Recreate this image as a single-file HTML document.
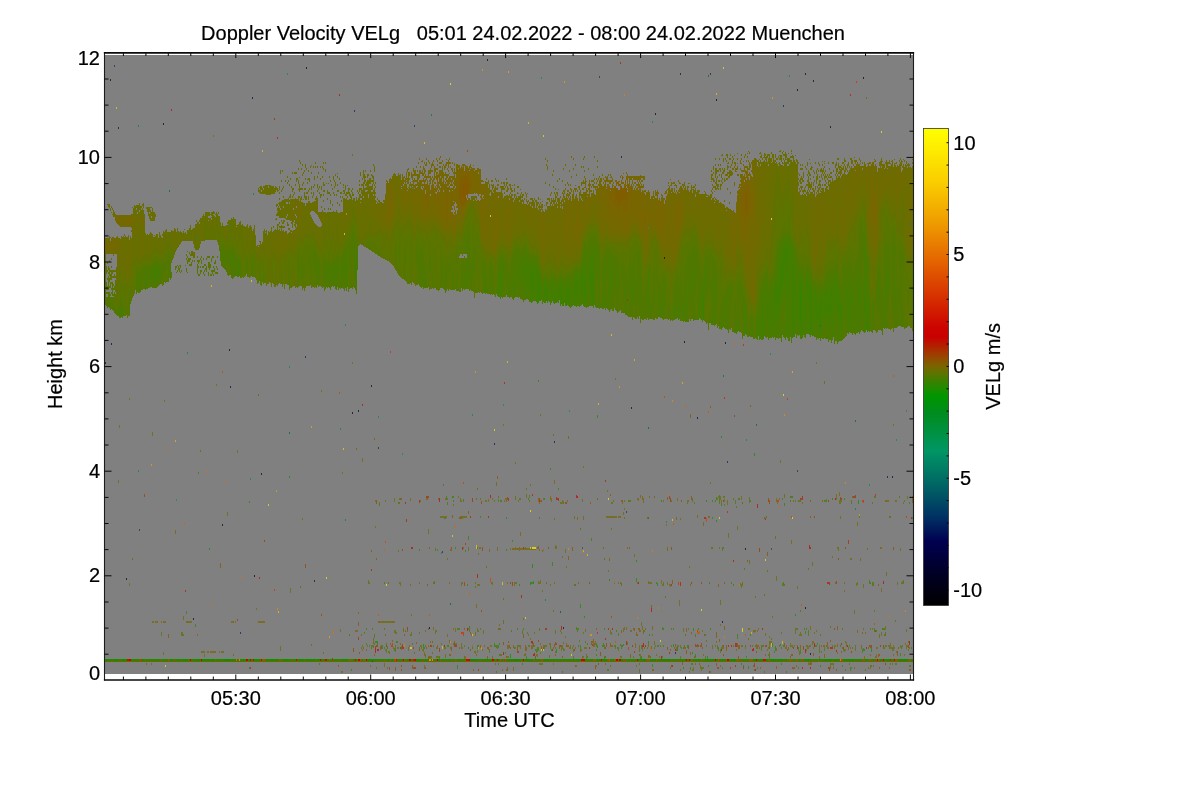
<!DOCTYPE html>
<html lang="en"><head><meta charset="utf-8"><title>Doppler Velocity VELg</title>
<style>html,body{margin:0;padding:0;background:#fff;overflow:hidden}svg text{font-family:"Liberation Sans",sans-serif}</style>
</head><body>
<svg width="1200" height="800" viewBox="0 0 1200 800" style="display:block">
<defs><linearGradient id="cb" x1="0" y1="0" x2="0" y2="1">
<stop offset="0.0000" stop-color="rgb(255, 255, 0)"/>
<stop offset="0.1132" stop-color="rgb(250, 205, 0)"/>
<stop offset="0.1992" stop-color="rgb(238, 155, 0)"/>
<stop offset="0.2642" stop-color="rgb(230, 110, 0)"/>
<stop offset="0.3501" stop-color="rgb(215, 50, 0)"/>
<stop offset="0.4151" stop-color="rgb(205, 5, 0)"/>
<stop offset="0.4361" stop-color="rgb(200, 0, 0)"/>
<stop offset="0.4549" stop-color="rgb(180, 30, 0)"/>
<stop offset="0.4717" stop-color="rgb(160, 58, 0)"/>
<stop offset="0.4864" stop-color="rgb(140, 82, 0)"/>
<stop offset="0.4998" stop-color="rgb(120, 102, 0)"/>
<stop offset="0.5136" stop-color="rgb(92, 116, 0)"/>
<stop offset="0.5283" stop-color="rgb(62, 127, 0)"/>
<stop offset="0.5451" stop-color="rgb(30, 140, 0)"/>
<stop offset="0.5618" stop-color="rgb(0, 150, 0)"/>
<stop offset="0.5975" stop-color="rgb(0, 140, 30)"/>
<stop offset="0.6751" stop-color="rgb(0, 150, 100)"/>
<stop offset="0.7484" stop-color="rgb(0, 100, 100)"/>
<stop offset="0.8134" stop-color="rgb(0, 50, 100)"/>
<stop offset="0.8658" stop-color="rgb(0, 0, 80)"/>
<stop offset="0.9455" stop-color="rgb(0, 0, 30)"/>
<stop offset="1.0000" stop-color="rgb(0, 0, 0)"/>
</linearGradient></defs>
<rect width="1200" height="800" fill="#fff"/>
<rect x="105" y="55" width="808" height="619" fill="#808080"/>
<g shape-rendering="crispEdges" fill="none" stroke-width="1">
<path stroke="rgb(52,131,0)" d="M800.5 294v16"/>
<path stroke="rgb(57,129,0)" d="M538.5 280v23M539.5 285v10M545.5 286v15M560.5 286v15M590.5 273v6M781.5 269v11M792.5 311v3M799.5 285v32M800.5 285v9M800.5 310v11M801.5 298v9M801.5 314v7"/>
<path stroke="rgb(63,127,0)" d="M154.5 271v2M485.5 287v7M525.5 265v9M530.5 276v5M531.5 268v23M532.5 266v26M533.5 272v17M537.5 271v33M538.5 274v6M539.5 278v7M539.5 295v6M540.5 285v16M544.5 285v12M545.5 282v4M545.5 301v2M546.5 288v13M551.5 288v10M555.5 298v5M556.5 296v7M559.5 287v13M560.5 281v5M560.5 301v5M561.5 295v9M563.5 296v10M564.5 300v3M565.5 304v2M566.5 290v16M567.5 286v19M568.5 288v13M569.5 284v16M574.5 282v17M575.5 284v11M576.5 276v22M581.5 273v23M582.5 270v28M583.5 290v2M584.5 279v28M585.5 274v23M586.5 288v5M589.5 267v12M590.5 262v11M590.5 279v13M591.5 272v30M592.5 274v32M593.5 272v32M703.5 300v20M762.5 299v23M772.5 314v7M775.5 285v22M776.5 282v33M778.5 283v19M779.5 287v19M780.5 263v31M781.5 259v10M781.5 280v11M782.5 259v23M783.5 249v31M784.5 244v24M785.5 247v18M786.5 252v23M787.5 250v44M788.5 244v16M792.5 264v47M792.5 314v18M793.5 277v59M794.5 281v15M799.5 278v7M799.5 317v8M800.5 279v6M800.5 321v7M801.5 284v14M801.5 307v7M801.5 321v13M805.5 302v20M807.5 279v21M808.5 281v20M809.5 291v8M810.5 285v26M810.5 315v17M811.5 286v48M815.5 293v23M816.5 302v18M818.5 304v14M819.5 306v22M820.5 301v22M821.5 298v20M822.5 305v5M825.5 289v21M826.5 292v23M828.5 294v18M829.5 298v18M830.5 303v9M831.5 288v26M832.5 293v14M835.5 286v21M836.5 286v14M838.5 296v21M839.5 303v11M840.5 303v16M841.5 307v12M860.5 288v17M864.5 297v16M866.5 323v7M867.5 315v17"/>
<path stroke="rgb(69,125,0)" d="M120.5 309v6M121.5 312v1M122.5 311v4M146.5 270v19M153.5 268v7M154.5 266v5M154.5 273v7M155.5 267v12M156.5 266v12M157.5 269v6M158.5 268v9M159.5 268v7M232.5 257v1M238.5 266v9M239.5 263v13M325.5 273v10M333.5 266v19M336.5 269v5M341.5 269v13M345.5 269v5M346.5 264v27M355.5 261v16M457.5 287v4M484.5 282v11M485.5 278v9M497.5 286v10M498.5 272v25M499.5 280v17M500.5 277v22M501.5 270v17M502.5 268v29M508.5 286v11M509.5 290v8M520.5 269v9M521.5 262v18M524.5 258v23M525.5 255v10M525.5 274v14M526.5 260v38M527.5 264v35M528.5 266v27M529.5 266v23M530.5 265v11M530.5 281v21M531.5 262v6M531.5 291v12M532.5 260v6M532.5 292v9M533.5 263v9M533.5 289v11M534.5 271v30M535.5 270v31M536.5 265v37M537.5 264v7M538.5 269v5M539.5 273v5M540.5 278v7M541.5 288v12M542.5 294v10M544.5 281v4M544.5 297v6M545.5 279v3M546.5 281v7M547.5 290v13M548.5 289v12M550.5 286v19M551.5 280v8M551.5 298v5M552.5 285v16M553.5 282v21M554.5 280v24M555.5 285v13M556.5 289v7M557.5 289v13M558.5 287v16M559.5 282v5M560.5 278v3M561.5 282v13M562.5 299v7M563.5 282v14M564.5 290v10M565.5 288v16M566.5 283v7M567.5 280v6M568.5 280v8M568.5 301v5M569.5 279v5M569.5 300v7M570.5 289v8M571.5 297v10M572.5 288v18M573.5 278v27M574.5 276v6M574.5 299v7M575.5 276v8M575.5 295v11M576.5 272v4M576.5 298v7M577.5 277v18M578.5 275v31M579.5 275v32M580.5 273v21M581.5 268v5M581.5 296v9M582.5 264v6M582.5 298v6M583.5 264v26M583.5 292v14M584.5 251v28M585.5 253v21M585.5 297v10M586.5 269v19M586.5 293v15M589.5 255v12M589.5 279v10M590.5 255v7M590.5 292v10M591.5 263v9M591.5 302v4M592.5 264v10M593.5 252v20M593.5 304v4M594.5 253v15M598.5 300v8M605.5 297v13M610.5 273v22M631.5 289v4M632.5 289v5M660.5 305v12M674.5 306v10M678.5 312v8M698.5 314v6M699.5 305v13M702.5 296v26M703.5 290v10M713.5 322v3M720.5 325v4M737.5 323v9M744.5 309v26M745.5 311v23M750.5 335v2M752.5 331v6M757.5 322v18M758.5 326v9M759.5 318v22M760.5 321v18M761.5 317v23M762.5 288v11M762.5 322v18M763.5 289v50M764.5 314v22M767.5 295v25M769.5 297v31M770.5 292v46M771.5 291v47M772.5 294v20M772.5 321v16M773.5 289v49M774.5 285v33M775.5 279v6M775.5 307v11M776.5 275v7M776.5 315v16M777.5 268v48M778.5 256v27M778.5 302v17M779.5 251v36M779.5 306v13M780.5 253v10M780.5 294v12M781.5 252v7M781.5 291v9M782.5 248v11M782.5 282v10M783.5 242v7M783.5 280v12M784.5 239v5M784.5 268v20M784.5 337v1M785.5 241v6M785.5 265v16M786.5 243v9M786.5 275v62M787.5 241v9M787.5 294v44M788.5 238v6M788.5 260v47M788.5 320v14M789.5 240v55M790.5 243v40M791.5 247v42M791.5 303v17M792.5 247v17M792.5 332v6M793.5 260v17M793.5 336v1M794.5 267v14M794.5 296v41M795.5 266v68M796.5 303v19M798.5 275v44M799.5 272v6M799.5 325v8M800.5 274v5M800.5 328v7M801.5 277v7M801.5 334v5M802.5 278v60M803.5 279v28M804.5 295v29M805.5 290v12M805.5 322v15M806.5 280v45M807.5 272v7M807.5 300v34M808.5 274v7M808.5 301v33M809.5 279v12M809.5 299v36M810.5 278v7M810.5 311v4M810.5 332v5M811.5 280v6M811.5 334v1M812.5 291v45M813.5 311v24M814.5 289v31M815.5 287v6M815.5 316v7M816.5 294v8M816.5 320v11M817.5 298v24M818.5 293v11M818.5 318v12M819.5 296v10M819.5 328v10M820.5 293v8M820.5 323v18M821.5 291v7M821.5 318v20M822.5 295v10M822.5 310v11M823.5 300v15M824.5 293v26M825.5 283v6M825.5 310v10M826.5 283v9M826.5 315v10M827.5 292v27M828.5 284v10M828.5 312v7M829.5 288v10M829.5 316v10M830.5 292v11M830.5 312v9M831.5 279v9M831.5 314v8M832.5 280v13M832.5 307v30M833.5 288v9M833.5 320v17M834.5 282v27M835.5 278v8M835.5 307v9M836.5 277v9M836.5 300v11M837.5 282v29M838.5 286v10M838.5 317v25M839.5 294v9M839.5 314v10M840.5 295v8M840.5 319v9M841.5 298v9M841.5 319v12M842.5 309v13M845.5 279v24M846.5 288v17M847.5 295v31M848.5 297v34M849.5 295v37M850.5 288v38M851.5 285v27M852.5 288v15M858.5 299v22M859.5 279v38M860.5 280v8M860.5 305v15M864.5 246v51M864.5 313v12M865.5 255v77M866.5 297v26M867.5 296v19M868.5 292v39M869.5 302v10M873.5 313v3M885.5 290v8M885.5 326v2M886.5 282v12M887.5 274v13"/>
<path stroke="rgb(74,123,0)" d="M112.5 308v2M114.5 310v3M118.5 309v6M119.5 309v6M120.5 305v4M120.5 315v3M121.5 307v5M121.5 313v4M122.5 308v3M122.5 315v3M123.5 310v6M137.5 275v17M138.5 278v15M139.5 275v18M140.5 276v10M145.5 269v21M146.5 267v3M147.5 268v17M150.5 267v17M151.5 267v20M152.5 267v13M153.5 265v3M153.5 275v6M154.5 264v2M154.5 280v8M155.5 264v3M155.5 279v8M156.5 264v2M156.5 278v5M157.5 266v3M157.5 275v6M158.5 265v3M158.5 277v6M159.5 265v3M159.5 275v6M160.5 266v11M161.5 266v10M168.5 271v11M169.5 268v10M221.5 253v5M223.5 253v7M224.5 253v16M230.5 255v7M231.5 252v12M232.5 250v7M232.5 258v11M233.5 252v20M234.5 259v4M235.5 261v7M236.5 261v15M238.5 260v6M238.5 275v2M239.5 260v3M240.5 264v14M247.5 269v5M316.5 264v12M317.5 262v21M318.5 270v5M325.5 264v9M325.5 283v6M326.5 267v20M328.5 264v11M329.5 264v16M331.5 267v16M332.5 263v22M333.5 260v6M333.5 285v2M334.5 267v16M335.5 267v14M336.5 260v9M336.5 274v14M337.5 260v21M338.5 262v22M341.5 261v8M341.5 282v6M342.5 263v9M343.5 255v17M344.5 256v27M345.5 254v15M345.5 274v14M346.5 253v11M347.5 267v20M349.5 249v7M354.5 251v29M355.5 250v11M355.5 277v9M356.5 248v40M357.5 252v18M422.5 272v15M423.5 281v8M424.5 280v8M445.5 285v8M446.5 274v6M457.5 277v10M463.5 274v15M464.5 277v13M465.5 272v17M466.5 263v26M467.5 255v30M468.5 245v22M469.5 260v12M470.5 272v12M473.5 248v21M483.5 267v19M483.5 292v1M484.5 271v11M485.5 271v7M486.5 283v10M490.5 263v29M491.5 271v5M492.5 285v10M493.5 278v16M497.5 278v8M498.5 264v8M499.5 270v10M500.5 262v15M501.5 259v11M501.5 287v10M502.5 260v8M502.5 297v1M503.5 265v32M507.5 281v16M508.5 279v7M509.5 281v9M511.5 266v20M512.5 267v24M513.5 271v29M514.5 281v17M515.5 254v43M516.5 258v38M517.5 260v15M518.5 255v24M519.5 257v40M520.5 258v11M520.5 278v20M521.5 255v7M521.5 280v11M522.5 258v26M523.5 253v39M524.5 250v8M524.5 281v19M525.5 249v6M525.5 288v12M526.5 253v7M526.5 298v1M527.5 256v8M528.5 257v9M528.5 293v7M529.5 259v7M529.5 289v10M530.5 260v5M531.5 258v4M532.5 256v4M532.5 301v1M533.5 258v5M533.5 300v1M534.5 262v9M535.5 262v8M536.5 260v5M537.5 260v4M538.5 265v4M539.5 270v3M540.5 273v5M541.5 278v10M542.5 283v11M543.5 282v20M544.5 278v3M545.5 277v2M546.5 278v3M547.5 279v11M548.5 281v8M549.5 287v15M550.5 279v7M551.5 276v4M552.5 279v6M553.5 277v5M554.5 276v4M555.5 280v5M556.5 283v6M557.5 283v6M558.5 282v5M559.5 279v3M560.5 276v2M561.5 278v4M562.5 282v17M563.5 278v4M564.5 282v8M565.5 282v6M566.5 279v4M567.5 277v3M568.5 276v4M569.5 275v4M570.5 280v9M570.5 297v11M571.5 281v16M572.5 277v11M573.5 273v5M574.5 272v4M575.5 272v4M576.5 269v3M576.5 305v2M577.5 272v5M577.5 295v11M578.5 271v4M579.5 271v4M580.5 269v4M580.5 294v12M581.5 265v3M582.5 258v6M583.5 252v12M584.5 246v5M585.5 246v7M586.5 257v12M587.5 267v40M588.5 255v31M589.5 244v11M589.5 289v8M590.5 244v11M590.5 302v4M591.5 254v9M592.5 253v11M593.5 243v9M594.5 243v10M594.5 268v37M595.5 248v26M596.5 246v27M597.5 251v14M598.5 253v47M599.5 270v39M602.5 270v11M603.5 267v42M604.5 265v43M605.5 255v42M606.5 302v6M608.5 253v49M609.5 271v30M610.5 259v14M610.5 295v8M611.5 259v36M612.5 262v26M616.5 268v20M617.5 268v25M623.5 274v17M624.5 285v28M625.5 285v30M630.5 291v10M630.5 316v1M631.5 277v12M631.5 293v13M632.5 275v14M632.5 294v16M633.5 266v28M634.5 265v33M639.5 275v25M640.5 276v21M646.5 299v8M648.5 272v43M649.5 270v40M651.5 309v9M654.5 290v11M658.5 297v20M659.5 294v23M660.5 295v10M660.5 317v1M661.5 312v6M664.5 282v21M673.5 301v19M674.5 294v12M674.5 316v4M675.5 301v18M676.5 280v9M677.5 304v14M678.5 302v10M679.5 298v21M680.5 286v12M682.5 306v15M683.5 305v16M684.5 304v8M685.5 299v23M686.5 289v33M687.5 285v23M688.5 268v23M690.5 280v19M692.5 254v40M693.5 265v27M694.5 264v23M698.5 299v15M699.5 296v9M700.5 307v5M701.5 291v29M702.5 287v9M703.5 283v7M704.5 276v45M705.5 264v25M706.5 264v25M707.5 268v12M710.5 320v3M712.5 284v41M713.5 298v24M714.5 279v47M715.5 281v23M715.5 318v7M719.5 324v5M720.5 317v8M721.5 322v8M722.5 321v7M725.5 298v31M726.5 296v33M727.5 300v30M729.5 286v16M730.5 291v7M736.5 327v7M737.5 314v9M738.5 321v10M741.5 291v8M744.5 301v8M744.5 335v1M745.5 302v9M746.5 314v21M750.5 324v11M751.5 330v7M752.5 320v11M753.5 326v13M756.5 317v22M757.5 313v9M758.5 310v16M758.5 335v1M759.5 309v9M760.5 310v11M761.5 288v29M762.5 282v6M763.5 283v6M764.5 291v23M765.5 280v57M766.5 275v48M766.5 337v1M767.5 279v16M767.5 320v17M768.5 301v27M769.5 285v12M769.5 328v10M770.5 283v9M771.5 284v7M772.5 284v10M773.5 281v8M774.5 278v7M774.5 318v19M775.5 274v5M775.5 318v19M776.5 265v10M776.5 331v7M777.5 254v14M777.5 316v22M778.5 248v8M778.5 319v20M779.5 245v6M779.5 319v19M780.5 246v7M780.5 306v32M781.5 244v8M781.5 300v9M781.5 337v5M782.5 240v8M782.5 292v14M782.5 324v11M783.5 237v5M783.5 292v9M783.5 330v7M784.5 235v4M784.5 288v11M784.5 329v8M785.5 237v4M785.5 281v59M786.5 238v5M787.5 237v4M788.5 234v4M788.5 307v13M788.5 334v7M789.5 236v4M789.5 295v35M790.5 239v4M790.5 283v54M791.5 241v6M791.5 289v14M791.5 320v23M792.5 243v4M793.5 249v11M794.5 256v11M795.5 255v11M796.5 262v41M796.5 322v16M797.5 264v58M798.5 267v8M798.5 319v11M799.5 267v5M799.5 333v2M800.5 269v5M800.5 335v4M801.5 270v7M802.5 270v8M803.5 271v8M803.5 307v28M804.5 283v12M804.5 324v13M805.5 278v12M805.5 337v1M806.5 271v9M806.5 325v9M807.5 268v4M808.5 269v5M809.5 273v6M810.5 273v5M811.5 276v4M812.5 285v6M813.5 293v18M813.5 335v1M814.5 285v4M814.5 320v17M815.5 284v3M815.5 323v10M816.5 288v6M816.5 331v9M817.5 292v6M817.5 322v8M818.5 287v6M818.5 330v9M819.5 289v7M820.5 288v5M821.5 286v5M822.5 289v6M822.5 321v12M823.5 291v9M823.5 315v9M824.5 285v8M824.5 319v13M825.5 278v5M825.5 320v12M826.5 276v7M826.5 325v14M827.5 281v11M827.5 319v20M828.5 276v8M828.5 319v10M828.5 333v9M829.5 278v10M829.5 326v14M830.5 280v12M830.5 321v9M830.5 338v2M831.5 272v7M831.5 322v10M832.5 273v7M832.5 337v3M833.5 274v14M833.5 297v23M834.5 273v9M834.5 309v35M835.5 272v6M835.5 316v6M836.5 270v7M836.5 311v11M837.5 273v9M837.5 311v33M838.5 279v7M839.5 287v7M839.5 324v17M840.5 289v6M840.5 328v13M841.5 292v6M841.5 331v10M842.5 295v14M842.5 322v18M844.5 286v13M845.5 266v13M845.5 303v12M846.5 276v12M846.5 305v26M847.5 279v16M847.5 326v7M848.5 276v21M848.5 331v3M849.5 276v19M850.5 270v18M850.5 326v7M851.5 275v10M851.5 312v14M852.5 278v10M852.5 303v21M853.5 297v36M854.5 287v47M855.5 277v58M856.5 277v27M856.5 314v19M857.5 270v63M858.5 264v35M858.5 321v11M859.5 264v15M859.5 317v17M860.5 271v9M860.5 320v12M861.5 280v32M863.5 250v9M863.5 287v45M864.5 237v9M864.5 325v8M865.5 242v13M866.5 267v30M867.5 281v15M868.5 280v12M869.5 291v11M869.5 312v20M870.5 330v1M872.5 313v1M873.5 303v10M873.5 316v14M874.5 312v18M877.5 283v18M878.5 281v20M879.5 283v17M882.5 299v19M884.5 313v16M885.5 269v21M885.5 298v28M886.5 268v14M886.5 294v11M886.5 322v7M887.5 259v15M887.5 287v12M888.5 262v31M895.5 278v39M896.5 291v19M900.5 315v11M901.5 318v9"/>
<path stroke="rgb(80,120,0)" d="M107.5 303v5M108.5 302v5M109.5 302v6M110.5 305v5M111.5 293v1M111.5 297v12M112.5 290v6M112.5 297v11M113.5 288v2M113.5 294v1M113.5 306v5M114.5 305v5M115.5 309v5M117.5 309v7M118.5 306v3M118.5 315v1M119.5 306v3M119.5 315v3M120.5 297v8M121.5 298v9M122.5 304v4M123.5 306v4M126.5 309v6M128.5 311v2M129.5 304v12M130.5 303v1M136.5 274v20M137.5 269v6M138.5 271v7M139.5 270v5M140.5 269v7M140.5 286v6M141.5 271v19M142.5 269v12M143.5 265v17M144.5 265v24M145.5 266v3M146.5 265v2M147.5 265v3M147.5 285v4M148.5 266v12M149.5 266v12M150.5 265v2M150.5 284v3M151.5 265v2M152.5 264v3M152.5 280v8M153.5 262v3M153.5 281v7M154.5 260v4M155.5 260v4M155.5 287v1M156.5 260v4M156.5 283v5M157.5 263v3M157.5 281v6M158.5 263v2M158.5 283v3M159.5 263v2M159.5 281v4M160.5 264v2M160.5 277v7M161.5 263v3M161.5 276v8M162.5 263v13M163.5 262v17M164.5 263v11M164.5 279v3M165.5 260v13M166.5 260v7M167.5 278v4M168.5 253v18M169.5 256v12M170.5 266v14M187.5 263v1M187.5 272v1M203.5 258v2M203.5 266v2M203.5 272v2M204.5 264v2M204.5 270v2M204.5 274v2M214.5 262v1M215.5 260v3M220.5 247v14M221.5 247v6M221.5 258v8M222.5 247v15M223.5 246v7M223.5 260v8M224.5 248v5M225.5 251v19M226.5 250v22M227.5 250v14M228.5 249v17M229.5 251v16M230.5 250v5M230.5 262v13M231.5 249v3M231.5 264v11M232.5 247v3M232.5 269v10M233.5 248v4M233.5 272v6M234.5 251v8M234.5 263v14M235.5 254v7M235.5 268v8M236.5 257v4M237.5 261v16M238.5 257v3M239.5 257v3M240.5 259v5M246.5 257v17M247.5 260v9M247.5 274v3M251.5 261v15M252.5 261v16M260.5 274v11M263.5 274v10M288.5 274v11M289.5 283v7M297.5 254v24M298.5 254v28M299.5 262v9M301.5 265v15M302.5 262v18M303.5 265v12M304.5 261v13M309.5 257v10M310.5 255v23M311.5 263v14M313.5 250v16M314.5 249v26M315.5 252v18M316.5 255v9M316.5 276v10M317.5 256v6M317.5 283v2M318.5 261v9M318.5 275v12M319.5 261v19M323.5 257v25M324.5 260v31M325.5 260v4M326.5 262v5M327.5 263v18M328.5 260v4M328.5 275v7M329.5 258v6M329.5 280v8M330.5 264v26M331.5 262v5M331.5 283v4M332.5 259v4M332.5 285v1M333.5 257v3M334.5 260v7M334.5 283v3M335.5 260v7M335.5 281v8M336.5 256v4M336.5 288v2M337.5 256v4M337.5 281v6M338.5 257v5M338.5 284v6M340.5 260v29M341.5 256v5M342.5 255v8M342.5 272v12M343.5 248v7M343.5 272v11M344.5 249v7M344.5 283v8M345.5 247v7M346.5 245v8M347.5 248v19M349.5 238v11M349.5 256v11M350.5 241v47M351.5 242v27M351.5 284v4M352.5 232v21M353.5 232v33M354.5 239v12M354.5 280v8M355.5 241v9M355.5 286v4M356.5 240v8M356.5 288v6M357.5 243v9M367.5 245v3M368.5 247v2M369.5 248v2M370.5 244v6M380.5 253v4M395.5 243v26M396.5 247v15M399.5 243v19M404.5 251v29M405.5 245v20M410.5 279v4M416.5 243v24M417.5 245v37M418.5 254v20M419.5 251v25M420.5 254v32M421.5 247v41M422.5 246v26M423.5 255v26M424.5 263v17M425.5 263v25M426.5 269v19M429.5 255v17M430.5 251v24M432.5 274v14M436.5 286v4M440.5 256v31M441.5 260v22M442.5 258v26M444.5 280v10M445.5 266v19M446.5 262v12M446.5 280v11M447.5 267v9M448.5 263v18M451.5 265v11M452.5 267v23M453.5 270v20M455.5 288v1M456.5 249v15M456.5 276v15M457.5 262v15M458.5 288v3M460.5 264v7M461.5 258v30M462.5 261v30M463.5 261v13M464.5 264v13M465.5 233v21M465.5 258v14M466.5 242v12M466.5 258v5M467.5 234v21M467.5 285v4M468.5 229v16M468.5 267v13M469.5 231v29M469.5 272v10M470.5 262v10M470.5 284v6M471.5 267v21M472.5 255v23M473.5 234v14M473.5 269v23M474.5 246v27M482.5 259v19M483.5 261v6M483.5 286v6M484.5 264v7M485.5 264v7M486.5 274v9M487.5 288v6M489.5 263v31M490.5 260v3M490.5 292v3M491.5 262v9M491.5 276v18M492.5 269v16M493.5 270v8M494.5 289v6M496.5 287v7M497.5 268v10M498.5 259v5M499.5 261v9M500.5 254v8M501.5 253v6M502.5 254v6M503.5 257v8M504.5 260v37M505.5 261v12M506.5 257v26M507.5 261v20M508.5 273v6M509.5 275v6M510.5 273v24M511.5 257v9M511.5 286v11M512.5 255v12M512.5 291v8M513.5 252v19M514.5 250v31M515.5 245v9M516.5 248v10M516.5 296v1M517.5 249v11M517.5 275v12M518.5 247v8M518.5 279v19M519.5 248v9M520.5 252v6M520.5 298v1M521.5 250v5M521.5 291v8M522.5 250v8M522.5 284v16M523.5 247v6M523.5 292v10M524.5 244v6M525.5 244v5M526.5 248v5M527.5 251v5M528.5 252v5M529.5 255v4M529.5 299v3M530.5 256v4M531.5 255v3M532.5 253v3M533.5 255v3M534.5 257v5M535.5 257v5M536.5 256v4M537.5 256v4M538.5 261v4M539.5 266v4M540.5 269v4M541.5 274v4M542.5 277v6M543.5 278v4M544.5 276v2M545.5 274v3M546.5 275v3M547.5 275v4M548.5 277v4M549.5 281v6M550.5 275v4M551.5 272v4M552.5 276v3M553.5 274v3M554.5 273v3M555.5 276v4M556.5 279v4M557.5 279v4M558.5 278v4M559.5 276v3M560.5 274v2M561.5 275v3M562.5 278v4M563.5 275v3M564.5 278v4M565.5 278v4M566.5 276v3M567.5 274v3M568.5 274v2M569.5 273v2M570.5 275v5M571.5 275v6M572.5 272v5M573.5 269v4M574.5 269v3M575.5 268v4M576.5 266v3M577.5 269v3M578.5 268v3M579.5 268v3M580.5 266v3M581.5 262v3M582.5 253v5M583.5 247v5M584.5 243v3M585.5 242v4M586.5 246v11M587.5 251v16M588.5 240v15M588.5 286v21M589.5 236v8M589.5 297v9M590.5 235v9M591.5 240v14M592.5 238v15M593.5 236v7M594.5 236v7M595.5 238v10M595.5 274v33M596.5 238v8M596.5 273v10M597.5 242v9M597.5 265v12M597.5 305v3M598.5 242v11M599.5 252v18M600.5 296v12M601.5 305v3M602.5 261v9M602.5 281v28M603.5 259v8M604.5 256v9M605.5 249v6M606.5 252v50M607.5 249v25M607.5 292v17M608.5 247v6M608.5 302v8M609.5 253v18M609.5 301v11M610.5 252v7M610.5 303v7M611.5 252v7M611.5 295v13M612.5 252v10M612.5 288v21M613.5 257v54M614.5 259v32M615.5 257v40M616.5 256v12M616.5 288v23M617.5 257v11M617.5 293v19M618.5 265v39M619.5 268v20M619.5 300v11M620.5 309v1M621.5 261v18M621.5 304v9M622.5 263v20M623.5 259v15M623.5 291v11M624.5 264v21M625.5 270v15M626.5 271v44M627.5 279v21M628.5 270v32M629.5 262v55M630.5 256v35M630.5 301v15M631.5 266v11M631.5 306v11M632.5 262v13M632.5 310v10M633.5 254v12M633.5 294v12M634.5 252v13M634.5 298v9M635.5 262v45M636.5 284v34M637.5 251v55M638.5 250v52M639.5 254v21M639.5 300v16M640.5 260v16M640.5 297v26M641.5 301v18M642.5 292v28M643.5 295v25M644.5 310v8M645.5 287v26M646.5 281v18M646.5 307v9M647.5 286v30M648.5 267v5M648.5 315v5M649.5 265v5M649.5 310v9M650.5 301v18M651.5 297v12M651.5 318v1M652.5 294v17M653.5 273v40M654.5 267v23M654.5 301v18M656.5 277v5M657.5 265v54M658.5 279v18M659.5 285v9M660.5 285v10M661.5 283v29M662.5 278v41M663.5 274v46M664.5 275v7M664.5 303v14M665.5 277v31M668.5 301v19M669.5 309v10M670.5 313v8M671.5 318v2M673.5 288v13M674.5 285v9M675.5 283v18M676.5 271v9M676.5 289v30M677.5 277v27M678.5 292v10M679.5 285v13M680.5 273v13M680.5 298v13M681.5 279v39M682.5 296v10M683.5 265v40M683.5 321v1M684.5 271v33M684.5 312v9M685.5 266v33M686.5 258v31M687.5 255v30M687.5 308v14M688.5 250v18M688.5 291v16M689.5 252v50M690.5 255v25M690.5 299v13M691.5 254v51M691.5 315v4M692.5 241v13M692.5 294v25M693.5 249v16M693.5 292v29M694.5 249v15M694.5 287v33M695.5 244v47M695.5 316v4M696.5 246v28M697.5 249v56M697.5 317v3M698.5 261v38M699.5 260v36M700.5 270v37M700.5 312v7M701.5 275v16M702.5 278v9M703.5 277v6M704.5 263v13M705.5 257v7M705.5 289v10M706.5 256v8M706.5 289v10M707.5 254v14M707.5 280v18M708.5 257v34M708.5 322v8M709.5 317v6M710.5 253v37M710.5 311v9M711.5 281v17M711.5 321v4M712.5 256v28M713.5 260v38M714.5 262v17M715.5 264v17M715.5 304v14M716.5 268v56M719.5 311v13M720.5 267v18M720.5 307v10M721.5 291v31M722.5 299v22M723.5 295v32M724.5 296v26M725.5 291v7M726.5 287v9M727.5 285v15M728.5 285v48M729.5 282v4M729.5 302v27M730.5 284v7M730.5 298v13M731.5 285v20M732.5 285v10M733.5 329v3M734.5 301v32M735.5 300v33M736.5 315v12M737.5 283v31M738.5 282v39M739.5 281v20M739.5 320v12M740.5 282v17M741.5 281v10M741.5 299v15M742.5 288v33M743.5 296v40M744.5 296v5M745.5 296v6M746.5 304v10M747.5 312v25M749.5 323v13M750.5 315v9M751.5 318v12M752.5 315v5M753.5 319v7M756.5 310v7M757.5 306v7M758.5 303v7M759.5 301v8M760.5 287v23M761.5 281v7M762.5 277v5M763.5 278v5M764.5 280v11M765.5 272v8M766.5 269v6M766.5 323v14M767.5 271v8M768.5 288v13M768.5 328v12M769.5 279v6M770.5 278v5M771.5 279v5M772.5 277v7M773.5 274v7M774.5 272v6M775.5 267v7M775.5 337v3M776.5 251v14M777.5 248v6M778.5 243v5M779.5 240v5M780.5 240v6M781.5 238v6M781.5 309v28M782.5 235v5M782.5 306v18M783.5 232v5M783.5 301v12M783.5 319v11M784.5 230v5M784.5 299v13M784.5 317v12M785.5 233v4M786.5 234v4M787.5 233v4M788.5 230v4M789.5 232v4M789.5 330v11M790.5 235v4M791.5 238v3M792.5 239v4M793.5 244v5M794.5 248v8M795.5 248v7M796.5 251v11M797.5 253v11M797.5 322v13M798.5 261v6M798.5 330v6M799.5 261v6M800.5 263v6M801.5 264v6M802.5 264v6M803.5 265v6M804.5 275v8M805.5 269v9M806.5 264v7M807.5 263v5M808.5 264v5M809.5 267v6M810.5 269v4M811.5 273v3M812.5 280v5M813.5 286v7M814.5 281v4M815.5 281v3M815.5 333v4M816.5 284v4M817.5 287v5M817.5 330v8M818.5 282v5M819.5 283v6M820.5 284v4M821.5 282v4M822.5 285v4M822.5 333v6M823.5 285v6M823.5 324v9M824.5 280v5M824.5 332v6M825.5 273v5M825.5 332v7M826.5 269v7M827.5 272v9M828.5 269v7M828.5 329v4M829.5 269v9M830.5 270v10M830.5 330v8M831.5 267v5M831.5 332v11M832.5 266v7M833.5 267v7M834.5 266v7M835.5 265v7M835.5 322v8M836.5 262v8M836.5 322v19M837.5 264v9M838.5 271v8M839.5 280v7M840.5 283v6M841.5 283v9M842.5 260v35M843.5 263v76M844.5 267v19M844.5 299v16M845.5 258v8M845.5 315v14M846.5 266v10M846.5 331v5M847.5 263v16M848.5 261v15M849.5 262v14M850.5 258v12M851.5 263v12M851.5 326v7M852.5 266v12M852.5 324v11M853.5 279v18M854.5 266v21M855.5 264v13M856.5 262v15M856.5 304v10M857.5 259v11M858.5 251v13M859.5 228v36M860.5 222v49M861.5 223v57M861.5 312v18M862.5 233v23M862.5 279v52M863.5 233v17M863.5 259v28M864.5 229v8M865.5 233v9M866.5 250v17M867.5 265v16M868.5 262v18M869.5 281v10M870.5 299v31M871.5 331v1M872.5 304v9M872.5 314v18M873.5 299v4M874.5 302v10M876.5 279v28M877.5 271v12M877.5 301v12M878.5 267v14M878.5 301v11M878.5 327v3M879.5 266v17M879.5 300v17M880.5 270v58M881.5 290v41M882.5 284v15M882.5 318v17M883.5 295v33M884.5 246v67M885.5 239v30M886.5 242v26M886.5 305v17M887.5 241v18M887.5 299v11M887.5 319v9M888.5 244v18M888.5 293v14M889.5 252v36M891.5 244v65M892.5 241v68M893.5 238v94M894.5 234v94M895.5 242v36M895.5 317v11M896.5 264v27M896.5 310v18M897.5 291v36M898.5 288v38M899.5 248v18M899.5 280v22M899.5 320v6M900.5 246v69M901.5 252v66M902.5 251v11M902.5 287v40M903.5 255v13M903.5 311v16M904.5 319v10M908.5 287v12M912.5 269v50"/>
<path stroke="rgb(86,118,0)" d="M105.5 280v23M106.5 286v4M106.5 292v2M106.5 297v9M107.5 292v2M107.5 297v6M108.5 292v10M109.5 292v10M110.5 294v2M110.5 297v8M111.5 283v1M111.5 288v2M111.5 292v1M112.5 282v8M113.5 284v2M113.5 295v1M113.5 297v9M114.5 286v4M114.5 292v13M115.5 304v5M116.5 309v6M117.5 306v3M118.5 303v3M119.5 301v5M120.5 285v12M121.5 285v13M122.5 298v6M123.5 302v4M124.5 286v7M124.5 310v4M125.5 284v32M126.5 303v6M127.5 307v11M128.5 298v13M128.5 313v3M129.5 291v13M130.5 286v17M131.5 282v19M135.5 281v9M136.5 267v7M137.5 265v4M138.5 267v4M139.5 267v3M140.5 266v3M141.5 266v5M142.5 265v4M142.5 281v9M143.5 262v3M143.5 282v7M144.5 263v2M145.5 264v2M146.5 263v2M147.5 263v2M148.5 264v2M148.5 278v6M149.5 263v3M149.5 278v5M150.5 263v2M151.5 263v2M152.5 261v3M153.5 258v4M154.5 257v3M155.5 257v3M156.5 256v4M157.5 258v5M158.5 259v4M159.5 259v4M160.5 261v3M161.5 260v3M162.5 261v2M162.5 276v6M163.5 259v3M163.5 279v6M164.5 257v6M164.5 274v5M165.5 255v5M165.5 273v10M166.5 253v7M166.5 267v15M167.5 253v25M168.5 250v3M169.5 251v5M170.5 254v12M175.5 266v4M176.5 266v2M176.5 272v1M177.5 265v1M177.5 270v2M178.5 266v4M179.5 265v1M180.5 272v1M181.5 270v2M186.5 268v4M187.5 260v3M189.5 264v2M190.5 264v2M197.5 257v1M197.5 260v2M197.5 264v10M198.5 260v4M198.5 266v2M198.5 274v2M199.5 261v1M199.5 274v2M200.5 258v2M200.5 266v2M200.5 270v3M205.5 264v2M205.5 268v2M206.5 258v2M206.5 266v6M207.5 256v2M208.5 256v2M208.5 262v6M208.5 272v4M209.5 256v2M209.5 262v8M210.5 264v2M211.5 258v4M212.5 256v2M213.5 256v2M213.5 266v2M213.5 270v2M213.5 274v2M214.5 263v1M214.5 268v4M215.5 263v1M215.5 272v2M216.5 266v2M216.5 272v2M217.5 256v2M217.5 268v2M217.5 272v2M219.5 245v6M220.5 244v3M221.5 244v3M222.5 244v3M222.5 262v5M223.5 243v3M224.5 244v4M225.5 247v4M226.5 246v4M227.5 246v4M227.5 264v8M228.5 246v3M228.5 266v9M229.5 248v3M229.5 267v8M230.5 247v3M231.5 245v4M231.5 275v3M232.5 241v6M233.5 244v4M234.5 248v3M235.5 251v3M236.5 254v3M237.5 257v4M238.5 253v4M239.5 252v5M240.5 255v4M241.5 261v17M245.5 259v6M246.5 253v4M247.5 255v5M248.5 258v19M251.5 254v7M252.5 254v7M253.5 253v24M254.5 253v24M255.5 257v21M257.5 263v4M258.5 264v13M259.5 263v18M260.5 264v10M261.5 277v9M262.5 277v5M263.5 259v15M264.5 270v13M275.5 266v18M281.5 266v18M282.5 269v18M288.5 258v16M289.5 265v18M290.5 286v2M297.5 247v7M297.5 278v10M298.5 245v9M298.5 282v5M299.5 248v14M299.5 271v10M300.5 255v24M301.5 255v10M301.5 280v6M302.5 251v11M302.5 280v10M303.5 251v14M303.5 277v11M304.5 245v16M304.5 274v17M305.5 245v43M306.5 245v41M307.5 247v28M308.5 243v26M309.5 243v14M309.5 267v19M310.5 244v11M310.5 278v7M311.5 246v17M311.5 277v11M312.5 244v43M313.5 243v7M313.5 266v12M314.5 244v5M314.5 275v13M315.5 247v5M315.5 270v17M316.5 250v5M316.5 286v2M317.5 251v5M318.5 257v4M319.5 256v5M319.5 280v6M320.5 257v26M321.5 263v17M322.5 257v31M323.5 251v6M323.5 282v5M324.5 255v5M325.5 256v4M326.5 258v4M327.5 260v3M327.5 281v7M328.5 250v10M328.5 282v5M329.5 249v9M330.5 260v4M331.5 259v3M332.5 255v4M333.5 252v5M334.5 256v4M335.5 256v4M336.5 253v3M337.5 253v3M338.5 253v4M339.5 256v32M340.5 254v6M341.5 252v4M342.5 251v4M342.5 284v4M343.5 244v4M343.5 283v6M344.5 244v5M345.5 242v5M346.5 239v6M347.5 239v9M348.5 238v29M348.5 284v8M349.5 232v6M349.5 267v22M350.5 232v9M351.5 230v12M351.5 269v15M352.5 225v7M352.5 253v36M353.5 223v9M353.5 265v22M354.5 228v11M355.5 232v9M356.5 232v8M357.5 237v6M365.5 246v1M366.5 243v5M367.5 241v4M368.5 241v6M369.5 240v8M370.5 237v7M371.5 239v12M372.5 242v10M373.5 242v10M374.5 244v9M375.5 245v9M376.5 245v9M377.5 248v7M378.5 251v5M379.5 248v8M380.5 242v11M381.5 246v12M386.5 254v6M387.5 249v12M394.5 250v9M395.5 237v6M395.5 269v1M396.5 235v12M396.5 262v9M397.5 263v10M398.5 243v32M399.5 228v15M399.5 262v14M400.5 230v47M403.5 248v31M404.5 239v12M405.5 237v8M405.5 265v16M406.5 237v27M409.5 236v48M410.5 237v42M411.5 241v44M412.5 244v35M415.5 246v19M416.5 236v7M416.5 267v18M417.5 237v8M417.5 282v3M418.5 241v13M418.5 274v10M419.5 241v10M419.5 276v10M420.5 243v11M420.5 286v1M421.5 239v8M422.5 238v8M423.5 239v16M424.5 241v22M425.5 244v19M426.5 253v16M427.5 263v25M428.5 244v43M429.5 241v14M429.5 272v17M430.5 240v11M430.5 275v7M431.5 261v28M432.5 248v26M433.5 246v43M434.5 245v43M435.5 242v46M436.5 276v10M437.5 285v5M438.5 279v12M439.5 238v52M440.5 243v13M440.5 287v1M441.5 250v10M441.5 282v6M442.5 250v8M442.5 284v4M443.5 257v32M444.5 255v25M445.5 255v11M446.5 256v6M447.5 258v9M447.5 276v11M448.5 255v8M448.5 281v10M449.5 258v31M450.5 255v22M451.5 254v11M451.5 276v14M452.5 255v12M453.5 254v16M454.5 257v33M455.5 251v37M456.5 241v8M456.5 264v12M457.5 242v20M458.5 244v22M458.5 272v16M459.5 247v9M460.5 244v10M460.5 258v6M460.5 271v21M461.5 243v11M462.5 240v16M462.5 258v3M463.5 235v19M463.5 258v3M464.5 232v22M464.5 256v8M465.5 225v8M466.5 227v15M467.5 224v10M468.5 221v8M468.5 280v9M469.5 222v9M469.5 282v9M470.5 230v14M470.5 247v15M471.5 258v9M471.5 288v3M472.5 221v34M472.5 278v13M473.5 223v11M474.5 236v10M474.5 273v25M475.5 237v56M476.5 234v59M477.5 232v42M478.5 232v60M479.5 238v55M480.5 247v34M481.5 256v20M482.5 253v6M482.5 278v7M483.5 256v5M484.5 259v5M485.5 259v5M486.5 262v12M487.5 265v23M488.5 262v32M489.5 259v4M490.5 257v3M491.5 259v3M492.5 263v6M493.5 264v6M494.5 267v22M495.5 295v2M496.5 281v6M497.5 259v9M498.5 255v4M499.5 255v6M500.5 250v4M501.5 250v3M502.5 250v4M503.5 252v5M504.5 253v7M505.5 255v6M505.5 273v10M506.5 253v4M506.5 283v12M507.5 255v6M508.5 263v10M509.5 267v8M510.5 260v13M511.5 252v5M512.5 250v5M513.5 247v5M514.5 244v6M515.5 241v4M516.5 243v5M517.5 244v5M517.5 287v10M518.5 243v4M519.5 244v4M520.5 247v5M521.5 246v4M522.5 246v4M523.5 242v5M524.5 240v4M525.5 240v4M526.5 243v5M527.5 247v4M528.5 248v4M529.5 251v4M530.5 253v3M531.5 252v3M532.5 251v2M533.5 252v3M534.5 254v3M535.5 253v4M536.5 253v3M537.5 253v3M538.5 258v3M539.5 263v3M540.5 266v3M541.5 270v4M542.5 274v3M543.5 275v3M544.5 273v3M545.5 272v2M546.5 271v4M547.5 269v6M548.5 273v4M549.5 277v4M550.5 271v4M551.5 269v3M552.5 272v4M553.5 271v3M554.5 269v4M555.5 273v3M556.5 276v3M557.5 276v3M558.5 275v3M559.5 274v2M560.5 271v3M561.5 271v4M562.5 274v4M563.5 271v4M564.5 275v3M565.5 275v3M566.5 274v2M567.5 272v2M568.5 271v3M569.5 270v3M570.5 272v3M571.5 271v4M572.5 269v3M573.5 267v2M574.5 266v3M575.5 266v2M576.5 264v2M577.5 267v2M578.5 266v2M579.5 266v2M580.5 263v3M581.5 258v4M582.5 249v4M583.5 243v4M584.5 240v3M585.5 239v3M586.5 240v6M587.5 239v12M588.5 234v6M589.5 231v5M590.5 231v4M591.5 232v8M592.5 231v7M593.5 231v5M594.5 231v5M595.5 232v6M596.5 232v6M596.5 283v25M597.5 236v6M597.5 277v12M597.5 294v11M598.5 236v6M599.5 243v9M600.5 259v37M601.5 261v21M601.5 295v10M602.5 254v7M603.5 254v5M604.5 251v5M605.5 245v4M606.5 246v6M607.5 244v5M607.5 274v18M608.5 243v4M609.5 248v5M610.5 248v4M611.5 248v4M611.5 308v1M612.5 247v5M612.5 309v2M613.5 249v8M614.5 250v9M614.5 291v17M615.5 250v7M615.5 297v13M616.5 249v7M617.5 250v7M617.5 312v1M618.5 254v11M618.5 304v8M619.5 254v14M619.5 288v12M620.5 254v55M621.5 250v11M621.5 279v25M622.5 253v10M622.5 283v30M623.5 250v9M623.5 302v11M624.5 251v13M625.5 252v18M626.5 253v18M627.5 263v16M627.5 300v16M628.5 259v11M628.5 302v15M629.5 248v14M630.5 245v11M631.5 248v18M632.5 245v17M633.5 243v11M633.5 306v11M634.5 243v9M634.5 307v11M635.5 241v21M635.5 307v12M636.5 241v43M636.5 318v1M637.5 242v9M637.5 306v11M638.5 242v8M638.5 302v17M639.5 245v9M640.5 251v9M641.5 260v41M642.5 276v16M643.5 277v18M644.5 278v32M644.5 318v1M645.5 273v14M645.5 313v6M646.5 272v9M646.5 316v4M647.5 274v12M647.5 316v2M648.5 263v4M649.5 260v5M650.5 264v37M651.5 274v23M652.5 274v20M652.5 311v8M653.5 260v13M653.5 313v7M654.5 246v21M654.5 319v1M655.5 252v66M656.5 255v22M656.5 282v37M657.5 254v11M658.5 264v15M659.5 275v10M660.5 275v10M661.5 270v13M662.5 270v8M663.5 269v5M664.5 271v4M664.5 317v2M665.5 272v5M665.5 308v11M666.5 281v7M666.5 302v17M667.5 300v19M668.5 277v24M669.5 286v23M670.5 304v9M671.5 305v13M672.5 297v24M673.5 278v10M674.5 278v7M675.5 273v10M676.5 267v4M677.5 269v8M678.5 275v17M679.5 273v12M680.5 259v14M680.5 311v10M681.5 250v29M681.5 318v3M682.5 245v51M683.5 247v18M684.5 249v22M685.5 243v23M686.5 242v16M687.5 244v11M688.5 242v8M688.5 307v15M689.5 243v9M689.5 302v17M690.5 243v12M690.5 312v9M691.5 241v13M691.5 305v10M692.5 233v8M693.5 236v13M694.5 235v14M695.5 238v6M695.5 291v25M696.5 240v6M696.5 274v33M696.5 313v7M697.5 242v7M697.5 305v12M698.5 249v12M699.5 252v8M700.5 256v14M701.5 260v15M702.5 267v11M703.5 264v13M704.5 255v8M705.5 252v5M705.5 299v8M706.5 250v6M706.5 299v8M707.5 248v6M707.5 298v25M708.5 250v7M708.5 291v14M708.5 312v10M709.5 250v40M709.5 310v7M710.5 247v6M710.5 290v21M711.5 250v31M711.5 298v23M712.5 250v6M713.5 254v6M714.5 255v7M715.5 257v7M716.5 259v9M717.5 262v66M718.5 269v57M719.5 269v42M720.5 259v8M720.5 285v22M721.5 261v30M722.5 288v11M723.5 287v8M724.5 288v8M724.5 322v6M725.5 285v6M726.5 280v7M727.5 279v6M728.5 280v5M729.5 278v4M730.5 280v4M730.5 311v19M731.5 280v5M731.5 305v16M732.5 279v6M732.5 295v14M732.5 318v14M733.5 280v49M734.5 283v18M735.5 284v16M736.5 283v32M737.5 275v8M738.5 275v7M739.5 272v9M739.5 301v19M740.5 273v9M740.5 299v33M741.5 274v7M741.5 314v19M742.5 280v8M742.5 321v18M743.5 287v9M744.5 290v6M745.5 290v6M746.5 297v7M747.5 303v9M748.5 316v21M749.5 313v10M750.5 308v7M751.5 311v7M752.5 311v4M753.5 315v4M754.5 315v24M755.5 313v25M756.5 304v6M757.5 298v8M758.5 295v8M759.5 293v8M760.5 278v9M761.5 275v6M762.5 273v4M763.5 273v5M764.5 273v7M765.5 267v5M766.5 264v5M767.5 266v5M768.5 279v9M769.5 273v6M770.5 272v6M771.5 273v6M772.5 270v7M773.5 251v23M774.5 262v10M775.5 256v11M776.5 238v13M777.5 243v5M778.5 237v6M779.5 235v5M780.5 235v5M781.5 232v6M782.5 230v5M783.5 228v4M783.5 313v6M784.5 220v10M784.5 312v5M785.5 228v5M786.5 229v5M787.5 224v9M788.5 215v15M789.5 218v14M790.5 229v6M791.5 235v3M792.5 237v2M793.5 241v3M794.5 244v4M795.5 244v4M796.5 246v5M797.5 247v6M798.5 255v6M799.5 254v7M800.5 254v9M801.5 253v11M802.5 255v9M803.5 255v10M804.5 268v7M805.5 260v9M806.5 256v8M807.5 257v6M808.5 259v5M809.5 263v4M810.5 265v4M811.5 269v4M812.5 277v3M813.5 281v5M814.5 278v3M815.5 278v3M816.5 280v4M817.5 283v4M818.5 278v4M819.5 278v5M820.5 280v4M821.5 278v4M822.5 280v5M823.5 280v5M823.5 333v6M824.5 274v6M825.5 267v6M826.5 259v10M827.5 263v9M828.5 261v8M829.5 260v9M830.5 262v8M831.5 261v6M832.5 259v7M833.5 261v6M834.5 259v7M835.5 255v10M835.5 330v11M836.5 248v14M837.5 249v15M838.5 252v19M839.5 271v9M840.5 275v8M841.5 270v13M842.5 253v7M843.5 255v8M844.5 258v9M844.5 315v23M845.5 252v6M845.5 329v8M846.5 257v9M847.5 252v11M848.5 250v11M849.5 251v11M850.5 246v12M851.5 247v16M852.5 253v13M853.5 259v20M854.5 251v15M855.5 254v10M856.5 252v10M857.5 248v11M858.5 225v26M859.5 219v9M860.5 215v7M861.5 215v8M862.5 221v12M862.5 256v23M863.5 221v12M864.5 220v9M865.5 226v7M866.5 237v13M867.5 255v10M868.5 254v8M869.5 259v22M870.5 290v9M871.5 307v24M872.5 299v5M872.5 332v1M873.5 294v5M874.5 295v7M875.5 288v43M876.5 268v11M876.5 307v16M877.5 261v10M877.5 313v19M878.5 256v11M878.5 312v15M879.5 254v12M879.5 317v13M880.5 253v17M880.5 328v2M881.5 255v35M882.5 267v17M883.5 242v53M884.5 232v14M885.5 217v22M886.5 213v29M887.5 217v24M887.5 310v9M888.5 225v19M888.5 307v22M889.5 229v23M889.5 288v12M890.5 242v53M891.5 231v13M891.5 309v12M892.5 230v11M892.5 309v19M893.5 227v11M894.5 225v9M895.5 230v12M896.5 242v22M897.5 244v22M897.5 275v16M898.5 243v23M898.5 276v12M899.5 240v8M899.5 266v14M899.5 302v18M900.5 240v6M901.5 244v8M902.5 244v7M902.5 262v25M903.5 248v7M903.5 268v43M904.5 256v63M905.5 263v27M905.5 325v3M906.5 269v35M906.5 319v9M907.5 273v36M907.5 320v7M908.5 275v12M908.5 299v14M909.5 279v23M910.5 320v8M911.5 274v54M912.5 262v7M912.5 319v12"/>
<path stroke="rgb(92,116,0)" d="M105.5 268v12M105.5 303v2M106.5 273v1M106.5 282v4M107.5 278v2M107.5 286v4M108.5 279v11M109.5 286v2M110.5 278v2M110.5 282v6M111.5 276v4M111.5 282v1M112.5 276v2M113.5 276v2M114.5 275v3M115.5 283v9M115.5 294v10M116.5 306v3M117.5 302v4M118.5 294v9M119.5 283v18M120.5 279v6M121.5 280v5M122.5 287v11M123.5 291v11M124.5 279v7M124.5 293v17M124.5 314v2M125.5 279v5M126.5 286v17M127.5 293v14M128.5 288v10M129.5 287v4M130.5 281v5M131.5 278v4M132.5 268v30M133.5 265v21M134.5 264v30M135.5 267v14M136.5 263v4M137.5 262v3M138.5 264v3M139.5 264v3M140.5 264v2M141.5 264v2M142.5 263v2M143.5 260v2M144.5 259v4M145.5 262v2M146.5 260v3M147.5 261v2M148.5 262v2M148.5 284v4M149.5 260v3M149.5 283v5M150.5 258v5M151.5 259v4M152.5 257v4M153.5 254v4M154.5 253v4M155.5 253v4M156.5 252v4M157.5 254v4M158.5 255v4M159.5 255v4M160.5 256v5M161.5 254v6M162.5 257v4M162.5 282v4M163.5 256v3M164.5 254v3M165.5 251v4M166.5 250v3M167.5 250v3M168.5 247v3M169.5 248v3M170.5 249v5M171.5 251v12M171.5 272v6M172.5 251v9M175.5 251v1M179.5 268v4M180.5 265v3M185.5 265v1M186.5 258v2M187.5 256v2M188.5 258v4M189.5 258v4M190.5 258v2M191.5 262v4M194.5 260v2M197.5 256v1M199.5 260v1M200.5 273v1M201.5 256v2M201.5 260v4M202.5 266v2M210.5 266v2M210.5 274v2M211.5 270v2M211.5 274v2M212.5 270v4M216.5 235v5M217.5 238v4M218.5 241v4M219.5 241v4M220.5 239v5M221.5 232v12M222.5 236v8M223.5 237v6M224.5 241v3M225.5 244v3M226.5 243v3M227.5 243v3M227.5 272v3M228.5 239v7M228.5 275v1M229.5 243v5M230.5 239v8M231.5 236v9M232.5 230v11M233.5 236v8M234.5 242v6M235.5 247v4M236.5 246v8M237.5 253v4M238.5 245v8M239.5 241v11M240.5 242v13M241.5 258v3M242.5 260v17M243.5 258v20M244.5 257v20M245.5 254v5M245.5 265v9M246.5 248v5M247.5 252v3M248.5 253v5M249.5 258v20M250.5 258v19M251.5 249v5M252.5 250v4M253.5 249v4M254.5 248v5M255.5 253v4M256.5 260v20M257.5 258v5M257.5 267v17M258.5 259v5M258.5 277v6M259.5 259v4M260.5 260v4M261.5 265v12M262.5 262v15M263.5 253v6M264.5 256v14M265.5 264v19M266.5 262v24M269.5 267v15M272.5 261v9M273.5 261v15M274.5 258v24M275.5 260v6M275.5 284v3M276.5 275v10M281.5 260v6M282.5 259v10M283.5 259v25M284.5 260v29M287.5 254v31M288.5 252v6M289.5 253v12M290.5 252v34M291.5 254v16M291.5 282v6M292.5 257v8M293.5 255v13M294.5 258v14M295.5 262v17M296.5 253v29M297.5 243v4M298.5 240v5M299.5 242v6M299.5 281v5M300.5 245v10M300.5 279v7M301.5 246v9M302.5 244v7M303.5 244v7M304.5 240v5M305.5 240v5M306.5 239v6M307.5 239v8M307.5 275v11M308.5 237v6M308.5 269v17M309.5 238v5M310.5 238v6M311.5 239v7M312.5 239v5M313.5 240v3M313.5 278v9M314.5 241v3M315.5 244v3M316.5 246v4M317.5 248v3M318.5 253v4M319.5 253v3M320.5 253v4M320.5 283v3M321.5 256v7M321.5 280v7M322.5 253v4M323.5 239v12M324.5 242v13M325.5 247v9M326.5 251v7M327.5 251v9M328.5 240v10M329.5 240v9M330.5 249v11M331.5 252v7M332.5 246v9M333.5 242v10M334.5 252v4M335.5 253v3M336.5 245v8M337.5 246v7M338.5 249v4M339.5 252v4M340.5 251v3M341.5 249v3M342.5 248v3M343.5 240v4M344.5 240v4M345.5 238v4M346.5 235v4M347.5 233v6M348.5 232v6M348.5 267v17M349.5 228v4M350.5 227v5M351.5 225v5M352.5 220v5M353.5 218v5M354.5 221v7M355.5 223v9M356.5 225v7M357.5 230v7M358.5 241v5M359.5 244v1M363.5 245v1M364.5 245v2M365.5 241v5M366.5 239v4M367.5 237v4M368.5 237v4M369.5 236v4M370.5 233v4M371.5 234v5M372.5 237v5M373.5 237v5M374.5 238v6M375.5 238v7M376.5 238v7M377.5 237v11M378.5 235v16M379.5 233v15M380.5 233v9M381.5 236v10M382.5 252v6M384.5 250v9M385.5 246v14M386.5 238v16M387.5 240v9M388.5 247v14M391.5 245v19M392.5 242v23M393.5 237v19M394.5 236v14M394.5 259v9M395.5 230v7M396.5 227v8M397.5 229v34M398.5 229v14M399.5 219v9M400.5 222v8M401.5 231v47M402.5 235v44M403.5 236v12M404.5 231v8M405.5 231v6M406.5 229v8M406.5 264v18M407.5 229v55M408.5 230v54M409.5 227v9M410.5 229v8M411.5 232v9M412.5 234v10M412.5 279v3M413.5 243v40M414.5 242v26M415.5 238v8M415.5 265v15M416.5 230v6M417.5 231v6M418.5 234v7M419.5 235v6M420.5 235v8M421.5 233v6M422.5 232v6M423.5 232v7M424.5 232v9M425.5 234v10M426.5 238v15M427.5 243v20M428.5 236v8M429.5 234v7M429.5 289v1M430.5 233v7M430.5 282v7M431.5 236v25M432.5 230v18M433.5 233v13M434.5 233v12M435.5 233v9M436.5 237v39M437.5 273v12M438.5 231v48M439.5 231v7M440.5 235v8M441.5 240v10M442.5 241v9M443.5 247v10M444.5 242v13M445.5 246v9M446.5 249v7M447.5 251v7M447.5 287v2M448.5 248v7M449.5 248v10M450.5 246v9M450.5 277v13M451.5 247v7M452.5 248v7M453.5 248v6M454.5 249v8M455.5 246v5M456.5 237v4M457.5 236v6M458.5 237v7M458.5 266v6M459.5 238v9M459.5 258v34M460.5 237v7M461.5 236v7M462.5 233v7M463.5 229v6M464.5 226v6M465.5 220v5M466.5 220v7M467.5 217v7M468.5 214v7M469.5 213v9M470.5 211v19M470.5 244v3M471.5 209v49M472.5 208v13M473.5 210v13M474.5 225v11M475.5 225v12M476.5 225v9M477.5 225v7M477.5 274v19M478.5 226v6M479.5 232v6M480.5 239v8M480.5 281v11M481.5 249v7M481.5 276v9M482.5 249v4M482.5 285v9M483.5 252v4M484.5 255v4M485.5 255v4M486.5 257v5M487.5 257v8M488.5 258v4M489.5 256v3M490.5 255v2M491.5 257v2M492.5 259v4M493.5 261v3M494.5 261v6M495.5 286v9M496.5 259v22M497.5 254v5M498.5 251v4M499.5 251v4M500.5 247v3M501.5 246v4M502.5 247v3M503.5 248v4M504.5 249v4M505.5 251v4M505.5 283v14M506.5 250v3M507.5 251v4M508.5 257v6M509.5 258v9M510.5 254v6M511.5 248v4M512.5 246v4M513.5 244v3M514.5 241v3M515.5 239v2M516.5 240v3M517.5 241v3M518.5 240v3M519.5 240v4M520.5 243v4M521.5 242v4M522.5 242v4M523.5 238v4M524.5 237v3M525.5 236v4M526.5 238v5M527.5 242v5M528.5 243v5M529.5 247v4M530.5 249v4M531.5 248v4M532.5 248v3M533.5 249v3M534.5 250v4M535.5 250v3M536.5 250v3M537.5 250v3M538.5 254v4M539.5 260v3M540.5 263v3M541.5 267v3M542.5 270v4M543.5 272v3M544.5 271v2M545.5 267v5M546.5 266v5M547.5 262v7M548.5 265v8M549.5 274v3M550.5 265v6M551.5 264v5M552.5 269v3M553.5 266v5M554.5 263v6M555.5 268v5M556.5 273v3M557.5 274v2M558.5 273v2M559.5 271v3M560.5 267v4M561.5 265v6M562.5 268v6M563.5 266v5M564.5 271v4M565.5 272v3M566.5 270v4M567.5 268v4M568.5 268v3M569.5 267v3M570.5 269v3M571.5 268v3M572.5 266v3M573.5 264v3M574.5 264v2M575.5 263v3M576.5 260v4M577.5 265v2M578.5 264v2M579.5 263v3M580.5 260v3M581.5 254v4M582.5 245v4M583.5 240v3M584.5 237v3M585.5 236v3M586.5 236v4M587.5 234v5M588.5 230v4M589.5 228v3M590.5 227v4M591.5 228v4M592.5 227v4M593.5 227v4M594.5 227v4M595.5 228v4M596.5 227v5M597.5 231v5M597.5 289v5M598.5 232v4M599.5 238v5M600.5 245v14M601.5 248v13M601.5 282v13M602.5 249v5M603.5 249v5M604.5 247v4M605.5 241v4M606.5 242v4M607.5 240v4M608.5 240v3M609.5 244v4M610.5 244v4M611.5 244v4M612.5 243v4M613.5 244v5M614.5 246v4M615.5 245v5M616.5 245v4M617.5 246v4M618.5 248v6M619.5 247v7M620.5 246v8M621.5 245v5M622.5 247v6M623.5 245v5M624.5 246v5M625.5 246v6M626.5 245v8M627.5 250v13M628.5 248v11M629.5 242v6M630.5 240v5M631.5 240v8M632.5 237v8M633.5 237v6M634.5 237v6M635.5 235v6M636.5 236v5M637.5 238v4M638.5 238v4M639.5 240v5M640.5 245v6M641.5 251v9M642.5 255v21M643.5 265v12M644.5 268v10M645.5 268v5M646.5 267v5M647.5 268v6M648.5 258v5M649.5 255v5M650.5 254v10M651.5 244v30M652.5 247v27M653.5 243v17M654.5 238v8M655.5 240v12M656.5 243v12M657.5 246v8M658.5 252v12M659.5 263v12M660.5 266v9M661.5 264v6M662.5 265v5M663.5 265v4M664.5 268v3M665.5 269v3M666.5 271v10M666.5 288v14M667.5 273v27M668.5 271v6M669.5 273v13M670.5 281v23M671.5 293v12M672.5 277v20M673.5 273v5M674.5 273v5M675.5 269v4M676.5 263v4M677.5 263v6M678.5 263v12M679.5 260v13M680.5 248v11M681.5 243v7M682.5 239v6M683.5 237v10M684.5 236v13M685.5 234v9M686.5 234v8M687.5 235v9M688.5 235v7M689.5 236v7M690.5 234v9M691.5 233v8M692.5 228v5M693.5 230v6M694.5 229v6M695.5 233v5M696.5 235v5M696.5 307v6M697.5 238v4M698.5 244v5M699.5 247v5M700.5 250v6M701.5 253v7M702.5 257v10M703.5 253v11M704.5 250v5M705.5 247v5M705.5 307v15M706.5 246v4M706.5 307v12M707.5 244v4M708.5 245v5M708.5 305v7M709.5 246v4M709.5 290v20M710.5 243v4M711.5 246v4M712.5 246v4M713.5 250v4M714.5 251v4M715.5 253v4M716.5 254v5M717.5 256v6M718.5 258v11M719.5 259v10M720.5 255v4M721.5 255v6M722.5 274v14M723.5 280v7M724.5 282v6M725.5 278v7M726.5 275v5M727.5 273v6M728.5 276v4M729.5 274v4M730.5 277v3M731.5 277v3M731.5 321v7M732.5 275v4M732.5 309v9M733.5 276v4M734.5 278v5M735.5 278v6M736.5 277v6M737.5 268v7M738.5 268v7M739.5 262v10M740.5 263v10M741.5 268v6M742.5 273v7M743.5 279v8M744.5 284v6M745.5 285v5M746.5 291v6M747.5 297v6M748.5 306v10M749.5 306v7M750.5 304v4M751.5 307v4M752.5 308v3M753.5 311v4M754.5 309v6M755.5 306v7M756.5 298v6M757.5 281v17M758.5 285v10M759.5 281v12M760.5 272v6M761.5 270v5M762.5 268v5M763.5 268v5M764.5 268v5M765.5 263v4M766.5 258v6M767.5 259v7M768.5 271v8M769.5 267v6M770.5 264v8M771.5 262v11M772.5 248v22M773.5 233v18M774.5 243v19M775.5 236v20M776.5 201v37M777.5 222v21M778.5 188v49M779.5 202v33M780.5 208v27M781.5 209v23M782.5 215v15M783.5 209v19M784.5 200v20M785.5 202v26M786.5 199v30M787.5 199v25M788.5 196v19M789.5 200v18M790.5 209v20M791.5 220v15M792.5 225v12M793.5 239v2M794.5 241v3M795.5 241v3M796.5 242v4M797.5 243v4M798.5 250v5M799.5 248v6M800.5 246v8M801.5 245v8M802.5 245v10M803.5 243v12M804.5 257v11M805.5 238v22M806.5 238v18M807.5 238v19M808.5 251v8M809.5 257v6M810.5 261v4M811.5 266v3M812.5 273v4M813.5 278v3M814.5 276v2M815.5 275v3M816.5 277v3M817.5 279v4M818.5 274v4M819.5 274v4M820.5 276v4M821.5 274v4M822.5 276v4M823.5 275v5M824.5 269v5M825.5 259v8M826.5 249v10M827.5 251v12M828.5 250v11M829.5 246v14M830.5 251v11M831.5 252v9M832.5 246v13M833.5 249v12M834.5 248v11M835.5 245v10M836.5 242v6M837.5 244v5M838.5 246v6M839.5 254v17M840.5 264v11M841.5 257v13M842.5 249v4M843.5 251v4M844.5 253v5M845.5 248v4M846.5 250v7M847.5 243v9M848.5 239v11M849.5 240v11M850.5 236v10M851.5 232v15M852.5 237v16M853.5 244v15M854.5 232v19M855.5 242v12M856.5 231v21M857.5 222v26M858.5 218v7M859.5 213v6M860.5 208v7M861.5 207v8M862.5 213v8M863.5 210v11M864.5 207v13M865.5 219v7M866.5 229v8M867.5 246v9M868.5 248v6M869.5 253v6M870.5 261v29M871.5 297v10M872.5 295v4M873.5 289v5M874.5 289v6M875.5 272v16M876.5 262v6M876.5 323v10M877.5 256v5M878.5 251v5M879.5 248v6M880.5 246v7M881.5 244v11M882.5 236v31M883.5 214v28M884.5 208v24M885.5 206v11M886.5 203v10M887.5 206v11M888.5 214v11M889.5 216v13M889.5 300v29M890.5 222v20M890.5 295v14M891.5 221v10M891.5 321v8M892.5 221v9M893.5 219v8M894.5 218v7M895.5 221v9M896.5 230v12M897.5 235v9M897.5 266v9M898.5 235v8M898.5 266v10M899.5 233v7M900.5 233v7M901.5 237v7M902.5 237v7M903.5 242v6M904.5 250v6M905.5 255v8M905.5 290v35M906.5 258v11M906.5 304v15M907.5 261v12M907.5 309v11M908.5 264v11M908.5 313v13M909.5 264v15M909.5 302v24M910.5 266v54M911.5 264v10M912.5 257v5"/>
<path stroke="rgb(97,113,0)" d="M105.5 262v6M106.5 266v7M107.5 263v1M107.5 270v2M108.5 266v4M108.5 272v2M108.5 276v3M109.5 270v6M109.5 278v4M110.5 270v2M110.5 274v4M111.5 270v6M112.5 270v4M113.5 270v2M114.5 270v2M114.5 274v1M115.5 276v2M115.5 280v3M116.5 284v22M117.5 284v18M118.5 281v13M119.5 273v10M120.5 272v7M121.5 276v4M122.5 280v7M123.5 279v12M124.5 272v7M125.5 273v6M126.5 281v5M127.5 285v8M128.5 283v5M129.5 283v4M130.5 278v3M131.5 274v4M132.5 261v7M133.5 258v7M133.5 286v10M134.5 258v6M135.5 261v6M136.5 257v6M137.5 253v9M138.5 259v5M139.5 260v4M140.5 261v3M141.5 262v2M142.5 260v3M143.5 253v7M144.5 251v8M145.5 255v7M146.5 254v6M147.5 255v6M148.5 257v5M149.5 254v6M150.5 253v5M151.5 254v5M152.5 252v5M153.5 249v5M154.5 247v6M155.5 247v6M156.5 245v7M157.5 249v5M158.5 249v6M159.5 249v6M160.5 249v7M161.5 242v12M162.5 252v5M163.5 250v6M164.5 249v5M165.5 243v8M166.5 236v14M167.5 242v8M168.5 232v15M169.5 239v9M170.5 243v6M171.5 248v3M172.5 247v4M173.5 249v9M174.5 249v6M175.5 246v5M176.5 247v3M177.5 246v2M178.5 245v2M186.5 254v2M187.5 251v1M189.5 252v2M190.5 229v12M190.5 254v2M191.5 230v11M191.5 251v5M192.5 260v2M194.5 228v8M194.5 255v3M195.5 231v19M196.5 238v12M197.5 244v6M198.5 245v5M201.5 270v2M202.5 238v3M203.5 231v10M204.5 221v20M205.5 219v21M206.5 228v12M207.5 219v21M208.5 232v8M209.5 229v11M210.5 229v11M211.5 223v17M212.5 220v20M213.5 229v11M214.5 228v12M215.5 229v11M216.5 214v21M217.5 214v24M218.5 226v15M219.5 230v11M220.5 226v13M221.5 226v6M222.5 223v13M223.5 226v11M224.5 231v10M225.5 238v6M226.5 235v8M227.5 234v9M228.5 230v9M229.5 232v11M230.5 220v19M231.5 218v18M232.5 219v11M233.5 218v18M234.5 231v11M235.5 236v11M236.5 227v19M237.5 237v16M238.5 230v15M239.5 225v16M240.5 222v20M241.5 225v33M242.5 224v36M243.5 238v20M244.5 249v8M245.5 245v9M245.5 274v2M246.5 232v16M247.5 240v12M248.5 247v6M249.5 251v7M250.5 250v8M251.5 238v11M252.5 241v9M253.5 235v14M254.5 239v9M255.5 247v6M256.5 257v3M257.5 252v6M258.5 254v5M259.5 256v3M260.5 257v3M261.5 259v6M262.5 258v4M263.5 245v8M264.5 249v7M265.5 256v8M266.5 256v6M267.5 259v19M268.5 259v25M269.5 259v8M270.5 258v25M271.5 252v22M272.5 252v9M272.5 270v12M273.5 254v7M273.5 276v8M274.5 252v6M274.5 282v5M275.5 255v5M276.5 259v16M278.5 279v5M279.5 256v27M280.5 257v27M281.5 255v5M282.5 254v5M283.5 254v5M284.5 255v5M285.5 256v28M286.5 254v30M287.5 250v4M288.5 248v4M289.5 248v5M290.5 245v7M291.5 249v5M291.5 270v12M292.5 251v6M292.5 265v15M292.5 283v4M293.5 250v5M293.5 268v18M294.5 251v7M294.5 272v14M295.5 253v9M295.5 279v9M296.5 249v4M296.5 282v5M297.5 238v5M298.5 237v3M299.5 238v4M300.5 241v4M301.5 241v5M302.5 240v4M303.5 239v5M304.5 232v8M305.5 235v5M306.5 235v4M307.5 234v5M308.5 233v4M309.5 234v4M310.5 234v4M311.5 235v4M312.5 231v8M313.5 231v9M314.5 234v7M315.5 237v7M316.5 240v6M317.5 243v5M318.5 248v5M319.5 245v8M320.5 246v7M321.5 252v4M322.5 242v11M323.5 223v16M324.5 221v21M325.5 225v22M326.5 236v15M327.5 239v12M328.5 192v2M328.5 208v2M328.5 212v28M329.5 227v13M330.5 235v14M331.5 238v14M332.5 232v14M333.5 227v15M334.5 240v12M335.5 242v11M336.5 223v22M337.5 230v16M338.5 236v13M339.5 241v11M340.5 244v7M341.5 245v4M342.5 243v5M343.5 232v8M344.5 235v5M345.5 233v5M346.5 230v5M347.5 229v4M348.5 228v4M349.5 220v8M350.5 223v4M351.5 221v4M352.5 212v8M353.5 208v10M354.5 215v6M355.5 216v7M356.5 218v7M357.5 223v7M358.5 233v8M359.5 237v7M360.5 235v9M361.5 240v5M362.5 241v4M363.5 236v9M364.5 239v6M365.5 227v14M366.5 232v7M367.5 232v5M368.5 232v5M369.5 229v7M370.5 217v16M371.5 224v10M372.5 232v5M373.5 232v5M374.5 233v5M375.5 233v5M376.5 232v6M377.5 232v5M378.5 229v6M379.5 228v5M380.5 229v4M381.5 231v5M382.5 233v19M383.5 233v26M384.5 235v15M385.5 233v13M386.5 230v8M387.5 233v7M388.5 238v9M389.5 238v24M390.5 239v24M391.5 234v11M392.5 229v13M393.5 225v12M393.5 256v10M394.5 226v10M395.5 223v7M396.5 220v7M397.5 221v8M398.5 219v10M399.5 209v10M400.5 215v7M401.5 224v7M402.5 226v9M403.5 228v8M404.5 224v7M405.5 224v7M406.5 220v9M407.5 219v10M408.5 220v10M409.5 219v8M410.5 221v8M411.5 222v10M412.5 223v11M413.5 233v10M414.5 234v8M414.5 268v16M415.5 232v6M415.5 280v6M416.5 224v6M417.5 226v5M418.5 229v5M419.5 230v5M420.5 228v7M421.5 228v5M422.5 228v4M423.5 228v4M424.5 227v5M425.5 228v6M426.5 231v7M427.5 235v8M428.5 230v6M429.5 228v6M430.5 227v6M431.5 227v9M432.5 225v5M433.5 227v6M434.5 227v6M435.5 227v6M436.5 230v7M437.5 231v42M438.5 227v4M439.5 228v3M440.5 230v5M441.5 233v7M442.5 234v7M443.5 237v10M444.5 235v7M445.5 236v10M446.5 242v7M447.5 244v7M448.5 238v10M449.5 239v9M450.5 239v7M451.5 239v8M452.5 242v6M453.5 243v5M454.5 244v5M455.5 242v4M456.5 233v4M457.5 231v5M458.5 233v4M459.5 233v5M460.5 232v5M461.5 232v4M462.5 229v4M463.5 225v4M464.5 222v4M465.5 216v4M466.5 215v5M467.5 212v5M468.5 209v5M469.5 208v5M470.5 205v6M471.5 203v6M472.5 202v6M473.5 203v7M474.5 209v16M475.5 213v12M476.5 216v9M477.5 218v7M478.5 220v6M479.5 226v6M480.5 235v4M481.5 244v5M481.5 285v8M482.5 245v4M483.5 248v4M484.5 251v4M485.5 252v3M486.5 253v4M487.5 254v3M488.5 255v3M489.5 253v3M490.5 251v4M491.5 254v3M492.5 256v3M493.5 258v3M494.5 257v4M495.5 257v29M496.5 254v5M497.5 251v3M498.5 249v2M499.5 248v3M500.5 243v4M501.5 243v3M502.5 244v3M503.5 245v3M504.5 246v3M505.5 248v3M506.5 246v4M507.5 247v4M508.5 253v4M509.5 253v5M510.5 250v4M511.5 245v3M512.5 244v2M513.5 241v3M514.5 237v4M515.5 234v5M516.5 237v3M517.5 238v3M518.5 235v5M519.5 235v5M520.5 239v4M521.5 238v4M522.5 238v4M523.5 233v5M524.5 231v6M525.5 231v5M526.5 234v4M527.5 237v5M528.5 237v6M529.5 241v6M530.5 244v5M531.5 244v4M532.5 243v5M533.5 245v4M534.5 246v4M535.5 246v4M536.5 246v4M537.5 245v5M538.5 250v4M539.5 256v4M540.5 259v4M541.5 263v4M542.5 267v3M543.5 269v3M544.5 266v5M545.5 262v5M546.5 260v6M547.5 255v7M548.5 257v8M549.5 267v7M550.5 259v6M551.5 259v5M552.5 264v5M553.5 260v6M554.5 256v7M555.5 261v7M556.5 269v4M557.5 269v5M558.5 267v6M559.5 266v5M560.5 262v5M561.5 258v7M562.5 260v8M563.5 260v6M564.5 265v6M565.5 266v6M566.5 265v5M567.5 264v4M568.5 264v4M569.5 263v4M570.5 266v3M571.5 265v3M572.5 264v2M573.5 261v3M574.5 260v4M575.5 259v4M576.5 254v6M577.5 261v4M578.5 260v4M579.5 260v3M580.5 255v5M581.5 248v6M582.5 240v5M583.5 236v4M584.5 234v3M585.5 234v2M586.5 233v3M587.5 231v3M588.5 227v3M589.5 225v3M590.5 224v3M591.5 224v4M592.5 223v4M593.5 223v4M594.5 224v3M595.5 225v3M596.5 223v4M597.5 228v3M598.5 228v4M599.5 234v4M600.5 239v6M601.5 242v6M602.5 244v5M603.5 245v4M604.5 243v4M605.5 237v4M606.5 238v4M607.5 236v4M608.5 237v3M609.5 241v3M610.5 242v2M611.5 242v2M612.5 240v3M613.5 241v3M614.5 242v4M615.5 242v3M616.5 242v3M617.5 243v3M618.5 244v4M619.5 243v4M620.5 242v4M621.5 241v4M622.5 242v5M623.5 242v3M624.5 242v4M625.5 242v4M626.5 241v4M627.5 243v7M628.5 242v6M629.5 238v4M630.5 237v3M631.5 236v4M632.5 233v4M633.5 233v4M634.5 233v4M635.5 231v4M636.5 232v4M637.5 234v4M638.5 234v4M639.5 237v3M640.5 241v4M641.5 245v6M642.5 246v9M643.5 252v13M644.5 263v5M645.5 264v4M646.5 263v4M647.5 263v5M648.5 252v6M649.5 246v9M650.5 243v11M651.5 237v7M652.5 238v9M653.5 237v6M654.5 234v4M655.5 236v4M656.5 239v4M657.5 242v4M658.5 246v6M659.5 250v13M660.5 258v8M661.5 259v5M662.5 260v5M663.5 261v4M664.5 265v3M665.5 265v4M666.5 267v4M667.5 268v5M668.5 266v5M669.5 267v6M670.5 271v10M671.5 271v22M672.5 271v6M673.5 268v5M674.5 268v5M675.5 265v4M676.5 260v3M677.5 258v5M678.5 254v9M679.5 249v11M680.5 242v6M681.5 239v4M682.5 235v4M683.5 233v4M684.5 230v6M685.5 229v5M686.5 228v6M687.5 229v6M688.5 228v7M689.5 229v7M690.5 228v6M691.5 228v5M692.5 223v5M693.5 225v5M694.5 224v5M695.5 228v5M696.5 230v5M697.5 233v5M698.5 240v4M699.5 243v4M700.5 246v4M701.5 248v5M702.5 251v6M703.5 247v6M704.5 244v6M705.5 241v6M706.5 240v6M706.5 319v5M707.5 237v7M708.5 241v4M709.5 242v4M710.5 237v6M711.5 240v6M712.5 241v5M713.5 246v4M714.5 248v3M715.5 249v4M716.5 249v5M717.5 252v4M718.5 253v5M719.5 254v5M720.5 249v6M721.5 246v9M722.5 257v17M723.5 260v20M724.5 271v11M725.5 269v9M726.5 265v10M727.5 265v8M728.5 270v6M729.5 269v5M730.5 273v4M731.5 272v5M732.5 269v6M733.5 270v6M734.5 274v4M735.5 274v4M736.5 272v5M737.5 251v17M738.5 257v11M739.5 251v11M740.5 254v9M741.5 260v8M742.5 266v7M743.5 272v7M744.5 278v6M745.5 279v6M746.5 285v6M747.5 291v6M748.5 300v6M749.5 301v5M750.5 299v5M751.5 304v3M752.5 305v3M753.5 308v3M754.5 305v4M755.5 301v5M756.5 276v22M757.5 268v13M758.5 272v13M759.5 268v13M760.5 262v10M761.5 264v6M762.5 264v4M763.5 263v5M764.5 263v5M765.5 253v10M766.5 249v9M767.5 247v12M768.5 264v7M769.5 252v15M770.5 248v16M771.5 234v28M772.5 224v24M773.5 201v32M774.5 190v53M775.5 183v53M776.5 173v28M777.5 178v44M778.5 169v19M779.5 176v26M780.5 189v19M781.5 193v16M782.5 198v17M783.5 191v18M784.5 182v18M785.5 186v16M786.5 184v15M787.5 179v20M788.5 153v1M788.5 158v6M788.5 166v30M789.5 180v20M790.5 188v21M791.5 200v20M792.5 192v33M793.5 198v25M793.5 228v11M794.5 237v4M795.5 231v10M796.5 239v3M797.5 240v3M798.5 244v6M799.5 224v24M800.5 223v23M801.5 233v12M802.5 237v8M803.5 235v8M804.5 237v20M805.5 228v10M806.5 227v11M807.5 221v17M808.5 227v24M809.5 241v16M810.5 249v12M811.5 256v10M812.5 270v3M813.5 274v4M814.5 272v4M815.5 268v7M816.5 271v6M817.5 275v4M818.5 263v11M819.5 265v9M820.5 269v7M821.5 252v22M822.5 270v6M823.5 270v5M824.5 262v7M825.5 249v10M826.5 240v9M827.5 244v7M828.5 242v8M829.5 238v8M830.5 239v12M831.5 240v12M832.5 237v9M833.5 240v9M834.5 242v6M835.5 241v4M836.5 236v6M837.5 236v8M838.5 239v7M839.5 247v7M840.5 253v11M841.5 251v6M842.5 242v7M843.5 246v5M844.5 249v4M845.5 244v4M846.5 244v6M847.5 236v7M848.5 230v9M849.5 233v7M850.5 227v9M851.5 223v9M852.5 224v13M853.5 227v17M854.5 219v13M855.5 222v20M856.5 218v13M857.5 216v6M858.5 213v5M859.5 207v6M860.5 201v7M861.5 197v10M862.5 204v9M863.5 200v10M864.5 198v9M865.5 206v13M866.5 221v8M867.5 236v10M868.5 242v6M869.5 248v5M870.5 255v6M871.5 263v11M871.5 290v7M872.5 265v6M872.5 290v5M873.5 264v25M874.5 266v23M875.5 263v9M876.5 257v5M877.5 250v6M878.5 245v6M879.5 217v2M879.5 242v6M880.5 209v20M880.5 238v8M881.5 207v37M882.5 207v29M883.5 205v9M884.5 202v6M885.5 200v6M886.5 197v6M887.5 198v8M888.5 207v7M889.5 208v8M890.5 212v10M890.5 309v21M891.5 213v8M892.5 214v7M893.5 211v8M894.5 210v8M895.5 213v8M896.5 219v11M897.5 225v10M898.5 225v10M899.5 219v14M900.5 221v12M901.5 220v17M902.5 204v33M903.5 202v23M903.5 232v10M904.5 244v6M905.5 250v5M906.5 252v6M907.5 255v6M908.5 258v6M909.5 256v8M910.5 257v9M911.5 257v7M912.5 252v5"/>
<path stroke="rgb(103,111,0)" d="M105.5 258v4M107.5 262v1M109.5 261v1M109.5 268v2M111.5 266v2M115.5 270v2M116.5 274v10M117.5 267v17M118.5 267v14M119.5 262v11M120.5 262v10M121.5 264v12M122.5 237v23M122.5 270v10M123.5 236v5M123.5 262v17M124.5 241v31M125.5 236v37M126.5 237v11M126.5 274v7M127.5 279v6M128.5 238v45M129.5 277v6M130.5 274v4M131.5 230v2M131.5 238v5M131.5 265v9M132.5 238v23M133.5 208v1M133.5 241v17M134.5 205v9M134.5 237v21M135.5 206v9M135.5 237v24M136.5 205v3M136.5 210v2M136.5 229v28M137.5 228v25M138.5 205v7M138.5 228v31M139.5 203v7M139.5 212v5M139.5 224v36M140.5 206v9M140.5 225v20M140.5 253v8M141.5 256v6M142.5 254v6M143.5 203v5M143.5 210v2M143.5 235v18M144.5 231v20M145.5 233v22M146.5 207v2M146.5 235v19M147.5 207v5M147.5 234v21M148.5 212v3M148.5 235v3M148.5 244v13M149.5 234v20M150.5 207v1M150.5 210v11M150.5 232v21M151.5 207v1M151.5 212v4M151.5 218v3M151.5 246v8M152.5 208v13M152.5 234v18M153.5 237v12M154.5 235v1M154.5 237v10M155.5 236v11M156.5 234v11M157.5 237v12M158.5 238v11M159.5 232v17M160.5 235v14M161.5 237v5M162.5 234v2M162.5 238v14M163.5 233v17M164.5 232v17M165.5 230v13M166.5 229v7M167.5 232v10M169.5 232v7M170.5 232v11M171.5 230v18M172.5 231v16M173.5 231v18M174.5 237v12M175.5 229v17M176.5 232v15M177.5 228v18M178.5 231v14M179.5 232v13M180.5 231v13M181.5 232v10M183.5 231v10M184.5 229v1M184.5 233v8M185.5 232v9M186.5 234v7M187.5 230v11M188.5 235v6M189.5 228v13M190.5 225v4M192.5 229v12M192.5 251v5M193.5 228v16M193.5 252v6M194.5 236v12M194.5 252v3M195.5 224v7M196.5 220v2M196.5 224v14M197.5 222v22M198.5 222v23M199.5 225v23M200.5 218v26M201.5 218v23M202.5 219v19M203.5 214v17M204.5 216v5M205.5 212v7M206.5 212v16M207.5 212v7M208.5 212v4M208.5 218v2M208.5 221v11M209.5 212v4M209.5 218v11M210.5 214v1M210.5 218v11M211.5 212v4M211.5 217v1M211.5 220v3M212.5 212v8M213.5 211v3M213.5 215v14M214.5 212v2M214.5 216v12M215.5 214v1M215.5 217v12M216.5 212v2M218.5 212v2M218.5 216v10M219.5 216v14M220.5 222v4M224.5 226v5M225.5 227v11M226.5 225v10M227.5 222v2M227.5 225v9M228.5 220v10M229.5 220v12M233.5 217v1M234.5 219v12M235.5 219v17M236.5 225v1M237.5 225v12M238.5 224v6M239.5 222v3M240.5 221v1M243.5 226v12M244.5 226v23M245.5 228v17M246.5 226v6M247.5 224v16M248.5 228v19M249.5 226v25M250.5 225v25M251.5 227v11M252.5 231v10M253.5 229v6M254.5 225v14M255.5 235v12M256.5 246v11M257.5 245v7M258.5 188v4M258.5 245v1M258.5 247v7M259.5 187v1M259.5 190v3M259.5 241v1M259.5 245v11M260.5 249v8M261.5 254v5M262.5 188v6M262.5 242v16M263.5 186v2M263.5 190v4M263.5 231v14M264.5 186v8M264.5 229v20M265.5 185v9M265.5 231v1M265.5 233v23M266.5 185v10M266.5 230v26M267.5 185v10M267.5 235v24M267.5 278v6M268.5 185v1M268.5 188v7M268.5 231v28M269.5 185v10M269.5 232v27M270.5 185v10M270.5 231v27M271.5 186v7M271.5 227v25M271.5 274v13M272.5 186v8M272.5 232v20M272.5 282v1M273.5 186v8M273.5 226v2M273.5 231v23M274.5 188v6M274.5 230v22M275.5 219v1M275.5 229v7M275.5 247v8M276.5 204v3M276.5 214v2M276.5 218v2M276.5 230v1M276.5 252v7M277.5 188v4M277.5 204v2M277.5 208v3M277.5 212v4M277.5 224v6M277.5 255v31M278.5 190v1M278.5 203v1M278.5 206v10M278.5 224v2M278.5 230v3M278.5 254v25M279.5 186v4M279.5 192v2M279.5 198v2M279.5 202v4M279.5 208v10M279.5 222v2M279.5 226v2M279.5 229v27M280.5 170v4M280.5 202v6M280.5 210v8M280.5 226v2M280.5 231v26M281.5 180v2M281.5 190v2M281.5 201v17M281.5 220v2M281.5 225v9M281.5 249v6M282.5 170v2M282.5 188v2M282.5 200v18M282.5 222v2M282.5 244v10M283.5 196v2M283.5 200v6M283.5 246v8M284.5 200v18M284.5 220v2M284.5 226v1M284.5 248v7M285.5 180v2M285.5 199v20M285.5 249v7M286.5 199v3M286.5 204v12M286.5 218v2M286.5 247v7M287.5 177v1M287.5 182v2M287.5 199v3M287.5 204v10M287.5 216v4M287.5 222v4M287.5 234v16M288.5 198v22M288.5 224v2M288.5 228v2M288.5 233v15M289.5 184v2M289.5 196v2M289.5 200v2M289.5 204v16M289.5 228v2M289.5 232v16M290.5 178v2M290.5 194v4M290.5 199v22M290.5 230v15M291.5 236v13M292.5 243v8M292.5 280v3M293.5 188v2M293.5 194v2M293.5 199v7M293.5 240v10M294.5 173v1M294.5 192v2M294.5 199v20M294.5 243v8M295.5 247v6M296.5 215v1M296.5 218v6M296.5 227v22M297.5 178v2M297.5 214v24M298.5 229v8M299.5 230v8M300.5 234v7M301.5 168v2M301.5 188v2M301.5 196v4M301.5 202v7M301.5 232v9M302.5 164v2M302.5 174v2M302.5 184v2M302.5 188v2M302.5 202v38M303.5 199v1M303.5 203v36M304.5 188v2M304.5 192v6M304.5 203v29M305.5 196v4M305.5 206v29M306.5 204v31M307.5 222v12M308.5 218v15M309.5 210v24M310.5 203v9M310.5 215v19M311.5 187v3M311.5 192v2M311.5 203v8M311.5 217v18M312.5 196v2M312.5 202v9M312.5 219v12M313.5 166v2M313.5 205v6M313.5 221v10M314.5 211v1M314.5 223v11M315.5 224v13M316.5 225v15M317.5 166v2M317.5 176v2M317.5 184v4M317.5 190v2M317.5 198v2M317.5 233v10M318.5 172v2M318.5 188v2M318.5 235v13M319.5 186v2M319.5 192v2M319.5 229v16M320.5 178v2M320.5 194v4M320.5 230v16M321.5 186v4M321.5 237v15M322.5 176v2M322.5 227v15M323.5 162v2M323.5 168v2M323.5 182v4M323.5 190v2M323.5 194v2M323.5 200v2M323.5 212v11M324.5 184v2M324.5 190v2M324.5 208v2M324.5 212v9M325.5 212v13M326.5 213v23M327.5 198v2M327.5 212v27M328.5 183v1M329.5 176v2M329.5 192v2M329.5 212v15M330.5 180v2M330.5 194v2M330.5 200v4M330.5 208v2M330.5 212v23M331.5 184v2M331.5 212v26M332.5 188v2M332.5 204v2M332.5 212v20M333.5 176v4M333.5 192v2M333.5 211v16M334.5 219v21M335.5 212v30M336.5 194v2M336.5 210v13M337.5 173v1M337.5 176v2M337.5 212v18M338.5 190v2M338.5 213v23M339.5 178v2M339.5 204v2M339.5 213v28M340.5 182v2M340.5 192v2M340.5 196v2M340.5 212v32M341.5 192v2M341.5 200v2M341.5 227v18M342.5 196v2M342.5 227v16M343.5 184v2M343.5 187v1M343.5 190v2M343.5 193v1M343.5 198v34M344.5 190v4M344.5 198v37M345.5 218v15M346.5 192v4M346.5 216v14M347.5 185v1M347.5 192v2M347.5 196v2M347.5 200v29M348.5 188v6M348.5 200v28M349.5 188v2M349.5 192v4M349.5 199v21M350.5 194v4M350.5 199v24M351.5 190v2M351.5 196v25M352.5 188v2M352.5 192v4M352.5 200v12M353.5 194v2M353.5 198v10M354.5 198v17M355.5 201v15M356.5 201v17M357.5 200v23M358.5 217v16M359.5 219v18M360.5 172v4M360.5 214v21M361.5 188v6M361.5 196v2M361.5 200v40M362.5 208v33M363.5 195v1M363.5 198v38M364.5 193v46M365.5 176v2M365.5 180v2M365.5 184v2M365.5 188v2M365.5 192v35M366.5 204v28M367.5 216v16M368.5 219v13M369.5 178v6M369.5 212v17M370.5 170v2M370.5 178v6M370.5 186v31M371.5 192v32M372.5 211v21M373.5 217v15M374.5 220v13M375.5 221v12M376.5 221v11M377.5 223v9M378.5 220v9M379.5 220v8M380.5 224v5M381.5 227v4M382.5 229v4M383.5 228v5M384.5 228v7M385.5 229v4M386.5 227v3M387.5 229v4M388.5 232v6M389.5 231v7M390.5 231v8M391.5 227v7M392.5 222v7M393.5 219v6M394.5 218v8M395.5 215v8M396.5 212v8M397.5 213v8M398.5 207v12M399.5 196v13M400.5 206v9M401.5 217v7M402.5 217v9M403.5 217v11M404.5 217v7M405.5 216v8M406.5 213v7M407.5 212v7M408.5 213v7M409.5 212v7M410.5 214v7M411.5 213v9M412.5 210v13M413.5 220v13M414.5 227v7M415.5 225v7M416.5 216v8M417.5 218v8M418.5 223v6M419.5 224v6M420.5 222v6M421.5 222v6M422.5 223v5M423.5 223v5M424.5 222v5M425.5 223v5M426.5 227v4M427.5 229v6M428.5 225v5M429.5 223v5M430.5 221v6M431.5 221v6M432.5 220v5M433.5 222v5M434.5 223v4M435.5 223v4M436.5 225v5M437.5 226v5M438.5 223v4M439.5 225v3M440.5 227v3M441.5 229v4M442.5 230v4M443.5 232v5M444.5 230v5M445.5 231v5M446.5 235v7M447.5 237v7M448.5 233v5M449.5 232v7M450.5 233v6M451.5 234v5M452.5 236v6M453.5 238v5M454.5 240v4M455.5 238v4M456.5 228v5M457.5 226v5M458.5 228v5M459.5 229v4M460.5 228v4M461.5 227v5M462.5 224v5M463.5 220v5M464.5 217v5M465.5 212v4M466.5 211v4M467.5 208v4M468.5 206v3M469.5 203v5M470.5 201v4M471.5 199v4M472.5 198v4M473.5 199v1M473.5 201v2M474.5 202v7M475.5 205v8M476.5 208v8M477.5 210v8M478.5 214v6M479.5 218v8M480.5 229v6M481.5 241v3M482.5 241v4M483.5 243v5M484.5 246v5M485.5 247v5M486.5 248v5M487.5 249v5M488.5 251v4M489.5 249v4M490.5 246v5M491.5 250v4M492.5 254v2M493.5 255v3M494.5 254v3M495.5 253v4M496.5 249v5M497.5 247v4M498.5 244v5M499.5 244v4M500.5 236v7M501.5 238v5M502.5 238v6M503.5 240v5M504.5 240v6M505.5 243v5M506.5 240v6M507.5 242v5M508.5 248v5M509.5 249v4M510.5 246v4M511.5 240v5M512.5 239v5M513.5 235v6M514.5 228v9M515.5 223v11M516.5 230v7M517.5 231v7M518.5 228v7M519.5 227v8M520.5 231v8M521.5 231v7M522.5 231v7M523.5 221v12M524.5 220v11M525.5 224v7M526.5 228v6M527.5 232v5M528.5 231v6M529.5 232v9M530.5 229v15M531.5 229v15M532.5 231v12M533.5 235v10M534.5 236v10M535.5 238v8M536.5 238v8M537.5 237v8M538.5 197v3M538.5 202v2M538.5 240v10M539.5 250v6M540.5 250v9M541.5 256v7M542.5 258v9M543.5 263v6M544.5 261v5M545.5 254v8M546.5 252v8M547.5 246v9M548.5 247v10M549.5 256v11M550.5 252v7M551.5 253v6M552.5 258v6M553.5 249v11M554.5 233v23M555.5 250v11M556.5 262v7M557.5 261v8M558.5 256v11M559.5 259v7M560.5 255v7M561.5 246v12M562.5 249v11M563.5 251v9M564.5 257v8M565.5 256v10M566.5 258v7M567.5 258v6M568.5 258v6M569.5 255v8M570.5 260v6M571.5 259v6M572.5 259v5M573.5 256v5M574.5 254v6M575.5 252v7M576.5 247v7M577.5 256v5M578.5 255v5M579.5 254v6M580.5 249v6M581.5 242v6M582.5 233v7M583.5 227v9M584.5 227v7M585.5 229v5M586.5 230v3M587.5 227v4M588.5 222v5M589.5 221v4M590.5 219v5M591.5 220v4M592.5 217v6M593.5 218v5M594.5 219v5M595.5 219v6M596.5 217v6M597.5 224v4M598.5 222v6M599.5 229v5M600.5 235v4M601.5 237v5M602.5 239v5M603.5 241v4M604.5 239v4M605.5 232v5M606.5 233v5M607.5 231v5M608.5 233v4M609.5 238v3M610.5 239v3M611.5 239v3M612.5 237v3M613.5 237v4M614.5 238v4M615.5 238v4M616.5 238v4M617.5 239v4M618.5 241v3M619.5 240v3M620.5 238v4M621.5 237v4M622.5 239v3M623.5 239v3M624.5 239v3M625.5 239v3M626.5 237v4M627.5 239v4M628.5 238v4M629.5 235v3M630.5 234v3M631.5 232v4M632.5 229v4M633.5 229v4M634.5 230v3M635.5 228v3M636.5 229v3M637.5 231v3M638.5 231v3M639.5 233v4M640.5 237v4M641.5 240v5M642.5 239v7M643.5 242v10M644.5 256v7M645.5 260v4M646.5 257v6M647.5 257v6M648.5 242v10M649.5 237v9M650.5 236v7M651.5 233v4M652.5 234v4M653.5 233v4M654.5 231v3M655.5 233v3M656.5 236v3M657.5 239v3M658.5 242v4M659.5 245v5M660.5 250v8M661.5 252v7M662.5 253v7M663.5 255v6M664.5 261v4M665.5 260v5M666.5 261v6M667.5 261v7M668.5 260v6M669.5 261v6M670.5 264v7M671.5 264v7M672.5 266v5M673.5 263v5M674.5 263v5M675.5 260v5M676.5 255v5M677.5 252v6M678.5 246v8M679.5 243v6M680.5 238v4M681.5 235v4M682.5 231v4M683.5 228v5M684.5 224v6M685.5 223v6M686.5 220v8M687.5 221v8M688.5 218v10M689.5 220v9M690.5 221v7M691.5 222v6M692.5 215v8M693.5 218v7M694.5 214v10M695.5 221v7M696.5 222v8M697.5 219v14M698.5 233v7M699.5 236v7M700.5 238v8M701.5 238v10M702.5 244v7M703.5 235v12M704.5 233v11M705.5 231v10M706.5 230v10M707.5 226v11M708.5 234v7M709.5 236v6M710.5 211v26M711.5 228v12M712.5 229v12M713.5 238v8M714.5 241v7M715.5 241v8M716.5 237v12M717.5 239v13M718.5 238v15M719.5 245v9M720.5 164v2M720.5 168v4M720.5 237v12M721.5 228v18M722.5 240v17M723.5 243v17M724.5 254v17M725.5 252v17M726.5 254v11M727.5 253v12M728.5 260v10M729.5 158v2M729.5 260v9M730.5 267v6M731.5 266v6M732.5 263v6M733.5 264v6M734.5 268v6M735.5 269v5M736.5 266v6M737.5 243v8M738.5 247v10M739.5 245v6M740.5 247v7M741.5 251v9M742.5 257v9M743.5 263v9M744.5 271v7M745.5 272v7M746.5 276v9M747.5 285v6M748.5 295v5M749.5 293v8M750.5 271v28M751.5 300v4M752.5 303v2M753.5 305v3M754.5 300v5M755.5 278v23M756.5 265v11M757.5 257v11M758.5 251v21M759.5 244v24M760.5 186v9M760.5 244v18M761.5 249v15M762.5 158v2M762.5 162v9M762.5 232v32M763.5 225v38M764.5 227v36M765.5 164v38M765.5 228v25M766.5 237v12M767.5 198v49M768.5 238v26M769.5 154v98M770.5 158v90M771.5 169v65M772.5 177v47M773.5 178v23M774.5 168v22M775.5 160v2M775.5 163v20M776.5 158v2M776.5 162v11M777.5 158v2M777.5 164v14M778.5 156v2M778.5 163v1M778.5 166v3M779.5 151v1M779.5 155v1M779.5 158v2M779.5 162v14M780.5 155v5M780.5 164v25M781.5 155v7M781.5 165v28M782.5 179v19M783.5 151v1M783.5 154v2M783.5 171v20M784.5 154v2M784.5 160v22M785.5 162v24M786.5 159v1M786.5 162v22M787.5 158v6M787.5 166v13M789.5 158v4M789.5 164v16M790.5 156v2M790.5 160v28M791.5 150v2M791.5 153v1M791.5 156v2M791.5 160v40M792.5 155v3M792.5 162v30M793.5 172v26M793.5 223v5M794.5 185v52M795.5 155v1M795.5 162v69M796.5 159v3M796.5 164v75M797.5 160v13M797.5 207v11M797.5 229v11M798.5 162v2M798.5 173v1M798.5 178v2M798.5 182v4M798.5 202v42M799.5 174v2M799.5 180v2M799.5 188v2M799.5 191v33M800.5 182v2M800.5 186v2M800.5 190v2M800.5 195v28M801.5 168v2M801.5 199v34M802.5 202v35M803.5 195v40M804.5 221v16M805.5 190v2M805.5 194v34M806.5 192v2M806.5 196v31M807.5 162v4M807.5 174v2M807.5 180v2M807.5 184v2M807.5 190v31M808.5 170v4M808.5 176v14M808.5 192v35M809.5 159v1M809.5 172v4M809.5 182v1M809.5 224v17M810.5 229v20M811.5 229v27M812.5 258v12M813.5 269v5M814.5 264v8M815.5 260v8M816.5 170v4M816.5 176v5M816.5 257v14M817.5 174v6M817.5 257v18M818.5 246v17M819.5 254v11M820.5 241v28M821.5 228v24M822.5 239v31M823.5 260v10M824.5 251v11M825.5 170v2M825.5 174v4M825.5 180v2M825.5 238v11M826.5 182v2M826.5 186v5M826.5 227v13M827.5 232v12M828.5 185v1M828.5 190v15M828.5 230v12M829.5 225v13M830.5 230v9M831.5 234v6M832.5 162v2M832.5 178v4M832.5 230v7M833.5 235v5M834.5 237v5M835.5 235v6M836.5 202v34M837.5 158v2M837.5 198v38M838.5 158v2M838.5 163v5M838.5 172v2M838.5 176v8M838.5 215v24M839.5 238v9M840.5 247v6M841.5 243v8M842.5 233v9M843.5 238v8M844.5 243v6M845.5 232v12M846.5 235v9M847.5 220v16M848.5 219v11M849.5 223v10M850.5 218v9M851.5 214v9M852.5 211v13M853.5 214v13M854.5 207v12M855.5 212v10M856.5 210v8M857.5 210v6M858.5 205v8M859.5 195v12M860.5 190v11M861.5 184v13M862.5 193v11M863.5 191v9M864.5 189v9M865.5 193v13M866.5 200v21M867.5 224v12M868.5 232v10M869.5 237v11M870.5 247v8M871.5 254v9M871.5 274v16M872.5 254v11M872.5 271v19M873.5 253v11M874.5 255v11M875.5 257v6M876.5 251v6M877.5 242v8M878.5 213v32M879.5 203v14M879.5 219v23M880.5 200v9M880.5 229v9M881.5 199v8M882.5 201v6M883.5 200v5M884.5 195v7M885.5 193v7M886.5 189v8M887.5 190v8M888.5 199v8M889.5 199v9M890.5 201v11M891.5 200v13M892.5 203v11M893.5 198v13M894.5 199v11M895.5 202v11M896.5 208v11M897.5 214v11M898.5 207v18M899.5 199v20M900.5 202v19M901.5 200v20M902.5 194v10M903.5 189v13M903.5 225v7M904.5 188v56M905.5 217v33M906.5 242v10M907.5 250v5M908.5 252v6M909.5 246v10M910.5 245v12M911.5 252v5M912.5 207v10M912.5 242v10"/>
<path stroke="rgb(109,108,0)" d="M105.5 254v4M107.5 204v1M108.5 204v3M109.5 204v4M109.5 236v3M109.5 260v1M110.5 208v3M110.5 237v1M111.5 206v2M111.5 212v1M111.5 258v2M112.5 208v2M112.5 214v1M113.5 210v6M113.5 252v4M114.5 212v5M114.5 238v2M114.5 249v5M115.5 214v3M115.5 238v1M115.5 252v2M116.5 215v2M116.5 237v7M116.5 249v5M116.5 267v7M117.5 236v6M117.5 249v18M118.5 253v14M119.5 248v14M120.5 239v23M121.5 236v28M122.5 215v1M122.5 225v2M122.5 260v10M123.5 215v1M123.5 225v2M123.5 241v21M124.5 226v1M124.5 234v2M124.5 237v4M125.5 215v1M125.5 225v2M126.5 225v2M126.5 248v26M127.5 237v42M128.5 235v3M129.5 240v37M130.5 236v38M131.5 214v2M131.5 224v4M131.5 243v22M132.5 207v1M132.5 214v1M132.5 225v13M133.5 209v7M133.5 225v16M134.5 214v5M134.5 224v13M135.5 215v22M136.5 212v7M136.5 222v7M137.5 205v7M137.5 214v14M138.5 212v16M139.5 217v7M140.5 215v10M140.5 245v8M141.5 206v2M141.5 210v8M141.5 223v33M142.5 204v2M142.5 208v8M142.5 227v27M143.5 212v23M144.5 214v17M148.5 207v5M148.5 215v1M148.5 238v6M149.5 207v5M149.5 214v5M151.5 233v13M153.5 212v9M154.5 212v9M155.5 214v3M157.5 234v3M163.5 231v2M174.5 228v9M182.5 233v8M188.5 230v5M199.5 220v2M199.5 224v1M202.5 216v3M225.5 226v1M245.5 227v1M260.5 186v8M260.5 241v8M261.5 186v4M261.5 192v2M261.5 244v10M271.5 193v1M275.5 186v6M275.5 236v11M276.5 187v3M276.5 231v21M277.5 230v25M278.5 233v21M281.5 234v15M282.5 226v2M282.5 231v13M283.5 186v2M283.5 208v10M283.5 220v4M283.5 226v2M283.5 230v16M284.5 199v1M284.5 227v1M284.5 232v16M285.5 231v18M286.5 231v16M287.5 176v1M288.5 180v2M291.5 186v2M291.5 199v22M291.5 222v2M291.5 230v2M291.5 233v3M292.5 172v2M292.5 188v4M292.5 196v2M292.5 199v3M292.5 219v9M292.5 231v12M293.5 206v2M293.5 210v12M293.5 230v10M294.5 172v1M294.5 219v1M294.5 222v1M294.5 224v2M294.5 230v13M295.5 172v2M295.5 184v2M295.5 198v16M295.5 216v12M295.5 229v18M296.5 172v2M296.5 178v4M296.5 199v7M296.5 208v7M297.5 199v15M298.5 168v2M298.5 180v4M298.5 189v1M298.5 196v6M298.5 216v13M299.5 160v2M299.5 177v1M299.5 184v8M299.5 196v2M299.5 218v12M300.5 162v2M300.5 188v2M300.5 198v9M300.5 214v20M301.5 209v23M303.5 172v2M303.5 182v2M304.5 170v2M305.5 164v4M305.5 178v2M305.5 188v2M306.5 168v2M306.5 192v2M306.5 196v4M306.5 203v1M307.5 179v1M307.5 182v2M307.5 192v2M307.5 203v19M308.5 170v2M308.5 178v2M308.5 190v2M308.5 196v4M308.5 201v17M309.5 178v4M309.5 188v2M309.5 201v9M310.5 166v2M311.5 165v1M311.5 172v2M311.5 186v1M313.5 186v2M313.5 192v4M313.5 202v3M314.5 176v4M314.5 184v2M314.5 201v10M315.5 162v2M315.5 166v2M315.5 198v2M315.5 201v12M316.5 196v18M317.5 200v15M317.5 226v7M318.5 212v5M318.5 227v8M319.5 212v7M319.5 227v2M320.5 166v2M320.5 212v9M320.5 227v3M321.5 194v2M321.5 206v2M321.5 212v11M321.5 226v11M322.5 166v2M322.5 210v17M325.5 162v2M325.5 169v3M326.5 183v1M327.5 190v4M334.5 180v2M334.5 186v2M334.5 194v2M334.5 212v7M335.5 174v2M335.5 182v4M337.5 184v2M337.5 190v2M337.5 202v2M341.5 212v15M342.5 212v15M345.5 185v5M345.5 194v2M345.5 199v19M346.5 198v18M356.5 197v4M357.5 190v2M358.5 192v2M358.5 198v19M359.5 180v2M359.5 184v2M359.5 188v4M359.5 194v25M360.5 188v2M360.5 194v4M360.5 200v2M360.5 203v11M361.5 184v2M362.5 178v2M362.5 184v2M362.5 190v18M363.5 170v8M363.5 182v13M364.5 174v10M364.5 188v5M365.5 170v2M366.5 182v4M366.5 187v3M366.5 192v12M367.5 174v4M367.5 180v10M367.5 191v25M368.5 174v2M368.5 180v14M368.5 198v21M369.5 186v26M371.5 174v2M371.5 180v2M371.5 186v4M372.5 175v3M372.5 180v2M372.5 184v6M372.5 192v19M373.5 164v2M373.5 176v8M373.5 190v4M373.5 196v21M374.5 166v6M374.5 184v2M374.5 188v32M375.5 182v2M375.5 186v2M375.5 192v2M375.5 196v2M375.5 200v21M376.5 201v1M376.5 204v17M377.5 198v2M377.5 202v21M378.5 200v2M378.5 203v17M379.5 200v20M380.5 202v22M381.5 202v9M381.5 217v10M382.5 222v7M383.5 203v25M384.5 201v27M385.5 224v5M386.5 221v6M387.5 224v5M388.5 228v4M389.5 227v4M390.5 226v5M391.5 220v7M392.5 176v9M392.5 214v8M393.5 174v13M393.5 209v10M394.5 173v10M394.5 209v9M395.5 174v41M396.5 176v36M397.5 176v10M397.5 195v18M398.5 173v34M399.5 175v21M400.5 196v10M401.5 206v11M402.5 174v15M402.5 200v17M403.5 206v11M404.5 209v8M405.5 209v7M406.5 205v8M407.5 205v7M408.5 205v8M409.5 172v4M409.5 178v2M409.5 201v11M410.5 205v9M411.5 197v16M412.5 174v6M412.5 181v1M412.5 184v2M412.5 189v21M413.5 206v14M414.5 215v12M415.5 215v10M416.5 206v10M417.5 207v11M418.5 214v9M419.5 216v8M420.5 214v8M421.5 215v7M422.5 217v6M423.5 218v5M424.5 216v6M425.5 218v5M426.5 222v5M427.5 224v5M428.5 219v6M429.5 217v6M430.5 214v7M431.5 215v6M432.5 214v6M433.5 217v5M434.5 217v6M435.5 218v5M436.5 221v4M437.5 222v4M438.5 219v4M439.5 220v5M440.5 223v4M441.5 225v4M442.5 226v4M443.5 228v4M444.5 226v4M445.5 226v5M446.5 230v5M447.5 232v5M448.5 228v5M449.5 227v5M450.5 228v5M451.5 229v5M452.5 230v6M453.5 232v6M454.5 234v6M455.5 234v4M456.5 223v5M457.5 219v7M458.5 222v6M459.5 225v4M460.5 222v6M461.5 222v5M462.5 220v4M463.5 216v4M464.5 213v4M465.5 209v3M466.5 208v3M467.5 205v3M468.5 203v3M469.5 200v3M470.5 200v1M471.5 196v3M472.5 196v2M473.5 196v3M474.5 198v4M475.5 200v5M476.5 201v7M477.5 203v7M478.5 205v9M479.5 208v10M480.5 217v12M481.5 236v5M482.5 236v5M483.5 236v7M484.5 239v7M485.5 240v7M486.5 237v11M487.5 236v13M488.5 243v8M489.5 184v3M489.5 225v24M490.5 196v50M491.5 240v10M492.5 249v5M493.5 251v4M494.5 188v18M494.5 250v4M495.5 246v7M496.5 241v8M497.5 240v7M498.5 194v2M498.5 198v22M498.5 235v9M499.5 204v15M499.5 234v10M500.5 202v34M501.5 228v10M502.5 186v4M502.5 193v45M503.5 182v2M503.5 186v4M503.5 198v42M504.5 182v4M504.5 188v2M504.5 192v2M504.5 196v5M504.5 225v15M505.5 186v2M505.5 233v10M506.5 178v2M506.5 182v4M506.5 190v2M506.5 195v16M506.5 229v11M507.5 182v2M507.5 186v6M507.5 195v14M507.5 233v9M508.5 241v7M509.5 242v7M510.5 239v7M511.5 213v27M512.5 230v9M513.5 198v2M513.5 202v33M514.5 184v2M514.5 188v4M514.5 194v4M514.5 200v28M515.5 194v2M515.5 198v25M516.5 196v34M517.5 186v2M517.5 192v2M517.5 198v33M518.5 211v17M519.5 196v4M519.5 202v25M520.5 189v1M520.5 194v37M521.5 192v2M521.5 196v2M521.5 200v31M522.5 194v4M522.5 199v3M522.5 204v27M523.5 194v2M523.5 200v21M524.5 198v2M524.5 204v16M525.5 192v2M525.5 204v20M526.5 214v14M527.5 224v8M528.5 222v9M529.5 202v4M529.5 221v11M530.5 198v2M530.5 202v2M530.5 206v23M531.5 198v2M531.5 202v27M532.5 198v8M532.5 208v23M533.5 221v14M534.5 198v2M534.5 202v34M535.5 200v2M535.5 208v30M536.5 200v38M537.5 202v4M537.5 208v29M538.5 206v2M538.5 210v30M539.5 235v15M540.5 225v25M541.5 246v10M542.5 245v13M543.5 252v11M544.5 253v8M545.5 158v2M545.5 182v2M545.5 209v45M546.5 164v2M546.5 202v4M546.5 210v42M547.5 160v2M547.5 166v4M547.5 198v2M547.5 202v2M547.5 206v40M548.5 198v2M548.5 206v41M549.5 206v8M549.5 242v14M550.5 194v2M550.5 202v50M551.5 202v2M551.5 206v20M551.5 235v18M552.5 241v17M553.5 170v2M553.5 186v2M553.5 198v6M553.5 206v43M554.5 192v2M554.5 200v33M555.5 188v2M555.5 194v8M555.5 204v46M556.5 192v2M556.5 196v2M556.5 202v21M556.5 243v19M557.5 240v21M558.5 231v25M559.5 209v50M560.5 196v2M560.5 202v2M560.5 205v1M560.5 208v47M561.5 200v46M562.5 180v2M562.5 229v20M563.5 168v2M563.5 235v16M564.5 240v17M565.5 238v18M566.5 247v11M567.5 249v9M568.5 248v10M569.5 225v30M570.5 239v21M571.5 229v30M572.5 248v11M573.5 245v11M574.5 199v23M574.5 243v11M575.5 244v8M576.5 237v10M577.5 248v8M578.5 246v9M579.5 247v7M580.5 242v7M581.5 182v4M581.5 194v1M581.5 234v8M582.5 182v2M582.5 188v2M582.5 194v6M582.5 201v32M583.5 158v2M583.5 166v2M583.5 180v4M583.5 188v2M583.5 192v35M584.5 176v2M584.5 182v2M584.5 187v1M584.5 192v35M585.5 221v8M586.5 224v6M587.5 222v5M588.5 215v7M589.5 214v7M590.5 209v10M591.5 203v17M592.5 180v2M592.5 184v2M592.5 193v24M593.5 174v2M593.5 180v2M593.5 184v4M593.5 190v28M594.5 178v2M594.5 182v2M594.5 200v19M595.5 206v13M596.5 204v13M597.5 216v8M598.5 210v12M599.5 223v6M600.5 228v7M601.5 229v8M602.5 232v7M603.5 234v7M604.5 234v5M605.5 222v10M606.5 224v9M607.5 220v11M608.5 225v8M609.5 234v4M610.5 235v4M611.5 235v4M612.5 231v6M613.5 231v6M614.5 232v6M615.5 232v6M616.5 233v5M617.5 235v4M618.5 237v4M619.5 235v5M620.5 234v4M621.5 232v5M622.5 234v5M623.5 235v4M624.5 236v3M625.5 235v4M626.5 233v4M627.5 235v4M628.5 234v4M629.5 231v4M630.5 230v4M631.5 228v4M632.5 223v6M633.5 225v4M634.5 225v5M635.5 223v5M636.5 225v4M637.5 228v3M638.5 227v4M639.5 229v4M640.5 233v4M641.5 235v5M642.5 234v5M643.5 235v7M644.5 245v11M645.5 253v7M646.5 244v13M647.5 243v14M648.5 233v9M649.5 231v6M650.5 231v5M651.5 229v4M652.5 230v4M653.5 229v4M654.5 227v4M655.5 229v4M656.5 232v4M657.5 235v4M658.5 238v4M659.5 240v5M660.5 245v5M661.5 246v6M662.5 245v8M663.5 246v9M664.5 254v7M665.5 250v10M666.5 249v12M667.5 247v14M668.5 250v10M669.5 193v18M669.5 243v18M670.5 251v13M671.5 254v10M672.5 259v7M673.5 182v2M673.5 254v9M674.5 255v8M675.5 254v6M676.5 249v6M677.5 244v8M678.5 238v8M679.5 236v7M680.5 233v5M681.5 230v5M682.5 225v6M683.5 219v9M684.5 182v4M684.5 213v11M685.5 186v12M685.5 209v14M686.5 190v30M687.5 196v25M688.5 195v23M689.5 197v23M690.5 197v24M691.5 211v11M692.5 187v1M692.5 189v1M692.5 193v22M693.5 186v2M693.5 189v29M694.5 186v2M694.5 190v24M695.5 184v2M695.5 188v6M695.5 197v24M696.5 201v21M697.5 191v28M698.5 217v16M699.5 210v26M700.5 194v44M701.5 194v44M702.5 194v50M703.5 194v41M704.5 191v1M704.5 194v39M705.5 192v39M706.5 194v2M706.5 197v33M707.5 195v1M707.5 197v29M708.5 195v39M709.5 223v13M710.5 194v17M711.5 176v4M711.5 181v1M711.5 190v2M711.5 194v4M711.5 200v28M712.5 174v2M712.5 178v2M712.5 184v2M712.5 188v2M712.5 192v2M712.5 198v31M713.5 166v4M713.5 172v2M713.5 178v4M713.5 219v19M714.5 226v15M715.5 158v2M715.5 164v2M715.5 168v10M715.5 182v2M715.5 186v4M715.5 198v2M715.5 201v40M716.5 168v6M716.5 178v8M716.5 188v2M716.5 199v38M717.5 170v2M717.5 176v2M717.5 184v5M717.5 200v39M718.5 164v2M718.5 170v2M718.5 180v2M718.5 184v3M718.5 188v2M718.5 200v38M719.5 158v2M719.5 168v2M719.5 174v2M719.5 180v2M719.5 203v42M720.5 184v6M720.5 202v35M721.5 155v1M721.5 174v4M721.5 180v2M721.5 184v2M721.5 203v25M722.5 154v2M722.5 168v2M722.5 172v2M722.5 178v2M722.5 182v2M722.5 204v36M723.5 158v4M723.5 170v4M723.5 204v39M724.5 200v2M724.5 205v49M725.5 158v2M725.5 174v1M725.5 208v44M726.5 154v2M726.5 160v2M726.5 174v2M726.5 178v2M726.5 207v3M726.5 211v43M727.5 154v4M727.5 163v1M727.5 165v5M727.5 172v4M727.5 178v2M727.5 188v2M727.5 207v46M728.5 162v2M728.5 166v2M728.5 234v26M729.5 170v8M729.5 202v2M729.5 209v51M730.5 154v2M730.5 158v2M730.5 166v2M730.5 170v6M730.5 192v2M730.5 209v58M731.5 164v2M731.5 171v5M731.5 256v10M732.5 255v8M733.5 256v8M734.5 256v12M735.5 251v18M736.5 243v23M737.5 226v17M738.5 239v8M739.5 239v6M740.5 242v5M741.5 245v6M742.5 249v8M743.5 251v12M744.5 253v18M745.5 260v12M746.5 262v14M747.5 267v18M748.5 281v14M749.5 253v40M750.5 258v13M751.5 268v11M751.5 292v8M752.5 228v48M752.5 299v4M753.5 250v18M753.5 302v3M754.5 253v47M755.5 158v18M755.5 262v16M756.5 159v9M756.5 200v23M756.5 255v10M757.5 200v17M757.5 243v14M758.5 160v6M758.5 167v43M758.5 226v25M759.5 153v1M759.5 159v1M759.5 162v82M760.5 152v2M760.5 156v2M760.5 160v4M760.5 166v20M760.5 195v49M761.5 154v4M761.5 162v87M762.5 171v61M763.5 157v1M763.5 161v64M764.5 153v5M764.5 160v67M765.5 154v2M765.5 157v3M765.5 162v2M765.5 202v26M766.5 156v81M767.5 154v4M767.5 162v36M768.5 154v2M768.5 158v6M768.5 166v72M771.5 152v2M771.5 158v4M771.5 163v6M772.5 154v4M772.5 162v15M773.5 154v24M774.5 160v8M775.5 154v4M780.5 150v2M782.5 152v2M782.5 162v2M782.5 165v14M783.5 158v2M783.5 163v1M783.5 166v5M785.5 152v8M786.5 154v4M793.5 156v16M794.5 160v25M797.5 173v34M797.5 218v11M798.5 192v10M800.5 164v2M800.5 168v2M800.5 178v4M801.5 176v4M801.5 182v2M801.5 186v4M801.5 195v4M802.5 164v2M802.5 168v2M802.5 178v4M802.5 186v2M802.5 190v2M802.5 194v8M803.5 172v6M803.5 180v2M803.5 190v4M804.5 188v4M804.5 194v27M805.5 166v2M805.5 186v2M806.5 168v2M806.5 184v2M809.5 183v5M809.5 190v2M809.5 194v30M810.5 163v1M810.5 168v2M810.5 174v2M810.5 178v2M810.5 184v6M810.5 192v37M811.5 166v4M811.5 182v6M811.5 192v37M812.5 167v1M812.5 188v2M812.5 192v66M813.5 170v2M813.5 176v2M813.5 182v4M813.5 188v4M813.5 194v75M814.5 172v2M814.5 180v2M814.5 190v74M815.5 162v2M815.5 186v4M815.5 197v63M816.5 181v3M816.5 192v2M816.5 195v62M817.5 168v2M817.5 186v2M817.5 190v2M817.5 194v63M818.5 162v2M818.5 170v2M818.5 184v2M818.5 188v58M819.5 164v2M819.5 176v2M819.5 180v6M819.5 187v3M819.5 193v3M819.5 222v32M820.5 169v3M820.5 180v2M820.5 184v4M820.5 190v2M820.5 193v9M820.5 214v27M821.5 168v4M821.5 174v4M821.5 188v2M821.5 191v37M822.5 161v1M822.5 164v2M822.5 170v4M822.5 178v2M822.5 184v2M822.5 188v51M823.5 168v4M823.5 174v2M823.5 188v72M824.5 161v1M824.5 163v1M824.5 166v2M824.5 172v2M824.5 176v4M824.5 184v2M824.5 192v59M825.5 184v2M825.5 188v50M826.5 176v2M826.5 191v36M827.5 174v2M827.5 178v2M827.5 186v2M827.5 189v43M828.5 162v2M828.5 176v2M828.5 180v5M828.5 205v25M829.5 168v2M829.5 174v2M829.5 177v1M829.5 180v2M829.5 184v41M830.5 172v2M830.5 176v2M830.5 180v50M831.5 172v2M831.5 176v2M831.5 182v52M832.5 182v48M833.5 162v2M833.5 170v2M833.5 181v54M834.5 180v25M834.5 225v12M835.5 164v4M835.5 174v2M835.5 180v55M836.5 162v4M836.5 168v6M836.5 176v26M837.5 168v4M837.5 174v2M837.5 178v20M838.5 184v31M839.5 166v4M839.5 171v3M839.5 176v62M840.5 166v2M840.5 169v7M840.5 178v30M840.5 228v19M841.5 165v1M841.5 167v7M841.5 176v37M841.5 223v20M842.5 162v2M842.5 168v2M842.5 174v59M843.5 162v2M843.5 166v4M843.5 174v64M844.5 165v1M844.5 170v73M845.5 160v2M845.5 166v6M845.5 174v58M846.5 200v35M847.5 165v3M847.5 170v2M847.5 174v46M848.5 162v4M848.5 172v47M849.5 166v2M849.5 170v21M849.5 210v13M850.5 158v2M850.5 168v8M850.5 202v16M851.5 158v6M851.5 166v15M851.5 199v15M852.5 160v4M852.5 168v43M853.5 176v38M854.5 157v1M854.5 160v2M854.5 171v36M855.5 183v29M856.5 186v24M857.5 194v16M858.5 164v41M859.5 158v2M859.5 164v31M860.5 160v2M860.5 163v1M860.5 166v24M861.5 166v18M862.5 175v18M863.5 166v25M864.5 162v27M865.5 164v29M866.5 180v20M867.5 195v29M868.5 166v66M869.5 172v36M869.5 219v18M870.5 234v13M871.5 244v10M872.5 241v13M873.5 162v15M873.5 238v15M874.5 159v1M874.5 161v1M874.5 166v24M874.5 237v18M875.5 246v11M876.5 242v9M877.5 228v14M878.5 175v38M879.5 172v31M880.5 161v39M881.5 158v8M881.5 168v31M882.5 192v9M883.5 192v8M884.5 184v11M885.5 173v20M886.5 171v18M887.5 162v6M887.5 169v21M888.5 162v2M888.5 166v14M888.5 188v11M889.5 161v3M889.5 166v9M889.5 186v13M890.5 187v14M891.5 161v1M891.5 164v36M892.5 160v43M893.5 167v31M894.5 159v1M894.5 163v36M895.5 163v1M895.5 165v37M896.5 177v31M897.5 199v15M898.5 166v41M899.5 160v2M899.5 164v35M900.5 188v14M901.5 191v9M902.5 161v1M902.5 181v13M903.5 159v1M903.5 164v25M904.5 160v2M904.5 167v21M905.5 164v53M906.5 161v3M906.5 165v77M907.5 164v2M907.5 168v82M908.5 163v89M909.5 164v2M909.5 167v79M910.5 167v78M911.5 168v84M912.5 159v1M912.5 162v2M912.5 166v41M912.5 217v25"/>
<path stroke="rgb(114,105,0)" d="M105.5 238v4M105.5 249v5M106.5 238v16M107.5 238v16M108.5 238v16M109.5 239v7M109.5 248v6M110.5 241v13M111.5 238v5M111.5 249v5M112.5 237v17M113.5 216v1M113.5 237v15M114.5 240v9M115.5 217v4M115.5 239v13M116.5 217v6M116.5 244v5M117.5 215v9M117.5 242v7M118.5 215v2M118.5 238v15M119.5 215v2M119.5 225v1M119.5 238v10M120.5 215v2M120.5 224v3M121.5 215v2M121.5 224v3M122.5 216v9M123.5 216v9M124.5 215v5M124.5 221v5M125.5 216v9M126.5 215v5M126.5 221v4M127.5 215v3M127.5 224v3M128.5 215v3M128.5 223v4M129.5 215v2M129.5 224v3M130.5 215v3M130.5 223v4M131.5 216v8M132.5 215v10M133.5 216v9M134.5 219v5M136.5 219v3M141.5 218v5M142.5 216v11M292.5 202v17M298.5 202v14M299.5 201v17M300.5 207v7M381.5 211v6M382.5 203v19M383.5 200v2M384.5 200v1M385.5 194v30M386.5 180v2M386.5 183v38M387.5 181v43M388.5 222v6M389.5 179v19M389.5 219v8M390.5 178v19M390.5 219v7M391.5 179v41M392.5 185v29M393.5 187v22M394.5 183v26M397.5 186v9M400.5 174v22M401.5 180v6M401.5 187v1M401.5 189v17M402.5 189v11M403.5 177v7M403.5 186v20M404.5 176v2M404.5 180v2M404.5 184v25M405.5 178v31M406.5 172v8M406.5 181v1M406.5 184v21M407.5 169v3M407.5 178v6M407.5 188v2M407.5 191v14M408.5 168v2M408.5 172v12M408.5 187v1M408.5 189v16M409.5 184v17M410.5 182v4M410.5 188v17M411.5 172v6M411.5 184v13M413.5 168v4M413.5 174v2M413.5 180v26M414.5 170v6M414.5 178v1M414.5 200v15M415.5 170v4M415.5 202v13M416.5 166v2M416.5 174v2M416.5 180v2M416.5 184v2M416.5 188v18M417.5 170v2M417.5 174v12M417.5 187v20M418.5 162v2M418.5 174v6M418.5 182v32M419.5 158v2M419.5 170v8M419.5 180v36M420.5 195v19M421.5 161v1M421.5 180v6M421.5 189v26M422.5 160v2M422.5 170v6M422.5 180v2M422.5 184v4M422.5 190v27M423.5 209v9M424.5 206v10M425.5 164v2M425.5 210v8M426.5 216v6M427.5 218v6M428.5 160v2M428.5 211v8M429.5 162v2M429.5 205v12M430.5 168v6M430.5 176v8M430.5 190v4M430.5 196v18M431.5 164v4M431.5 194v21M432.5 162v2M432.5 197v17M433.5 210v7M434.5 207v10M435.5 168v4M435.5 209v9M436.5 215v6M437.5 217v5M438.5 206v13M439.5 208v12M440.5 162v2M440.5 166v2M440.5 170v6M440.5 216v7M441.5 162v2M441.5 170v7M441.5 218v7M442.5 160v2M442.5 166v10M442.5 220v6M443.5 164v2M443.5 172v8M443.5 223v5M444.5 166v4M444.5 174v2M444.5 181v1M444.5 184v16M444.5 216v10M445.5 164v4M445.5 172v4M445.5 178v2M445.5 182v8M445.5 216v10M446.5 225v5M447.5 227v5M448.5 222v6M449.5 220v7M450.5 220v8M451.5 222v7M452.5 223v7M453.5 172v2M453.5 176v4M453.5 222v10M454.5 163v3M454.5 168v12M454.5 225v9M455.5 225v9M456.5 164v5M456.5 216v7M457.5 164v10M457.5 210v9M458.5 213v9M459.5 219v6M460.5 214v8M461.5 215v7M462.5 214v6M463.5 211v5M464.5 209v4M465.5 206v3M466.5 205v3M467.5 202v3M468.5 200v3M469.5 198v2M471.5 193v1M472.5 191v3M473.5 190v4M474.5 196v2M475.5 192v2M475.5 196v2M476.5 196v4M477.5 200v3M478.5 194v2M478.5 200v5M479.5 201v7M480.5 197v1M480.5 200v17M481.5 226v10M482.5 216v20M483.5 217v19M484.5 210v29M485.5 181v59M486.5 178v2M486.5 182v55M487.5 182v54M488.5 180v4M488.5 188v55M489.5 187v7M489.5 195v30M490.5 190v2M491.5 180v2M491.5 184v2M491.5 190v50M492.5 180v2M492.5 185v5M492.5 192v57M493.5 184v4M493.5 190v2M493.5 193v58M494.5 206v44M495.5 178v2M495.5 186v60M496.5 180v2M496.5 188v2M496.5 192v49M497.5 184v2M497.5 187v3M497.5 192v48M498.5 180v2M498.5 184v2M498.5 192v2M498.5 220v15M499.5 192v12M499.5 219v15M500.5 186v2M500.5 192v10M501.5 182v2M501.5 186v42M504.5 201v24M505.5 196v37M506.5 211v18M507.5 209v24M508.5 188v2M508.5 196v45M509.5 184v2M509.5 194v4M509.5 200v42M510.5 184v6M510.5 192v2M510.5 196v43M511.5 188v4M511.5 194v19M512.5 185v1M512.5 190v2M512.5 194v2M512.5 198v32M518.5 186v2M518.5 193v1M518.5 196v15M526.5 194v4M526.5 199v3M526.5 204v10M527.5 193v1M527.5 201v3M527.5 205v19M528.5 200v2M528.5 204v18M529.5 206v15M533.5 200v21M539.5 204v31M540.5 199v1M540.5 202v2M540.5 206v2M540.5 209v16M541.5 204v6M541.5 212v34M542.5 201v1M542.5 204v4M542.5 209v36M543.5 211v41M544.5 205v1M544.5 212v41M549.5 184v2M549.5 198v4M549.5 214v28M551.5 192v2M551.5 198v4M551.5 226v9M552.5 174v2M552.5 200v2M552.5 204v37M556.5 223v20M557.5 180v2M557.5 192v4M557.5 198v4M557.5 204v2M557.5 208v32M558.5 189v1M558.5 198v33M559.5 178v2M559.5 198v11M562.5 192v2M562.5 198v4M562.5 204v2M562.5 209v20M563.5 190v2M563.5 193v5M563.5 199v36M564.5 190v4M564.5 196v4M564.5 202v38M565.5 164v2M565.5 184v2M565.5 188v2M565.5 198v40M566.5 194v25M566.5 225v22M567.5 182v2M567.5 190v2M567.5 193v3M567.5 198v51M568.5 184v2M568.5 190v2M568.5 194v4M568.5 200v48M569.5 170v2M569.5 192v4M569.5 198v27M570.5 184v2M570.5 188v2M570.5 192v2M570.5 196v43M571.5 156v2M571.5 176v2M571.5 189v3M571.5 201v28M572.5 194v54M573.5 158v2M573.5 168v2M573.5 190v55M574.5 188v2M574.5 222v21M575.5 164v2M575.5 185v1M575.5 188v4M575.5 196v48M576.5 174v2M576.5 188v2M576.5 194v43M577.5 190v2M577.5 232v16M578.5 186v2M578.5 201v45M579.5 186v4M579.5 192v30M579.5 233v14M580.5 190v6M580.5 198v15M580.5 230v12M581.5 166v2M581.5 195v3M581.5 200v34M584.5 156v2M584.5 170v2M585.5 178v10M585.5 192v29M586.5 188v11M586.5 211v13M587.5 211v11M588.5 168v2M588.5 195v20M589.5 199v15M590.5 184v2M590.5 190v2M590.5 197v12M591.5 180v2M591.5 186v2M591.5 190v2M591.5 193v10M594.5 156v2M594.5 186v2M594.5 194v6M595.5 186v4M595.5 195v11M596.5 178v2M596.5 182v2M596.5 186v2M596.5 189v15M597.5 160v2M597.5 166v1M597.5 199v17M598.5 178v2M598.5 184v2M598.5 188v22M599.5 176v2M599.5 180v1M599.5 199v24M600.5 178v7M600.5 217v11M601.5 178v4M601.5 184v45M602.5 174v2M602.5 186v1M602.5 197v35M603.5 204v30M604.5 223v11M605.5 176v2M605.5 180v2M605.5 201v21M606.5 207v17M607.5 176v4M607.5 205v15M608.5 174v2M608.5 180v1M608.5 209v16M609.5 228v6M610.5 174v2M610.5 177v1M610.5 229v6M611.5 176v2M611.5 180v1M611.5 227v8M612.5 178v3M612.5 217v14M613.5 220v11M614.5 219v13M615.5 219v13M616.5 224v9M617.5 228v7M618.5 232v5M619.5 229v6M620.5 227v7M621.5 218v14M622.5 228v6M623.5 230v5M624.5 232v4M625.5 230v5M626.5 226v7M627.5 229v6M628.5 226v8M629.5 221v10M630.5 223v7M631.5 222v6M632.5 213v10M633.5 176v4M633.5 214v11M634.5 176v3M634.5 220v5M635.5 176v4M635.5 182v1M635.5 216v7M636.5 220v5M637.5 223v5M638.5 221v6M639.5 176v2M639.5 223v6M640.5 228v5M641.5 230v5M642.5 176v2M642.5 180v2M642.5 227v7M643.5 176v4M643.5 184v4M643.5 191v3M643.5 228v7M644.5 176v4M644.5 190v2M644.5 236v9M645.5 242v11M646.5 232v12M647.5 232v11M648.5 190v25M648.5 220v13M649.5 192v17M649.5 220v11M650.5 224v7M651.5 196v10M651.5 221v8M652.5 226v4M653.5 223v6M654.5 196v31M655.5 190v6M655.5 198v4M655.5 222v7M656.5 192v2M656.5 227v5M657.5 230v5M658.5 233v5M659.5 230v10M660.5 238v7M661.5 194v2M661.5 238v8M662.5 195v9M662.5 229v16M663.5 198v1M663.5 223v23M664.5 226v28M665.5 223v27M666.5 231v18M667.5 220v27M668.5 182v2M668.5 185v1M668.5 188v62M669.5 186v7M669.5 211v32M670.5 179v1M670.5 185v1M670.5 190v61M671.5 182v4M671.5 188v4M671.5 193v61M672.5 183v1M672.5 188v71M673.5 192v62M674.5 182v2M674.5 185v1M674.5 188v4M674.5 193v17M674.5 224v31M675.5 184v2M675.5 192v8M675.5 233v21M676.5 185v3M676.5 190v2M676.5 194v6M676.5 236v13M677.5 192v10M677.5 233v11M678.5 180v2M678.5 190v17M678.5 223v15M679.5 182v2M679.5 188v4M679.5 193v8M679.5 226v10M680.5 183v1M680.5 186v18M680.5 224v9M681.5 186v12M681.5 220v10M682.5 184v2M682.5 188v37M683.5 184v4M683.5 190v29M684.5 188v25M685.5 198v11M687.5 186v10M688.5 183v1M688.5 186v2M688.5 190v5M689.5 183v1M689.5 192v5M690.5 190v7M691.5 185v26M696.5 192v9M697.5 190v1M698.5 190v27M699.5 190v2M699.5 194v16M709.5 196v27M711.5 170v2M711.5 174v2M713.5 186v2M713.5 198v21M714.5 180v2M714.5 186v2M714.5 191v1M714.5 197v1M714.5 200v2M714.5 203v23M724.5 168v4M724.5 178v4M725.5 175v1M725.5 180v1M728.5 172v2M728.5 176v2M728.5 208v26M731.5 210v46M732.5 156v2M732.5 160v4M732.5 168v2M732.5 172v3M732.5 211v13M732.5 240v15M733.5 158v2M733.5 168v2M733.5 244v12M734.5 155v1M734.5 162v2M734.5 166v2M734.5 182v4M734.5 212v44M735.5 162v4M735.5 213v38M736.5 219v24M737.5 153v1M737.5 158v2M737.5 163v1M737.5 166v4M737.5 174v2M737.5 205v21M738.5 213v26M739.5 219v20M740.5 160v4M740.5 168v2M740.5 233v9M741.5 238v7M742.5 240v9M743.5 161v1M743.5 164v2M743.5 170v2M743.5 176v1M743.5 239v12M744.5 156v2M744.5 166v6M744.5 238v15M745.5 244v16M746.5 160v2M746.5 234v28M747.5 153v1M747.5 156v2M747.5 166v2M747.5 226v41M748.5 151v1M748.5 227v54M749.5 152v2M749.5 162v7M749.5 222v31M750.5 164v4M750.5 218v40M751.5 218v50M751.5 279v13M752.5 160v14M752.5 177v16M752.5 212v16M752.5 276v23M753.5 160v23M753.5 222v28M753.5 268v17M753.5 295v7M754.5 158v32M754.5 212v41M755.5 176v86M756.5 168v32M756.5 223v32M757.5 160v2M757.5 166v34M757.5 217v26M758.5 210v16M819.5 196v26M820.5 202v12M834.5 205v20M840.5 208v20M841.5 213v10M844.5 158v4M844.5 164v1M846.5 168v2M846.5 175v25M847.5 164v1M849.5 191v19M850.5 176v26M851.5 181v18M853.5 164v2M853.5 168v8M854.5 166v5M855.5 160v4M855.5 166v4M855.5 171v12M856.5 160v2M856.5 164v22M857.5 162v32M862.5 162v2M862.5 166v2M862.5 170v5M866.5 167v13M867.5 163v1M867.5 166v29M868.5 163v3M869.5 162v2M869.5 166v6M869.5 208v11M870.5 162v2M870.5 166v68M871.5 164v35M871.5 223v21M872.5 162v25M872.5 224v17M873.5 177v20M873.5 224v14M874.5 190v14M874.5 222v15M875.5 160v2M875.5 164v34M875.5 225v21M876.5 166v25M876.5 227v15M877.5 172v56M878.5 168v7M879.5 162v4M879.5 168v4M882.5 161v1M882.5 164v28M883.5 164v28M884.5 164v4M884.5 169v15M885.5 162v2M885.5 168v5M886.5 160v11M888.5 180v8M889.5 160v1M889.5 175v11M890.5 163v1M890.5 166v21M896.5 162v2M896.5 167v10M897.5 165v34M900.5 158v2M900.5 162v26M901.5 160v6M901.5 172v19M902.5 166v2M902.5 170v11"/>
<path stroke="rgb(120,102,0)" d="M105.5 242v7M109.5 246v2M111.5 243v6M118.5 217v8M119.5 217v8M120.5 217v7M121.5 217v7M124.5 220v1M126.5 220v1M127.5 218v6M128.5 218v5M129.5 217v7M130.5 218v5M388.5 183v39M389.5 198v21M390.5 197v22M414.5 179v3M414.5 185v3M414.5 189v11M415.5 174v2M415.5 180v2M415.5 184v18M420.5 166v2M420.5 170v4M420.5 180v15M421.5 172v2M423.5 166v4M423.5 173v3M423.5 178v4M423.5 184v2M423.5 188v21M424.5 162v2M424.5 168v6M424.5 176v2M424.5 180v26M425.5 170v2M425.5 174v4M425.5 179v3M425.5 184v6M425.5 194v16M426.5 158v2M426.5 162v4M426.5 176v4M426.5 184v9M426.5 200v16M427.5 176v2M427.5 180v11M427.5 208v10M428.5 170v8M428.5 185v26M429.5 170v4M429.5 176v2M429.5 180v2M429.5 183v22M431.5 170v2M431.5 178v2M431.5 185v9M432.5 164v2M432.5 170v2M432.5 176v2M432.5 180v17M433.5 160v2M433.5 164v2M433.5 178v4M433.5 184v26M434.5 166v14M434.5 182v2M434.5 188v19M435.5 176v2M435.5 182v2M435.5 186v6M435.5 193v16M436.5 158v2M436.5 168v2M436.5 172v8M436.5 185v1M436.5 188v4M436.5 194v21M437.5 160v2M437.5 164v2M437.5 168v2M437.5 172v2M437.5 200v17M438.5 174v4M438.5 182v6M438.5 190v16M439.5 158v2M439.5 162v2M439.5 166v2M439.5 170v14M439.5 186v4M439.5 192v16M440.5 156v2M440.5 178v8M440.5 188v28M441.5 177v41M442.5 176v2M442.5 182v38M443.5 180v10M443.5 192v31M444.5 200v16M445.5 190v26M446.5 159v1M446.5 162v4M446.5 174v8M446.5 184v14M446.5 208v17M447.5 222v5M448.5 160v8M448.5 170v2M448.5 174v2M448.5 178v8M448.5 187v35M449.5 158v2M449.5 162v2M449.5 173v1M449.5 176v8M449.5 186v4M449.5 192v28M450.5 162v2M450.5 166v2M450.5 176v6M450.5 184v2M450.5 188v32M451.5 168v2M451.5 176v2M451.5 180v6M451.5 188v9M451.5 209v1M451.5 212v10M452.5 162v2M452.5 168v4M452.5 176v6M452.5 184v2M452.5 188v2M452.5 191v2M452.5 212v11M453.5 182v2M453.5 186v15M453.5 202v4M453.5 214v8M454.5 180v8M454.5 189v15M454.5 206v4M454.5 212v2M454.5 215v10M455.5 172v2M455.5 178v8M455.5 188v14M455.5 210v15M456.5 169v13M456.5 203v1M456.5 206v2M456.5 214v2M457.5 174v34M458.5 165v3M458.5 169v15M458.5 199v14M459.5 165v1M459.5 210v9M460.5 168v4M460.5 207v7M461.5 166v3M461.5 209v6M462.5 164v2M462.5 167v2M462.5 209v5M463.5 164v7M463.5 207v4M464.5 164v2M464.5 206v3M465.5 165v7M465.5 204v2M466.5 166v3M466.5 203v2M467.5 166v5M467.5 200v2M468.5 198v2M469.5 166v4M470.5 164v4M470.5 169v9M470.5 190v4M471.5 167v11M471.5 188v5M472.5 168v23M473.5 165v1M473.5 168v22M474.5 168v2M474.5 171v22M475.5 170v22M476.5 170v23M477.5 168v26M478.5 168v4M478.5 174v20M479.5 169v25M480.5 169v25M480.5 196v1M481.5 180v2M481.5 184v42M482.5 180v2M482.5 184v11M482.5 198v18M483.5 181v1M483.5 184v11M483.5 196v2M483.5 199v18M484.5 184v26M566.5 219v6M577.5 198v34M579.5 222v11M580.5 213v17M586.5 181v1M586.5 199v12M587.5 190v2M587.5 194v2M587.5 197v14M588.5 184v2M588.5 188v2M588.5 194v1M589.5 180v19M597.5 167v1M597.5 180v2M597.5 186v13M599.5 181v18M600.5 185v32M602.5 187v10M603.5 178v2M603.5 182v2M603.5 186v18M604.5 180v2M604.5 184v39M605.5 182v19M606.5 177v5M606.5 187v1M606.5 189v18M607.5 180v2M607.5 184v21M608.5 181v1M608.5 184v8M608.5 196v13M609.5 180v4M609.5 210v18M610.5 180v4M610.5 201v28M611.5 181v1M611.5 188v1M611.5 199v28M612.5 181v1M612.5 184v3M612.5 202v15M613.5 182v2M613.5 206v14M614.5 205v14M615.5 206v13M616.5 208v16M617.5 210v18M618.5 216v16M619.5 210v19M620.5 209v18M621.5 175v1M621.5 205v13M622.5 176v1M622.5 210v18M623.5 173v1M623.5 177v1M623.5 211v19M624.5 211v21M625.5 215v15M626.5 172v2M626.5 176v4M626.5 211v15M627.5 174v5M627.5 210v19M628.5 176v2M628.5 200v26M629.5 176v45M630.5 176v4M630.5 186v2M630.5 199v24M631.5 176v4M631.5 206v16M632.5 176v2M632.5 180v4M632.5 186v27M633.5 184v2M633.5 190v24M634.5 179v1M634.5 182v2M634.5 188v32M635.5 183v1M635.5 186v2M635.5 190v26M636.5 176v4M636.5 184v2M636.5 188v32M637.5 176v6M637.5 184v2M637.5 187v36M638.5 176v4M638.5 182v6M638.5 190v31M639.5 178v4M639.5 184v39M640.5 175v5M640.5 182v2M640.5 186v42M641.5 176v2M641.5 180v2M641.5 184v4M641.5 192v16M641.5 218v12M642.5 186v2M642.5 190v37M643.5 194v34M644.5 193v21M644.5 224v12M645.5 190v2M645.5 195v18M645.5 229v13M646.5 192v40M647.5 192v40M648.5 215v5M649.5 209v11M650.5 199v25M651.5 206v15M652.5 196v30M653.5 191v7M653.5 199v24M655.5 202v20M656.5 194v2M656.5 198v29M657.5 190v40M658.5 192v2M658.5 200v33M659.5 198v32M660.5 201v37M661.5 197v41M662.5 204v25M663.5 199v24M664.5 193v1M664.5 198v2M664.5 204v22M665.5 191v3M665.5 200v23M666.5 190v4M666.5 196v35M667.5 189v1M667.5 194v26M674.5 210v14M675.5 200v33M676.5 200v36M677.5 202v31M678.5 207v16M679.5 201v25M680.5 204v20M681.5 198v22M732.5 224v16M733.5 210v34M735.5 168v4M736.5 168v2M736.5 171v1M736.5 202v17M737.5 191v3M737.5 195v10M738.5 174v2M738.5 187v1M738.5 190v23M739.5 184v4M739.5 189v30M740.5 174v4M740.5 180v2M740.5 184v2M740.5 187v5M740.5 203v30M741.5 154v2M741.5 158v2M741.5 163v1M741.5 170v2M741.5 174v13M741.5 218v20M742.5 170v2M742.5 174v16M742.5 219v21M743.5 177v13M743.5 216v23M744.5 174v6M744.5 182v6M744.5 218v20M745.5 154v2M745.5 166v2M745.5 170v4M745.5 177v2M745.5 226v18M746.5 166v2M746.5 171v7M746.5 221v13M747.5 168v18M747.5 216v10M748.5 160v2M748.5 168v2M748.5 174v2M748.5 177v10M748.5 216v11M749.5 169v1M749.5 172v4M749.5 180v10M749.5 210v12M750.5 174v20M750.5 205v13M751.5 162v2M751.5 170v2M751.5 176v42M752.5 193v19M753.5 183v39M753.5 285v10M754.5 190v22M871.5 199v24M872.5 187v37M873.5 197v27M874.5 204v18M875.5 198v27M876.5 191v36"/>
<path stroke="rgb(124,98,0)" d="M426.5 193v7M427.5 191v17M437.5 175v15M437.5 192v8M446.5 198v10M447.5 162v2M447.5 168v2M447.5 174v4M447.5 180v6M447.5 187v35M451.5 197v12M452.5 193v13M452.5 208v2M456.5 182v21M458.5 184v15M459.5 166v16M459.5 200v10M460.5 172v9M460.5 201v6M461.5 169v8M461.5 204v5M462.5 169v7M462.5 205v4M463.5 171v7M463.5 204v3M464.5 171v5M464.5 204v2M465.5 172v4M465.5 202v2M466.5 169v7M466.5 201v2M467.5 171v7M468.5 168v10M469.5 171v12M469.5 190v4M470.5 178v12M471.5 178v10M608.5 192v4M609.5 186v24M610.5 188v2M610.5 191v10M611.5 189v10M612.5 187v15M613.5 185v1M613.5 188v18M614.5 186v19M615.5 180v2M615.5 186v1M615.5 198v8M616.5 180v6M616.5 200v8M617.5 182v2M617.5 203v7M618.5 181v1M618.5 205v11M619.5 181v1M619.5 203v7M620.5 176v2M620.5 202v7M621.5 180v4M621.5 199v6M622.5 177v3M622.5 182v2M622.5 202v8M623.5 182v2M623.5 200v11M624.5 184v4M624.5 198v13M625.5 180v7M625.5 201v14M626.5 185v1M626.5 200v11M627.5 179v9M627.5 197v13M628.5 184v16M630.5 188v11M631.5 184v22M641.5 208v10M644.5 214v10M645.5 213v16M740.5 192v11M741.5 187v31M742.5 190v29M743.5 190v26M744.5 188v30M745.5 179v12M745.5 213v13M746.5 180v11M746.5 211v10M747.5 186v30M748.5 187v29M749.5 190v20M750.5 194v11"/>
<path stroke="rgb(128,94,0)" d="M459.5 182v18M460.5 181v20M461.5 177v13M461.5 193v11M462.5 176v10M462.5 197v8M463.5 178v7M463.5 197v7M464.5 176v7M464.5 199v5M465.5 176v7M465.5 198v4M466.5 176v7M466.5 198v3M467.5 178v20M468.5 178v16M469.5 183v7M615.5 187v11M616.5 188v12M617.5 188v15M618.5 182v4M618.5 190v15M619.5 184v2M619.5 190v13M620.5 184v18M621.5 186v13M622.5 188v14M623.5 188v12M624.5 188v10M625.5 187v14M626.5 188v12M627.5 189v1M627.5 192v5M745.5 191v22M746.5 191v20"/>
<path stroke="rgb(133,89,0)" d="M461.5 190v3M462.5 186v11M463.5 185v12M464.5 183v16M465.5 183v15M466.5 183v12"/>
</g>
<g shape-rendering="crispEdges">
<rect x="105" y="661" width="808" height="1" fill="rgb(132,92,0)"/>
<path fill="rgb(38,38,41)" d="M352 412h1v2h-1zM684 341h1v2h-1z"/>
<path fill="rgb(38,38,50)" d="M797 89h1v2h-1zM805 607h1v2h-1zM655 113h1v2h-1zM306 67h1v2h-1zM664 257h1v2h-1zM863 77h1v2h-1zM126 578h1v2h-1z"/>
<path fill="rgb(38,38,59)" d="M725 342h1v2h-1zM716 99h1v2h-1zM805 73h1v2h-1zM261 473h1v2h-1zM487 59h1v2h-1zM229 349h1v2h-1zM254 575h1v2h-1zM163 123h1v2h-1z"/>
<path fill="rgb(38,38,69)" d="M429 627h1v2h-1zM813 80h1v2h-1zM105 362h1v2h-1zM222 524h1v2h-1zM697 417h1v2h-1zM830 126h1v2h-1z"/>
<path fill="rgb(38,38,80)" d="M349 659h1v2h-1zM358 410h1v2h-1zM745 548h1v2h-1zM371 385h1v2h-1zM810 653h1v2h-1zM892 476h1v2h-1z"/>
<path fill="rgb(38,38,90)" d="M111 343h1v2h-1zM110 79h1v2h-1zM193 618h1v2h-1zM230 386h1v2h-1zM252 97h1v2h-1zM722 621h1v2h-1zM631 407h1v2h-1z"/>
<path fill="rgb(38,48,97)" d="M680 73h1v2h-1zM563 627h1v2h-1zM554 441h1v2h-1zM621 156h1v2h-1zM887 476h1v2h-1zM314 580h1v2h-1zM494 443h1v2h-1zM118 127h1v2h-1z"/>
<path fill="rgb(38,63,104)" d="M354 110h1v2h-1zM378 447h1v2h-1zM710 73h1v2h-1zM783 105h1v2h-1zM675 652h1v2h-1zM305 356h1v2h-1zM727 461h1v2h-1zM372 660h1v2h-1zM240 632h1v2h-1z"/>
<path fill="rgb(38,78,108)" d="M797 470h1v2h-1zM599 76h1v2h-1zM626 511h1v2h-1zM442 551h1v2h-1zM114 65h1v2h-1zM414 125h1v2h-1zM139 529h1v2h-1z"/>
<path fill="rgb(38,90,108)" d="M560 611h1v2h-1zM771 548h1v2h-1z"/>
<path fill="rgb(38,103,108)" d="M855 420h1v2h-1zM289 432h1v2h-1zM648 427h1v2h-1zM756 424h1v2h-1zM708 75h1v2h-1zM169 190h1v2h-1zM582 547h1v2h-1zM450 603h1v2h-1zM820 325h1v2h-1z"/>
<path fill="rgb(38,115,108)" d="M723 375h1v2h-1zM431 114h1v2h-1zM911 223h1v2h-1z"/>
<path fill="rgb(38,126,108)" d="M855 508h1v2h-1zM196 237h1v2h-1zM253 193h1v2h-1zM545 599h1v2h-1zM228 224h1v2h-1zM345 519h1v2h-1zM138 125h1v2h-1z"/>
<path fill="rgb(38,137,108)" d="M666 521h1v2h-1zM378 416h1v2h-1zM817 643h1v2h-1zM345 324h1v2h-1zM250 478h1v2h-1zM869 484h1v2h-1zM287 73h1v2h-1z"/>
<path fill="rgb(38,142,101)" d="M402 453h1v2h-1zM176 499h1v2h-1zM569 410h1v2h-1zM186 611h1v2h-1zM412 187h1v2h-1zM503 404h1v2h-1z"/>
<path fill="rgb(38,140,86)" d="M896 439h1v2h-1zM770 353h1v2h-1zM541 77h1v2h-1zM746 439h1v2h-1zM652 121h1v2h-1zM648 227h1v2h-1zM623 644h1v2h-1z"/>
<path fill="rgb(38,138,72)" d="M506 517h1v2h-1zM138 470h1v2h-1zM789 75h1v2h-1zM289 366h1v2h-1zM441 552h1v2h-1zM340 428h1v2h-1zM472 414h1v2h-1z"/>
<path fill="rgb(38,137,57)" d="M289 476h1v2h-1zM469 626h1v2h-1zM609 579h1v2h-1zM187 352h1v2h-1z"/>
<path fill="rgb(38,139,50)" d="M209 548h1v2h-1zM721 436h1v2h-1z"/>
<path fill="rgb(42,142,38)" d="M661 500h1v2h-1zM706 500h1v2h-1zM445 517h1v2h-1zM530 582h1v3h-1zM531 582h1v2h-1zM533 581h1v3h-1zM575 584h1v2h-1zM663 628h1v2h-1zM616 630h1v2h-1zM649 634h1v2h-1zM376 641h1v2h-1zM423 644h1v3h-1zM468 647h1v2h-1zM556 649h1v4h-1zM863 648h1v3h-1zM864 649h1v2h-1zM510 654h1v4h-1zM743 665h1v2h-1zM858 500h1v4h-1zM716 520h1v2h-1zM636 560h1v2h-1zM532 564h1v4h-1zM795 614h1v2h-1zM673 644h1v2h-1zM775 646h1v4h-1zM871 648h1v4h-1zM692 652h1v2h-1zM754 453h1v3h-1z"/>
<path fill="rgb(57,137,38)" d="M249 501h1v2h-1zM791 496h1v2h-1zM792 496h1v2h-1zM543 498h1v2h-1zM544 498h1v2h-1zM716 497h1v3h-1zM790 500h1v2h-1zM611 502h1v2h-1zM909 502h1v2h-1zM539 517h1v2h-1zM647 517h1v2h-1zM712 547h1v2h-1zM419 549h1v2h-1zM519 549h1v2h-1zM384 582h1v2h-1zM433 582h1v2h-1zM656 582h1v2h-1zM733 584h1v2h-1zM366 628h1v2h-1zM523 628h1v2h-1zM693 628h1v3h-1zM698 628h1v2h-1zM710 628h1v2h-1zM804 628h1v2h-1zM522 632h1v2h-1zM805 631h1v3h-1zM750 634h1v2h-1zM494 643h1v4h-1zM499 643h1v2h-1zM587 643h1v2h-1zM447 645h1v2h-1zM448 645h1v2h-1zM477 645h1v2h-1zM478 645h1v4h-1zM596 645h1v2h-1zM597 645h1v3h-1zM657 645h1v2h-1zM673 645h1v2h-1zM772 643h1v4h-1zM885 645h1v2h-1zM371 647h1v2h-1zM423 647h1v2h-1zM424 647h1v2h-1zM580 645h1v4h-1zM676 647h1v4h-1zM681 647h1v2h-1zM683 647h1v2h-1zM721 647h1v2h-1zM761 647h1v3h-1zM769 647h1v2h-1zM901 646h1v3h-1zM911 647h1v2h-1zM535 649h1v2h-1zM536 649h1v4h-1zM538 649h1v2h-1zM542 649h1v2h-1zM676 649h1v2h-1zM775 649h1v2h-1zM439 656h1v4h-1zM604 656h1v4h-1zM707 656h1v4h-1zM741 663h1v2h-1zM457 665h1v4h-1zM652 664h1v3h-1zM249 667h1v2h-1zM683 667h1v2h-1zM690 667h1v3h-1zM748 666h1v3h-1zM562 671h1v2h-1zM558 488h1v2h-1zM721 502h1v4h-1zM784 503h1v3h-1zM512 540h1v2h-1zM636 578h1v4h-1zM580 604h1v4h-1zM584 616h1v2h-1zM803 646h1v4h-1zM695 654h1v2h-1zM641 656h1v4h-1zM538 380h1v2h-1zM597 415h1v3h-1zM550 468h1v2h-1z"/>
<path fill="rgb(72,130,38)" d="M352 154h1v2h-1zM866 97h1v2h-1zM452 496h1v2h-1zM453 496h1v2h-1zM446 496h1v4h-1zM476 498h1v2h-1zM528 498h1v2h-1zM597 498h1v2h-1zM738 498h1v2h-1zM739 498h1v2h-1zM782 498h1v2h-1zM832 498h1v2h-1zM844 498h1v2h-1zM463 499h1v3h-1zM500 500h1v2h-1zM628 500h1v2h-1zM629 500h1v2h-1zM715 500h1v2h-1zM824 500h1v2h-1zM825 500h1v2h-1zM826 499h1v3h-1zM444 516h1v2h-1zM889 516h1v2h-1zM712 517h1v2h-1zM455 547h1v2h-1zM506 549h1v2h-1zM783 582h1v2h-1zM869 580h1v4h-1zM870 582h1v2h-1zM519 584h1v2h-1zM657 583h1v3h-1zM795 628h1v2h-1zM882 628h1v2h-1zM883 628h1v2h-1zM884 628h1v2h-1zM511 630h1v2h-1zM644 630h1v2h-1zM874 628h1v4h-1zM876 630h1v2h-1zM349 634h1v2h-1zM695 634h1v3h-1zM705 634h1v2h-1zM375 641h1v2h-1zM377 641h1v4h-1zM396 641h1v2h-1zM397 641h1v2h-1zM908 641h1v2h-1zM366 643h1v2h-1zM381 645h1v2h-1zM382 645h1v2h-1zM425 645h1v2h-1zM495 645h1v2h-1zM496 645h1v3h-1zM498 645h1v3h-1zM518 645h1v2h-1zM602 645h1v2h-1zM603 643h1v4h-1zM604 645h1v4h-1zM614 645h1v2h-1zM621 645h1v4h-1zM622 645h1v2h-1zM663 645h1v2h-1zM687 645h1v3h-1zM688 645h1v2h-1zM762 645h1v2h-1zM783 645h1v2h-1zM806 645h1v2h-1zM815 645h1v2h-1zM819 645h1v2h-1zM840 645h1v2h-1zM384 647h1v2h-1zM387 646h1v3h-1zM419 647h1v2h-1zM445 647h1v2h-1zM472 647h1v2h-1zM537 647h1v2h-1zM553 647h1v2h-1zM654 647h1v2h-1zM674 647h1v2h-1zM717 647h1v2h-1zM718 647h1v4h-1zM798 647h1v4h-1zM827 647h1v2h-1zM842 647h1v2h-1zM394 648h1v3h-1zM395 649h1v3h-1zM720 649h1v4h-1zM774 651h1v2h-1zM596 654h1v2h-1zM900 653h1v3h-1zM586 656h1v4h-1zM587 656h1v2h-1zM640 656h1v3h-1zM641 656h1v4h-1zM522 663h1v2h-1zM781 663h1v2h-1zM820 665h1v2h-1zM909 665h1v2h-1zM850 667h1v4h-1zM351 669h1v2h-1zM754 669h1v2h-1zM496 671h1v2h-1zM443 484h1v2h-1zM468 536h1v4h-1zM591 538h1v3h-1zM465 550h1v2h-1zM552 562h1v4h-1zM486 566h1v2h-1zM767 570h1v2h-1zM764 594h1v2h-1zM195 624h1v3h-1zM885 632h1v4h-1zM737 634h1v5h-1zM374 634h1v4h-1zM648 641h1v3h-1zM780 644h1v2h-1zM769 656h1v5h-1zM258 394h1v2h-1z"/>
<path fill="rgb(88,124,38)" d="M867 548h1v2h-1zM198 472h1v2h-1zM498 496h1v2h-1zM529 495h1v3h-1zM719 495h1v3h-1zM874 496h1v2h-1zM875 496h1v2h-1zM899 496h1v2h-1zM515 496h1v4h-1zM692 498h1v4h-1zM733 498h1v2h-1zM453 500h1v2h-1zM501 500h1v2h-1zM630 500h1v2h-1zM712 500h1v2h-1zM719 500h1v4h-1zM749 500h1v3h-1zM750 500h1v2h-1zM798 500h1v2h-1zM800 500h1v2h-1zM398 502h1v2h-1zM399 502h1v2h-1zM447 502h1v3h-1zM480 516h1v2h-1zM766 516h1v2h-1zM859 516h1v2h-1zM890 516h1v2h-1zM462 517h1v2h-1zM912 517h1v2h-1zM477 547h1v2h-1zM603 547h1v2h-1zM722 547h1v4h-1zM723 547h1v2h-1zM539 549h1v2h-1zM604 558h1v2h-1zM614 582h1v2h-1zM620 582h1v2h-1zM709 582h1v2h-1zM731 582h1v2h-1zM873 582h1v2h-1zM903 580h1v4h-1zM467 584h1v2h-1zM663 582h1v4h-1zM782 583h1v3h-1zM783 583h1v3h-1zM784 584h1v2h-1zM872 582h1v4h-1zM372 628h1v2h-1zM457 628h1v2h-1zM459 628h1v2h-1zM499 628h1v2h-1zM517 628h1v2h-1zM576 627h1v3h-1zM577 628h1v4h-1zM578 628h1v2h-1zM662 627h1v3h-1zM673 628h1v2h-1zM806 628h1v2h-1zM842 628h1v2h-1zM403 628h1v4h-1zM560 630h1v2h-1zM906 629h1v3h-1zM364 632h1v2h-1zM181 632h1v4h-1zM182 632h1v4h-1zM183 634h1v2h-1zM361 634h1v2h-1zM410 634h1v2h-1zM685 634h1v2h-1zM769 641h1v2h-1zM845 641h1v2h-1zM386 643h1v2h-1zM412 643h1v2h-1zM455 643h1v2h-1zM456 643h1v2h-1zM627 642h1v3h-1zM373 645h1v3h-1zM433 645h1v2h-1zM578 645h1v2h-1zM615 645h1v2h-1zM756 644h1v3h-1zM902 645h1v2h-1zM382 647h1v2h-1zM426 647h1v2h-1zM477 647h1v2h-1zM497 647h1v2h-1zM514 647h1v2h-1zM515 647h1v2h-1zM531 647h1v2h-1zM532 647h1v2h-1zM544 647h1v2h-1zM550 645h1v4h-1zM617 647h1v2h-1zM641 647h1v2h-1zM642 647h1v4h-1zM644 647h1v2h-1zM868 647h1v2h-1zM883 647h1v2h-1zM884 647h1v2h-1zM892 647h1v4h-1zM489 649h1v4h-1zM551 649h1v2h-1zM573 649h1v3h-1zM596 649h1v2h-1zM819 649h1v4h-1zM862 649h1v4h-1zM499 654h1v2h-1zM500 654h1v2h-1zM501 654h1v2h-1zM639 654h1v2h-1zM430 656h1v3h-1zM436 656h1v2h-1zM437 656h1v2h-1zM526 656h1v4h-1zM746 656h1v2h-1zM319 663h1v2h-1zM691 663h1v2h-1zM692 663h1v2h-1zM849 663h1v2h-1zM895 663h1v2h-1zM896 663h1v2h-1zM610 665h1v2h-1zM708 665h1v2h-1zM753 665h1v2h-1zM796 665h1v2h-1zM871 665h1v2h-1zM670 667h1v2h-1zM701 667h1v2h-1zM702 667h1v2h-1zM703 667h1v2h-1zM830 665h1v4h-1zM506 669h1v2h-1zM639 671h1v2h-1zM786 671h1v2h-1zM784 494h1v4h-1zM851 500h1v4h-1zM379 502h1v4h-1zM736 506h1v2h-1zM580 528h1v2h-1zM775 536h1v3h-1zM435 548h1v3h-1zM744 568h1v2h-1zM808 568h1v2h-1zM886 572h1v4h-1zM475 586h1v2h-1zM665 596h1v2h-1zM800 610h1v2h-1zM186 612h1v2h-1zM895 620h1v2h-1zM503 620h1v4h-1zM830 626h1v2h-1zM384 628h1v2h-1zM539 628h1v3h-1zM671 628h1v2h-1zM469 628h1v4h-1zM808 630h1v6h-1zM771 638h1v2h-1zM563 642h1v2h-1zM311 644h1v2h-1zM401 646h1v4h-1zM800 648h1v6h-1zM844 650h1v2h-1zM824 381h1v3h-1zM568 436h1v3h-1z"/>
<path fill="rgb(105,118,38)" d="M906 410h1v2h-1zM458 496h1v2h-1zM526 494h1v4h-1zM718 496h1v2h-1zM720 496h1v4h-1zM723 496h1v2h-1zM852 496h1v2h-1zM907 496h1v3h-1zM399 498h1v2h-1zM480 498h1v2h-1zM492 498h1v2h-1zM519 498h1v2h-1zM520 498h1v2h-1zM717 498h1v2h-1zM749 497h1v3h-1zM836 496h1v4h-1zM375 500h1v2h-1zM385 500h1v2h-1zM394 500h1v2h-1zM486 500h1v2h-1zM494 500h1v2h-1zM498 499h1v3h-1zM504 500h1v2h-1zM551 500h1v2h-1zM582 499h1v3h-1zM671 500h1v2h-1zM687 500h1v3h-1zM688 500h1v2h-1zM724 499h1v3h-1zM776 500h1v2h-1zM795 500h1v2h-1zM799 500h1v2h-1zM839 500h1v4h-1zM840 500h1v4h-1zM841 499h1v3h-1zM904 500h1v2h-1zM560 502h1v2h-1zM561 502h1v2h-1zM562 502h1v2h-1zM563 501h1v3h-1zM687 502h1v2h-1zM735 500h1v4h-1zM872 502h1v2h-1zM903 502h1v2h-1zM574 516h1v3h-1zM709 516h1v2h-1zM444 517h1v2h-1zM468 547h1v4h-1zM555 545h1v4h-1zM556 546h1v3h-1zM667 547h1v4h-1zM719 547h1v2h-1zM837 547h1v2h-1zM838 547h1v4h-1zM437 549h1v2h-1zM451 549h1v2h-1zM565 549h1v4h-1zM447 558h1v2h-1zM850 558h1v2h-1zM368 580h1v4h-1zM419 582h1v2h-1zM492 582h1v3h-1zM514 582h1v4h-1zM515 582h1v2h-1zM516 582h1v2h-1zM532 582h1v2h-1zM540 580h1v4h-1zM637 582h1v2h-1zM667 582h1v3h-1zM857 582h1v3h-1zM897 582h1v3h-1zM478 584h1v2h-1zM669 584h1v2h-1zM740 583h1v3h-1zM741 584h1v4h-1zM742 584h1v2h-1zM186 621h1v2h-1zM189 621h1v2h-1zM190 621h1v2h-1zM380 621h1v2h-1zM385 621h1v2h-1zM386 621h1v2h-1zM388 621h1v2h-1zM389 621h1v2h-1zM394 621h1v2h-1zM514 548h1v2h-1zM525 548h1v2h-1zM526 548h1v2h-1zM528 548h1v2h-1zM531 548h1v2h-1zM610 516h1v2h-1zM614 516h1v2h-1zM441 516h1v2h-1zM446 516h1v2h-1zM463 516h1v2h-1zM201 651h1v2h-1zM207 651h1v2h-1zM219 651h1v2h-1zM223 651h1v2h-1zM453 628h1v2h-1zM458 628h1v2h-1zM477 628h1v2h-1zM604 628h1v2h-1zM645 628h1v2h-1zM796 628h1v2h-1zM797 628h1v2h-1zM863 628h1v2h-1zM870 628h1v2h-1zM872 628h1v2h-1zM394 630h1v3h-1zM395 630h1v3h-1zM425 630h1v2h-1zM435 630h1v4h-1zM436 630h1v2h-1zM477 629h1v3h-1zM478 630h1v2h-1zM483 630h1v2h-1zM522 630h1v2h-1zM631 630h1v2h-1zM640 630h1v2h-1zM702 630h1v2h-1zM816 630h1v2h-1zM857 630h1v3h-1zM419 632h1v2h-1zM534 632h1v2h-1zM555 630h1v4h-1zM583 632h1v2h-1zM611 632h1v3h-1zM411 632h1v4h-1zM618 633h1v3h-1zM652 634h1v2h-1zM585 641h1v2h-1zM654 641h1v4h-1zM374 643h1v2h-1zM540 643h1v2h-1zM648 643h1v2h-1zM890 643h1v2h-1zM367 645h1v2h-1zM369 645h1v2h-1zM372 645h1v2h-1zM395 645h1v4h-1zM437 645h1v2h-1zM464 645h1v2h-1zM528 645h1v2h-1zM529 645h1v2h-1zM532 645h1v2h-1zM534 645h1v2h-1zM573 645h1v2h-1zM658 645h1v2h-1zM680 645h1v3h-1zM706 645h1v2h-1zM712 645h1v2h-1zM741 645h1v2h-1zM742 645h1v2h-1zM752 645h1v2h-1zM779 645h1v2h-1zM790 643h1v4h-1zM792 645h1v3h-1zM794 645h1v2h-1zM832 645h1v2h-1zM846 643h1v4h-1zM849 645h1v2h-1zM855 645h1v4h-1zM888 645h1v2h-1zM889 645h1v2h-1zM893 645h1v2h-1zM361 647h1v2h-1zM408 647h1v2h-1zM444 645h1v4h-1zM461 646h1v3h-1zM507 647h1v2h-1zM508 647h1v2h-1zM561 647h1v4h-1zM562 647h1v2h-1zM584 647h1v2h-1zM586 647h1v2h-1zM615 647h1v2h-1zM651 646h1v3h-1zM712 647h1v2h-1zM745 647h1v2h-1zM768 647h1v2h-1zM781 647h1v2h-1zM800 647h1v2h-1zM813 647h1v2h-1zM824 647h1v4h-1zM834 647h1v2h-1zM848 647h1v3h-1zM852 647h1v2h-1zM855 647h1v4h-1zM906 646h1v3h-1zM909 647h1v2h-1zM385 649h1v2h-1zM386 649h1v4h-1zM408 648h1v3h-1zM563 648h1v3h-1zM564 649h1v2h-1zM618 647h1v4h-1zM726 649h1v2h-1zM908 649h1v2h-1zM388 651h1v2h-1zM389 651h1v3h-1zM474 651h1v2h-1zM475 651h1v2h-1zM821 651h1v2h-1zM896 651h1v2h-1zM525 653h1v3h-1zM768 654h1v2h-1zM769 652h1v4h-1zM904 654h1v2h-1zM445 654h1v4h-1zM549 655h1v3h-1zM583 656h1v2h-1zM620 656h1v2h-1zM621 656h1v2h-1zM633 656h1v2h-1zM649 655h1v3h-1zM662 656h1v2h-1zM680 656h1v4h-1zM146 663h1v2h-1zM498 663h1v2h-1zM539 663h1v2h-1zM540 663h1v2h-1zM541 663h1v2h-1zM542 663h1v2h-1zM553 663h1v2h-1zM830 663h1v3h-1zM831 663h1v2h-1zM832 663h1v2h-1zM833 663h1v3h-1zM890 663h1v2h-1zM636 665h1v2h-1zM842 665h1v2h-1zM910 665h1v2h-1zM376 667h1v2h-1zM757 667h1v2h-1zM798 667h1v2h-1zM851 667h1v2h-1zM607 669h1v2h-1zM608 669h1v2h-1zM639 669h1v2h-1zM692 669h1v2h-1zM693 667h1v4h-1zM701 669h1v2h-1zM845 669h1v2h-1zM865 669h1v2h-1zM710 671h1v2h-1zM118 480h1v3h-1zM530 484h1v2h-1zM526 488h1v2h-1zM607 490h1v2h-1zM727 500h1v5h-1zM777 500h1v4h-1zM694 502h1v2h-1zM453 504h1v2h-1zM724 504h1v2h-1zM624 508h1v2h-1zM227 512h1v4h-1zM554 518h1v2h-1zM666 524h1v2h-1zM428 529h1v5h-1zM728 533h1v5h-1zM900 548h1v3h-1zM398 550h1v2h-1zM542 550h1v2h-1zM634 554h1v3h-1zM749 560h1v4h-1zM608 570h1v2h-1zM776 576h1v5h-1zM856 583h1v3h-1zM863 584h1v4h-1zM797 586h1v3h-1zM290 588h1v5h-1zM542 590h1v2h-1zM755 596h1v2h-1zM720 600h1v5h-1zM256 608h1v2h-1zM874 610h1v2h-1zM854 610h1v4h-1zM641 622h1v4h-1zM683 628h1v4h-1zM161 632h1v4h-1zM182 632h1v4h-1zM475 632h1v4h-1zM879 634h1v4h-1zM565 636h1v2h-1zM769 636h1v2h-1zM530 638h1v2h-1zM579 640h1v2h-1zM423 648h1v4h-1zM477 650h1v3h-1zM432 652h1v2h-1zM505 652h1v2h-1zM540 652h1v2h-1zM703 654h1v2h-1zM897 653h1v3h-1zM492 656h1v4h-1zM573 656h1v4h-1zM216 384h1v2h-1zM321 390h1v2h-1zM164 400h1v2h-1zM540 414h1v2h-1zM152 432h1v4h-1z"/>
<path fill="rgb(122,109,38)" d="M213 135h1v2h-1zM478 553h1v2h-1zM640 495h1v3h-1zM649 496h1v2h-1zM724 496h1v2h-1zM836 494h1v4h-1zM910 496h1v2h-1zM394 498h1v2h-1zM410 498h1v3h-1zM426 496h1v4h-1zM427 498h1v2h-1zM438 498h1v2h-1zM445 498h1v2h-1zM447 498h1v2h-1zM505 498h1v2h-1zM506 498h1v2h-1zM538 498h1v4h-1zM550 496h1v4h-1zM551 498h1v2h-1zM637 498h1v2h-1zM643 498h1v2h-1zM677 498h1v3h-1zM741 496h1v4h-1zM776 498h1v2h-1zM779 498h1v2h-1zM420 500h1v2h-1zM460 498h1v4h-1zM461 500h1v2h-1zM485 500h1v2h-1zM488 499h1v3h-1zM518 500h1v2h-1zM529 500h1v2h-1zM540 500h1v2h-1zM562 500h1v2h-1zM613 500h1v2h-1zM621 500h1v2h-1zM624 500h1v2h-1zM643 500h1v3h-1zM663 500h1v2h-1zM793 500h1v2h-1zM886 500h1v2h-1zM887 500h1v2h-1zM888 500h1v2h-1zM895 500h1v2h-1zM896 500h1v2h-1zM612 502h1v2h-1zM802 502h1v2h-1zM697 515h1v3h-1zM840 516h1v3h-1zM624 517h1v2h-1zM463 547h1v2h-1zM479 547h1v2h-1zM480 547h1v2h-1zM497 547h1v4h-1zM515 547h1v2h-1zM627 547h1v2h-1zM711 547h1v2h-1zM880 547h1v2h-1zM881 547h1v2h-1zM489 549h1v3h-1zM851 558h1v2h-1zM860 558h1v3h-1zM369 582h1v2h-1zM399 582h1v2h-1zM400 582h1v4h-1zM449 582h1v2h-1zM461 582h1v4h-1zM462 582h1v2h-1zM475 582h1v2h-1zM507 582h1v2h-1zM538 581h1v3h-1zM539 582h1v2h-1zM554 582h1v2h-1zM618 582h1v2h-1zM648 581h1v3h-1zM649 582h1v2h-1zM650 582h1v2h-1zM651 582h1v2h-1zM661 580h1v4h-1zM844 582h1v2h-1zM901 582h1v2h-1zM902 581h1v3h-1zM410 584h1v2h-1zM477 584h1v2h-1zM479 584h1v2h-1zM550 584h1v2h-1zM662 584h1v2h-1zM670 584h1v3h-1zM690 584h1v2h-1zM152 621h1v2h-1zM153 621h1v2h-1zM155 621h1v2h-1zM156 621h1v2h-1zM157 621h1v2h-1zM161 621h1v2h-1zM163 621h1v2h-1zM164 621h1v2h-1zM165 621h1v2h-1zM188 621h1v2h-1zM191 621h1v2h-1zM231 621h1v2h-1zM232 621h1v2h-1zM233 621h1v2h-1zM235 621h1v2h-1zM258 621h1v2h-1zM259 621h1v2h-1zM260 621h1v2h-1zM261 621h1v2h-1zM262 621h1v2h-1zM263 621h1v2h-1zM264 621h1v2h-1zM379 621h1v2h-1zM381 621h1v2h-1zM383 621h1v2h-1zM384 621h1v2h-1zM387 621h1v2h-1zM390 621h1v2h-1zM391 621h1v2h-1zM393 621h1v2h-1zM510 548h1v2h-1zM512 548h1v2h-1zM513 548h1v2h-1zM515 548h1v2h-1zM516 548h1v2h-1zM518 548h1v2h-1zM519 548h1v2h-1zM520 548h1v2h-1zM521 548h1v2h-1zM522 548h1v2h-1zM523 548h1v2h-1zM524 548h1v2h-1zM527 548h1v2h-1zM529 548h1v2h-1zM530 548h1v2h-1zM532 548h1v2h-1zM533 548h1v2h-1zM534 548h1v2h-1zM535 548h1v2h-1zM606 516h1v2h-1zM607 516h1v2h-1zM608 516h1v2h-1zM609 516h1v2h-1zM611 516h1v2h-1zM613 516h1v2h-1zM615 516h1v2h-1zM616 516h1v2h-1zM618 516h1v2h-1zM619 516h1v2h-1zM620 516h1v2h-1zM440 516h1v2h-1zM442 516h1v2h-1zM443 516h1v2h-1zM444 516h1v2h-1zM445 516h1v2h-1zM460 516h1v2h-1zM462 516h1v2h-1zM464 516h1v2h-1zM465 516h1v2h-1zM466 516h1v2h-1zM202 651h1v2h-1zM203 651h1v2h-1zM204 651h1v2h-1zM208 651h1v2h-1zM210 651h1v2h-1zM211 651h1v2h-1zM212 651h1v2h-1zM213 651h1v2h-1zM214 651h1v2h-1zM215 651h1v2h-1zM221 651h1v2h-1zM222 651h1v2h-1zM433 627h1v3h-1zM468 628h1v2h-1zM480 628h1v2h-1zM596 628h1v2h-1zM623 628h1v4h-1zM624 627h1v3h-1zM626 627h1v3h-1zM642 626h1v4h-1zM652 626h1v4h-1zM688 628h1v2h-1zM748 628h1v2h-1zM749 628h1v2h-1zM758 628h1v2h-1zM810 626h1v4h-1zM885 626h1v4h-1zM340 629h1v3h-1zM355 630h1v2h-1zM356 630h1v2h-1zM357 630h1v2h-1zM455 628h1v4h-1zM585 629h1v3h-1zM610 630h1v4h-1zM630 630h1v2h-1zM753 630h1v2h-1zM754 630h1v3h-1zM755 630h1v2h-1zM757 630h1v2h-1zM395 632h1v2h-1zM396 632h1v2h-1zM483 632h1v2h-1zM527 632h1v2h-1zM561 632h1v2h-1zM636 632h1v2h-1zM781 632h1v2h-1zM795 630h1v4h-1zM814 632h1v2h-1zM865 632h1v2h-1zM197 634h1v2h-1zM447 634h1v3h-1zM471 634h1v2h-1zM528 634h1v2h-1zM765 633h1v3h-1zM799 634h1v2h-1zM800 632h1v4h-1zM801 634h1v2h-1zM820 634h1v2h-1zM430 641h1v2h-1zM716 641h1v2h-1zM770 641h1v3h-1zM771 641h1v2h-1zM812 641h1v4h-1zM813 641h1v2h-1zM390 643h1v2h-1zM400 643h1v2h-1zM441 643h1v2h-1zM453 643h1v2h-1zM461 643h1v3h-1zM549 643h1v2h-1zM550 643h1v2h-1zM593 643h1v2h-1zM595 641h1v4h-1zM635 643h1v2h-1zM769 643h1v2h-1zM905 643h1v2h-1zM362 645h1v2h-1zM371 645h1v2h-1zM409 645h1v2h-1zM420 645h1v2h-1zM428 645h1v2h-1zM484 645h1v2h-1zM490 645h1v2h-1zM491 645h1v2h-1zM497 645h1v2h-1zM508 645h1v2h-1zM517 645h1v2h-1zM519 645h1v2h-1zM520 645h1v4h-1zM531 645h1v4h-1zM543 645h1v2h-1zM544 645h1v2h-1zM545 645h1v2h-1zM546 645h1v2h-1zM570 645h1v2h-1zM593 643h1v4h-1zM594 644h1v3h-1zM611 645h1v2h-1zM612 645h1v2h-1zM635 645h1v3h-1zM639 645h1v2h-1zM641 645h1v2h-1zM648 645h1v2h-1zM655 645h1v2h-1zM660 645h1v2h-1zM671 645h1v2h-1zM677 645h1v2h-1zM678 645h1v2h-1zM715 645h1v2h-1zM717 645h1v2h-1zM722 645h1v4h-1zM733 645h1v2h-1zM761 645h1v2h-1zM763 645h1v2h-1zM786 645h1v2h-1zM791 645h1v2h-1zM809 645h1v2h-1zM810 645h1v2h-1zM816 645h1v2h-1zM821 645h1v2h-1zM823 645h1v2h-1zM824 645h1v2h-1zM827 645h1v2h-1zM834 645h1v2h-1zM835 645h1v2h-1zM837 644h1v3h-1zM886 645h1v2h-1zM900 645h1v3h-1zM906 645h1v4h-1zM907 645h1v2h-1zM363 647h1v2h-1zM397 647h1v2h-1zM398 647h1v2h-1zM421 645h1v4h-1zM436 647h1v2h-1zM437 645h1v4h-1zM462 647h1v2h-1zM538 647h1v2h-1zM555 647h1v2h-1zM569 647h1v2h-1zM570 647h1v2h-1zM572 647h1v2h-1zM575 647h1v2h-1zM585 647h1v2h-1zM639 647h1v2h-1zM647 647h1v2h-1zM685 647h1v2h-1zM723 647h1v2h-1zM756 645h1v4h-1zM757 645h1v4h-1zM786 647h1v2h-1zM788 647h1v3h-1zM807 645h1v4h-1zM808 646h1v3h-1zM819 646h1v3h-1zM828 647h1v2h-1zM850 647h1v2h-1zM876 647h1v2h-1zM877 647h1v2h-1zM889 647h1v2h-1zM890 646h1v3h-1zM891 647h1v2h-1zM894 647h1v2h-1zM362 649h1v2h-1zM366 649h1v2h-1zM422 649h1v2h-1zM482 649h1v2h-1zM526 649h1v2h-1zM537 649h1v3h-1zM580 649h1v3h-1zM581 649h1v2h-1zM639 649h1v3h-1zM736 649h1v2h-1zM761 649h1v2h-1zM767 649h1v2h-1zM776 648h1v3h-1zM806 649h1v2h-1zM843 649h1v2h-1zM844 649h1v2h-1zM845 649h1v2h-1zM893 647h1v4h-1zM555 651h1v2h-1zM799 651h1v4h-1zM841 651h1v2h-1zM204 654h1v3h-1zM374 654h1v2h-1zM424 652h1v4h-1zM476 654h1v2h-1zM536 654h1v2h-1zM537 654h1v3h-1zM586 654h1v3h-1zM640 654h1v3h-1zM765 654h1v2h-1zM893 654h1v2h-1zM425 654h1v4h-1zM438 656h1v2h-1zM464 656h1v4h-1zM465 656h1v3h-1zM507 656h1v2h-1zM508 656h1v2h-1zM582 656h1v4h-1zM659 656h1v2h-1zM875 656h1v2h-1zM876 654h1v4h-1zM151 663h1v2h-1zM384 663h1v4h-1zM495 663h1v2h-1zM639 663h1v2h-1zM808 662h1v3h-1zM811 662h1v3h-1zM892 663h1v2h-1zM370 665h1v2h-1zM576 665h1v2h-1zM595 665h1v2h-1zM596 665h1v2h-1zM720 665h1v2h-1zM873 665h1v2h-1zM387 667h1v2h-1zM424 665h1v4h-1zM513 667h1v4h-1zM700 665h1v4h-1zM722 667h1v2h-1zM760 667h1v2h-1zM854 667h1v2h-1zM868 667h1v2h-1zM870 665h1v4h-1zM889 667h1v2h-1zM473 669h1v2h-1zM502 669h1v2h-1zM652 669h1v2h-1zM680 669h1v2h-1zM341 671h1v2h-1zM342 671h1v2h-1zM689 671h1v2h-1zM764 671h1v2h-1zM554 480h1v4h-1zM710 482h1v2h-1zM496 482h1v4h-1zM839 492h1v4h-1zM401 498h1v2h-1zM543 498h1v2h-1zM638 498h1v3h-1zM642 496h1v4h-1zM539 500h1v4h-1zM721 500h1v4h-1zM622 502h1v2h-1zM623 512h1v3h-1zM302 518h1v2h-1zM577 517h1v3h-1zM583 516h1v4h-1zM676 517h1v3h-1zM680 518h1v2h-1zM857 522h1v4h-1zM703 522h1v4h-1zM375 526h1v2h-1zM737 526h1v4h-1zM611 528h1v2h-1zM175 530h1v4h-1zM520 532h1v4h-1zM791 540h1v4h-1zM562 556h1v2h-1zM832 556h1v2h-1zM812 562h1v4h-1zM566 566h1v2h-1zM689 566h1v2h-1zM578 582h1v2h-1zM129 583h1v3h-1zM881 588h1v4h-1zM844 590h1v2h-1zM679 600h1v6h-1zM476 604h1v4h-1zM358 612h1v2h-1zM411 614h1v2h-1zM772 616h1v2h-1zM183 616h1v4h-1zM523 618h1v2h-1zM499 624h1v2h-1zM720 624h1v2h-1zM881 632h1v4h-1zM748 638h1v2h-1zM373 638h1v4h-1zM392 640h1v2h-1zM706 640h1v2h-1zM846 642h1v2h-1zM890 644h1v2h-1zM280 646h1v5h-1zM163 652h1v3h-1zM323 652h1v2h-1zM414 652h1v2h-1zM475 652h1v2h-1zM690 652h1v3h-1zM837 652h1v2h-1zM656 654h1v2h-1zM870 654h1v2h-1zM705 656h1v4h-1zM819 656h1v6h-1zM864 656h1v4h-1zM352 362h1v2h-1zM816 362h1v2h-1zM615 378h1v2h-1zM129 398h1v2h-1zM503 424h1v2h-1zM893 424h1v2h-1zM119 425h1v3h-1zM237 450h1v3h-1zM362 458h1v4h-1zM780 460h1v3h-1zM515 462h1v2h-1zM583 466h1v2h-1zM342 472h1v2h-1z"/>
<path fill="rgb(134,97,38)" d="M562 656h1v2h-1zM750 405h1v2h-1zM654 496h1v2h-1zM667 497h1v3h-1zM691 496h1v4h-1zM719 498h1v2h-1zM912 496h1v4h-1zM506 500h1v2h-1zM567 500h1v2h-1zM810 500h1v2h-1zM822 500h1v2h-1zM885 500h1v2h-1zM912 500h1v3h-1zM590 502h1v2h-1zM742 502h1v2h-1zM452 515h1v3h-1zM708 516h1v2h-1zM810 516h1v2h-1zM906 516h1v2h-1zM459 517h1v2h-1zM460 517h1v2h-1zM461 516h1v3h-1zM764 517h1v2h-1zM429 547h1v2h-1zM519 547h1v2h-1zM525 547h1v2h-1zM537 547h1v2h-1zM538 546h1v3h-1zM572 547h1v4h-1zM629 547h1v2h-1zM450 549h1v2h-1zM376 558h1v2h-1zM568 556h1v4h-1zM388 582h1v2h-1zM434 581h1v3h-1zM491 582h1v2h-1zM546 582h1v2h-1zM672 580h1v4h-1zM724 582h1v2h-1zM742 582h1v2h-1zM835 582h1v2h-1zM574 584h1v2h-1zM621 583h1v3h-1zM718 584h1v3h-1zM873 584h1v2h-1zM878 584h1v2h-1zM187 621h1v2h-1zM378 621h1v2h-1zM382 621h1v2h-1zM392 621h1v2h-1zM517 548h1v2h-1zM612 516h1v2h-1zM464 628h1v2h-1zM498 628h1v2h-1zM500 628h1v2h-1zM633 628h1v2h-1zM634 628h1v3h-1zM638 628h1v2h-1zM639 628h1v4h-1zM686 628h1v2h-1zM405 630h1v2h-1zM407 630h1v2h-1zM621 630h1v3h-1zM686 630h1v2h-1zM697 630h1v3h-1zM470 632h1v2h-1zM643 630h1v4h-1zM691 632h1v2h-1zM862 632h1v2h-1zM385 634h1v2h-1zM404 634h1v2h-1zM636 634h1v2h-1zM637 634h1v2h-1zM704 634h1v2h-1zM884 634h1v2h-1zM432 641h1v2h-1zM449 640h1v3h-1zM508 641h1v2h-1zM591 641h1v4h-1zM592 641h1v2h-1zM593 639h1v4h-1zM454 641h1v4h-1zM594 643h1v2h-1zM596 643h1v2h-1zM610 643h1v2h-1zM643 643h1v2h-1zM737 643h1v4h-1zM377 645h1v2h-1zM402 644h1v3h-1zM480 645h1v3h-1zM507 645h1v2h-1zM509 645h1v3h-1zM513 645h1v3h-1zM525 645h1v2h-1zM533 643h1v4h-1zM559 645h1v4h-1zM561 645h1v2h-1zM562 645h1v2h-1zM566 643h1v4h-1zM567 645h1v2h-1zM568 645h1v2h-1zM610 645h1v2h-1zM675 644h1v3h-1zM726 645h1v2h-1zM739 645h1v4h-1zM745 645h1v2h-1zM755 645h1v2h-1zM758 645h1v2h-1zM769 645h1v2h-1zM784 643h1v4h-1zM797 645h1v2h-1zM800 645h1v2h-1zM826 645h1v2h-1zM861 645h1v4h-1zM393 647h1v2h-1zM450 647h1v2h-1zM451 647h1v4h-1zM459 647h1v2h-1zM487 647h1v2h-1zM488 647h1v3h-1zM510 647h1v2h-1zM525 647h1v2h-1zM526 647h1v2h-1zM541 646h1v3h-1zM667 647h1v3h-1zM684 645h1v4h-1zM702 647h1v2h-1zM738 645h1v4h-1zM759 647h1v2h-1zM785 647h1v2h-1zM898 647h1v2h-1zM517 647h1v4h-1zM525 648h1v3h-1zM670 649h1v2h-1zM787 649h1v2h-1zM756 651h1v2h-1zM449 654h1v2h-1zM450 654h1v2h-1zM524 654h1v2h-1zM723 654h1v2h-1zM791 654h1v2h-1zM792 654h1v2h-1zM813 653h1v3h-1zM824 654h1v4h-1zM878 654h1v3h-1zM879 654h1v2h-1zM428 656h1v4h-1zM429 656h1v4h-1zM431 656h1v2h-1zM506 656h1v2h-1zM648 655h1v3h-1zM650 656h1v2h-1zM694 656h1v2h-1zM695 656h1v2h-1zM738 656h1v3h-1zM790 656h1v2h-1zM605 663h1v2h-1zM682 662h1v3h-1zM695 663h1v2h-1zM699 663h1v2h-1zM716 663h1v3h-1zM809 663h1v2h-1zM810 662h1v3h-1zM338 665h1v2h-1zM412 665h1v4h-1zM575 665h1v2h-1zM507 667h1v4h-1zM776 666h1v3h-1zM792 667h1v2h-1zM793 667h1v2h-1zM794 667h1v2h-1zM833 667h1v2h-1zM879 667h1v2h-1zM395 667h1v4h-1zM401 669h1v2h-1zM653 669h1v2h-1zM836 669h1v2h-1zM909 669h1v2h-1zM477 488h1v2h-1zM610 494h1v2h-1zM468 511h1v3h-1zM513 548h1v2h-1zM371 550h1v2h-1zM767 552h1v4h-1zM132 558h1v2h-1zM609 558h1v3h-1zM747 560h1v2h-1zM220 563h1v5h-1zM300 586h1v2h-1zM503 598h1v2h-1zM651 605h1v3h-1zM553 610h1v2h-1zM358 622h1v4h-1zM724 626h1v4h-1zM837 626h1v4h-1zM857 630h1v2h-1zM168 634h1v4h-1zM523 634h1v4h-1zM716 632h1v6h-1zM373 638h1v2h-1zM719 639h1v3h-1zM830 640h1v2h-1zM373 642h1v2h-1zM416 642h1v2h-1zM827 642h1v3h-1zM392 644h1v2h-1zM620 644h1v2h-1zM380 646h1v4h-1zM686 650h1v4h-1zM233 654h1v2h-1zM555 654h1v2h-1zM630 654h1v4h-1zM487 656h1v4h-1zM710 406h1v2h-1zM690 414h1v4h-1zM553 434h1v2h-1zM374 438h1v2h-1zM356 448h1v2h-1zM200 450h1v2h-1zM497 476h1v3h-1z"/>
<path fill="rgb(146,84,38)" d="M734 415h1v2h-1zM790 496h1v2h-1zM400 498h1v2h-1zM507 497h1v3h-1zM801 498h1v2h-1zM376 500h1v4h-1zM541 500h1v2h-1zM622 500h1v2h-1zM681 500h1v2h-1zM723 500h1v2h-1zM768 498h1v4h-1zM769 500h1v4h-1zM481 501h1v3h-1zM565 502h1v2h-1zM566 502h1v2h-1zM814 516h1v2h-1zM451 547h1v2h-1zM482 547h1v4h-1zM548 547h1v2h-1zM671 547h1v3h-1zM845 547h1v2h-1zM402 549h1v2h-1zM838 558h1v2h-1zM589 582h1v2h-1zM701 582h1v2h-1zM836 581h1v3h-1zM427 584h1v2h-1zM464 582h1v4h-1zM834 628h1v2h-1zM503 642h1v3h-1zM555 642h1v3h-1zM556 643h1v2h-1zM554 644h1v3h-1zM560 645h1v2h-1zM606 643h1v4h-1zM695 644h1v3h-1zM696 645h1v2h-1zM697 644h1v3h-1zM698 645h1v2h-1zM700 645h1v2h-1zM701 643h1v4h-1zM723 645h1v2h-1zM750 645h1v2h-1zM765 645h1v2h-1zM766 645h1v2h-1zM869 645h1v2h-1zM870 645h1v3h-1zM871 645h1v3h-1zM381 647h1v2h-1zM413 647h1v2h-1zM543 647h1v2h-1zM605 647h1v2h-1zM677 647h1v4h-1zM688 646h1v3h-1zM726 646h1v3h-1zM419 649h1v2h-1zM470 649h1v2h-1zM897 651h1v4h-1zM600 652h1v4h-1zM535 656h1v4h-1zM605 656h1v2h-1zM598 663h1v2h-1zM401 665h1v2h-1zM389 667h1v3h-1zM413 667h1v2h-1zM415 667h1v2h-1zM425 667h1v2h-1zM595 667h1v2h-1zM717 667h1v2h-1zM718 667h1v2h-1zM910 669h1v2h-1zM144 494h1v3h-1zM893 547h1v3h-1zM305 564h1v4h-1zM481 610h1v2h-1zM321 614h1v2h-1zM428 628h1v2h-1zM538 640h1v2h-1zM353 648h1v4h-1zM359 652h1v2h-1z"/>
<path fill="rgb(156,70,38)" d="M426 496h1v2h-1zM427 496h1v2h-1zM428 496h1v2h-1zM669 496h1v3h-1zM853 496h1v2h-1zM854 496h1v2h-1zM855 495h1v3h-1zM472 498h1v4h-1zM539 498h1v4h-1zM840 497h1v3h-1zM841 498h1v2h-1zM670 498h1v4h-1zM828 500h1v2h-1zM648 517h1v2h-1zM510 582h1v2h-1zM512 582h1v4h-1zM691 582h1v2h-1zM407 627h1v3h-1zM875 630h1v2h-1zM376 645h1v2h-1zM386 645h1v2h-1zM430 645h1v2h-1zM431 645h1v2h-1zM454 644h1v3h-1zM455 645h1v2h-1zM456 645h1v2h-1zM632 645h1v2h-1zM880 645h1v2h-1zM883 645h1v2h-1zM908 645h1v3h-1zM375 646h1v3h-1zM793 647h1v2h-1zM803 646h1v3h-1zM843 647h1v2h-1zM574 649h1v2h-1zM517 651h1v2h-1zM518 651h1v2h-1zM634 651h1v2h-1zM851 651h1v2h-1zM885 663h1v2h-1zM671 665h1v2h-1zM414 667h1v2h-1zM730 667h1v2h-1zM743 667h1v2h-1zM828 667h1v2h-1zM829 667h1v4h-1zM478 669h1v2h-1zM709 671h1v2h-1zM264 540h1v2h-1zM848 540h1v4h-1zM759 548h1v4h-1zM358 637h1v3h-1zM592 644h1v2h-1zM439 648h1v4h-1z"/>
<path fill="rgb(165,57,38)" d="M371 569h1v2h-1zM274 118h1v2h-1zM508 498h1v3h-1zM556 497h1v3h-1zM557 498h1v2h-1zM558 498h1v3h-1zM800 498h1v2h-1zM802 496h1v4h-1zM419 500h1v3h-1zM470 516h1v2h-1zM488 516h1v2h-1zM704 517h1v2h-1zM705 517h1v2h-1zM911 517h1v2h-1zM462 547h1v3h-1zM523 547h1v2h-1zM827 582h1v2h-1zM828 582h1v2h-1zM829 582h1v3h-1zM671 584h1v2h-1zM545 628h1v2h-1zM546 628h1v2h-1zM626 641h1v4h-1zM841 643h1v2h-1zM728 645h1v2h-1zM731 645h1v2h-1zM735 643h1v4h-1zM736 643h1v4h-1zM400 647h1v2h-1zM402 645h1v4h-1zM403 647h1v2h-1zM589 647h1v2h-1zM830 647h1v2h-1zM831 647h1v2h-1zM832 647h1v2h-1zM552 649h1v2h-1zM672 665h1v2h-1zM735 665h1v2h-1zM250 667h1v2h-1zM605 480h1v2h-1zM532 494h1v2h-1zM405 502h1v2h-1zM406 519h1v3h-1zM608 628h1v2h-1zM762 628h1v2h-1zM605 638h1v2h-1z"/>
<path fill="rgb(174,44,38)" d="M171 109h1v2h-1zM339 94h1v2h-1zM362 404h1v2h-1zM490 495h1v3h-1zM576 495h1v3h-1zM577 496h1v2h-1zM439 498h1v4h-1zM411 547h1v2h-1zM412 547h1v2h-1zM809 545h1v4h-1zM810 547h1v2h-1zM638 582h1v2h-1zM467 628h1v3h-1zM612 628h1v2h-1zM531 641h1v2h-1zM532 641h1v3h-1zM909 641h1v4h-1zM444 645h1v2h-1zM642 645h1v2h-1zM643 643h1v4h-1zM645 645h1v2h-1zM814 643h1v4h-1zM847 645h1v2h-1zM797 647h1v2h-1zM866 647h1v2h-1zM675 649h1v2h-1zM721 649h1v2h-1zM805 649h1v4h-1zM533 654h1v2h-1zM534 653h1v3h-1zM661 656h1v3h-1zM755 669h1v2h-1zM757 504h1v4h-1zM733 560h1v2h-1zM477 574h1v4h-1zM521 595h1v3h-1zM651 608h1v4h-1zM561 626h1v4h-1zM375 648h1v5h-1zM836 650h1v2h-1zM503 652h1v3h-1z"/>
<path fill="rgb(179,39,38)" d="M835 498h1v2h-1zM883 581h1v3h-1zM377 649h1v2h-1zM378 649h1v2h-1zM752 649h1v2h-1zM753 648h1v3h-1zM802 667h1v2h-1zM810 667h1v2h-1z"/>
<path fill="rgb(181,41,38)" d="M259 577h1v2h-1zM332 658h1v2h-1zM627 299h1v2h-1z"/>
<path fill="rgb(182,46,38)" d="M850 94h1v2h-1zM669 652h1v2h-1zM620 62h1v2h-1zM185 590h1v2h-1zM504 382h1v2h-1zM277 137h1v2h-1zM765 518h1v2h-1zM680 582h1v4h-1z"/>
<path fill="rgb(185,58,38)" d="M727 511h1v2h-1zM724 397h1v2h-1zM465 543h1v2h-1zM467 150h1v2h-1zM875 494h1v2h-1zM743 344h1v2h-1zM237 619h1v2h-1zM597 632h1v2h-1zM754 663h1v4h-1z"/>
<path fill="rgb(188,69,38)" d="M787 398h1v2h-1zM274 589h1v2h-1zM856 81h1v2h-1zM390 351h1v2h-1zM777 500h1v2h-1zM778 500h1v2h-1zM862 500h1v2h-1zM863 500h1v3h-1zM678 582h1v3h-1zM461 632h1v2h-1zM462 632h1v2h-1zM463 632h1v4h-1zM391 645h1v2h-1zM392 643h1v4h-1zM628 647h1v3h-1zM611 616h1v2h-1z"/>
<path fill="rgb(191,80,38)" d="M222 371h1v2h-1zM385 541h1v2h-1zM339 392h1v2h-1zM664 396h1v2h-1zM463 482h1v2h-1zM874 623h1v2h-1zM791 516h1v2h-1zM706 518h1v4h-1zM490 578h1v4h-1z"/>
<path fill="rgb(193,91,38)" d="M378 614h1v2h-1zM429 614h1v2h-1zM801 604h1v2h-1zM708 411h1v2h-1zM893 375h1v2h-1zM673 523h1v2h-1zM543 549h1v2h-1zM697 632h1v2h-1zM698 632h1v2h-1zM699 631h1v3h-1zM745 634h1v2h-1zM615 641h1v2h-1zM472 645h1v2h-1z"/>
<path fill="rgb(196,103,38)" d="M384 549h1v2h-1zM735 343h1v2h-1zM184 522h1v2h-1zM685 405h1v2h-1zM469 592h1v2h-1zM614 581h1v2h-1zM779 505h1v2h-1zM608 647h1v2h-1zM650 647h1v4h-1zM454 525h1v3h-1z"/>
<path fill="rgb(199,114,38)" d="M241 576h1v2h-1zM225 481h1v2h-1zM213 603h1v2h-1zM167 447h1v2h-1zM206 470h1v2h-1zM889 616h1v2h-1zM333 630h1v4h-1zM696 630h1v2h-1zM427 644h1v3h-1zM668 494h1v2h-1z"/>
<path fill="rgb(201,125,38)" d="M658 607h1v2h-1zM582 551h1v2h-1zM346 213h1v2h-1zM724 636h1v2h-1zM624 94h1v2h-1zM637 617h1v2h-1zM739 584h1v2h-1zM404 643h1v4h-1zM652 550h1v2h-1z"/>
<path fill="rgb(203,137,38)" d="M845 482h1v2h-1zM568 548h1v2h-1zM672 400h1v2h-1zM277 608h1v2h-1zM784 414h1v2h-1zM905 610h1v2h-1z"/>
<path fill="rgb(205,148,38)" d="M475 371h1v2h-1zM772 97h1v2h-1zM276 490h1v2h-1zM151 464h1v2h-1zM564 81h1v2h-1zM482 69h1v2h-1zM619 386h1v2h-1zM590 634h1v2h-1zM591 634h1v2h-1zM450 641h1v2h-1zM478 647h1v2h-1zM481 647h1v3h-1zM859 514h1v2h-1z"/>
<path fill="rgb(207,158,38)" d="M508 71h1v2h-1zM329 636h1v2h-1zM311 426h1v2h-1z"/>
<path fill="rgb(209,167,38)" d="M583 550h1v2h-1zM634 359h1v2h-1zM792 371h1v2h-1zM682 382h1v2h-1zM751 632h1v2h-1zM175 440h1v2h-1z"/>
<path fill="rgb(212,177,38)" d="M716 93h1v2h-1zM262 150h1v2h-1zM507 361h1v2h-1zM528 122h1v2h-1zM278 611h1v2h-1zM598 403h1v2h-1zM587 554h1v2h-1zM211 285h1v2h-1zM771 643h1v4h-1zM782 641h1v3h-1z"/>
<path fill="rgb(214,185,38)" d="M116 107h1v2h-1zM343 448h1v2h-1zM611 334h1v2h-1zM344 233h1v2h-1zM424 142h1v2h-1zM672 519h1v2h-1zM476 545h1v4h-1zM530 547h1v2h-1zM502 582h1v3h-1zM442 646h1v3h-1zM541 649h1v2h-1zM543 649h1v2h-1z"/>
<path fill="rgb(214,193,38)" d="M251 280h1v2h-1zM525 617h1v2h-1zM723 67h1v2h-1zM452 535h1v2h-1zM472 634h1v2h-1zM410 647h1v2h-1zM411 647h1v2h-1z"/>
<path fill="rgb(215,200,38)" d="M543 135h1v2h-1zM490 215h1v2h-1zM719 517h1v2h-1zM268 504h1v2h-1zM165 665h1v2h-1zM792 517h1v2h-1zM765 559h1v2h-1zM494 429h1v2h-1zM608 498h1v2h-1zM571 654h1v2h-1zM660 640h1v2h-1z"/>
<path fill="rgb(216,207,38)" d="M783 394h1v2h-1zM530 510h1v2h-1zM881 131h1v2h-1zM771 218h1v2h-1zM701 609h1v2h-1zM326 577h1v2h-1zM532 547h1v2h-1zM533 547h1v2h-1zM534 547h1v2h-1zM535 547h1v2h-1zM386 584h1v2h-1zM742 628h1v4h-1z"/>
<path fill="rgb(216,214,38)" d="M450 83h1v2h-1z"/>
<path fill="rgb(0,148,7)" d="M208 659h1v2h-1zM224 659h1v2h-1zM225 659h1v2h-1zM226 659h1v2h-1zM227 659h1v2h-1zM228 659h1v2h-1zM229 659h1v2h-1zM345 659h1v2h-1zM346 659h1v2h-1zM353 659h1v2h-1zM354 659h1v2h-1zM362 659h1v2h-1zM431 659h1v2h-1zM459 659h1v2h-1zM471 659h1v2h-1zM472 659h1v2h-1zM473 659h1v2h-1zM474 659h1v2h-1zM475 659h1v2h-1zM476 659h1v2h-1zM513 659h1v2h-1zM514 659h1v2h-1zM515 659h1v2h-1zM516 659h1v2h-1zM517 659h1v2h-1zM518 659h1v2h-1zM525 659h1v2h-1zM526 659h1v2h-1zM527 659h1v2h-1zM528 659h1v2h-1zM529 659h1v2h-1zM643 659h1v2h-1zM644 659h1v2h-1zM685 659h1v2h-1zM730 659h1v2h-1zM731 659h1v2h-1zM732 659h1v2h-1zM733 659h1v2h-1zM734 659h1v2h-1zM735 659h1v2h-1zM813 659h1v2h-1z"/>
<path fill="rgb(6,148,0)" d="M106 659h1v2h-1zM107 659h1v2h-1zM114 659h1v2h-1zM115 659h1v2h-1zM116 659h1v2h-1zM122 659h1v2h-1zM123 659h1v2h-1zM124 659h1v2h-1zM125 659h1v2h-1zM126 659h1v2h-1zM135 659h1v2h-1zM142 659h1v2h-1zM143 659h1v2h-1zM157 659h1v2h-1zM170 659h1v2h-1zM171 659h1v2h-1zM172 659h1v2h-1zM178 659h1v2h-1zM179 659h1v2h-1zM182 659h1v2h-1zM183 659h1v2h-1zM184 659h1v2h-1zM185 659h1v2h-1zM186 659h1v2h-1zM187 659h1v2h-1zM189 659h1v2h-1zM195 659h1v2h-1zM196 659h1v2h-1zM197 659h1v2h-1zM198 659h1v2h-1zM199 659h1v2h-1zM200 659h1v2h-1zM202 659h1v2h-1zM203 659h1v2h-1zM204 659h1v2h-1zM205 659h1v2h-1zM206 659h1v2h-1zM207 659h1v2h-1zM209 659h1v2h-1zM210 659h1v2h-1zM211 659h1v2h-1zM212 659h1v2h-1zM213 659h1v2h-1zM214 659h1v2h-1zM219 659h1v2h-1zM232 659h1v2h-1zM233 659h1v2h-1zM235 659h1v2h-1zM238 659h1v2h-1zM243 659h1v2h-1zM244 659h1v2h-1zM249 659h1v2h-1zM252 659h1v2h-1zM254 659h1v2h-1zM255 659h1v2h-1zM256 659h1v2h-1zM257 659h1v2h-1zM258 659h1v2h-1zM259 659h1v2h-1zM266 659h1v2h-1zM267 659h1v2h-1zM268 659h1v2h-1zM269 659h1v2h-1zM270 659h1v2h-1zM271 659h1v2h-1zM272 659h1v2h-1zM273 659h1v2h-1zM274 659h1v2h-1zM275 659h1v2h-1zM276 659h1v2h-1zM277 659h1v2h-1zM278 659h1v2h-1zM281 659h1v2h-1zM284 659h1v2h-1zM285 659h1v2h-1zM286 659h1v2h-1zM287 659h1v2h-1zM297 659h1v2h-1zM298 659h1v2h-1zM299 659h1v2h-1zM300 659h1v2h-1zM301 659h1v2h-1zM302 659h1v2h-1zM303 659h1v2h-1zM305 659h1v2h-1zM306 659h1v2h-1zM307 659h1v2h-1zM308 659h1v2h-1zM309 659h1v2h-1zM310 659h1v2h-1zM311 659h1v2h-1zM312 659h1v2h-1zM313 659h1v2h-1zM314 659h1v2h-1zM315 659h1v2h-1zM317 659h1v2h-1zM318 659h1v2h-1zM319 659h1v2h-1zM321 659h1v2h-1zM322 659h1v2h-1zM323 659h1v2h-1zM324 659h1v2h-1zM331 659h1v2h-1zM332 659h1v2h-1zM341 659h1v2h-1zM342 659h1v2h-1zM343 659h1v2h-1zM344 659h1v2h-1zM356 659h1v2h-1zM368 659h1v2h-1zM369 659h1v2h-1zM370 659h1v2h-1zM371 659h1v2h-1zM372 659h1v2h-1zM373 659h1v2h-1zM388 659h1v2h-1zM391 659h1v2h-1zM392 659h1v2h-1zM393 659h1v2h-1zM406 659h1v2h-1zM407 659h1v2h-1zM408 659h1v2h-1zM416 659h1v2h-1zM417 659h1v2h-1zM418 659h1v2h-1zM419 659h1v2h-1zM420 659h1v2h-1zM427 659h1v2h-1zM428 659h1v2h-1zM433 659h1v2h-1zM438 659h1v2h-1zM439 659h1v2h-1zM453 659h1v2h-1zM470 659h1v2h-1zM484 659h1v2h-1zM485 659h1v2h-1zM486 659h1v2h-1zM494 659h1v2h-1zM496 659h1v2h-1zM498 659h1v2h-1zM499 659h1v2h-1zM501 659h1v2h-1zM502 659h1v2h-1zM507 659h1v2h-1zM508 659h1v2h-1zM509 659h1v2h-1zM510 659h1v2h-1zM511 659h1v2h-1zM512 659h1v2h-1zM530 659h1v2h-1zM531 659h1v2h-1zM532 659h1v2h-1zM544 659h1v2h-1zM545 659h1v2h-1zM546 659h1v2h-1zM547 659h1v2h-1zM548 659h1v2h-1zM570 659h1v2h-1zM576 659h1v2h-1zM578 659h1v2h-1zM579 659h1v2h-1zM585 659h1v2h-1zM596 659h1v2h-1zM597 659h1v2h-1zM598 659h1v2h-1zM599 659h1v2h-1zM600 659h1v2h-1zM603 659h1v2h-1zM604 659h1v2h-1zM605 659h1v2h-1zM606 659h1v2h-1zM610 659h1v2h-1zM621 659h1v2h-1zM622 659h1v2h-1zM638 659h1v2h-1zM639 659h1v2h-1zM642 659h1v2h-1zM645 659h1v2h-1zM650 659h1v2h-1zM651 659h1v2h-1zM652 659h1v2h-1zM653 659h1v2h-1zM654 659h1v2h-1zM655 659h1v2h-1zM660 659h1v2h-1zM661 659h1v2h-1zM662 659h1v2h-1zM663 659h1v2h-1zM664 659h1v2h-1zM665 659h1v2h-1zM666 659h1v2h-1zM667 659h1v2h-1zM668 659h1v2h-1zM669 659h1v2h-1zM670 659h1v2h-1zM690 659h1v2h-1zM693 659h1v2h-1zM694 659h1v2h-1zM695 659h1v2h-1zM696 659h1v2h-1zM698 659h1v2h-1zM699 659h1v2h-1zM700 659h1v2h-1zM705 659h1v2h-1zM706 659h1v2h-1zM707 659h1v2h-1zM708 659h1v2h-1zM709 659h1v2h-1zM710 659h1v2h-1zM711 659h1v2h-1zM712 659h1v2h-1zM713 659h1v2h-1zM714 659h1v2h-1zM716 659h1v2h-1zM717 659h1v2h-1zM720 659h1v2h-1zM721 659h1v2h-1zM722 659h1v2h-1zM723 659h1v2h-1zM724 659h1v2h-1zM753 659h1v2h-1zM754 659h1v2h-1zM755 659h1v2h-1zM757 659h1v2h-1zM758 659h1v2h-1zM759 659h1v2h-1zM760 659h1v2h-1zM761 659h1v2h-1zM762 659h1v2h-1zM766 659h1v2h-1zM767 659h1v2h-1zM770 659h1v2h-1zM771 659h1v2h-1zM772 659h1v2h-1zM773 659h1v2h-1zM774 659h1v2h-1zM775 659h1v2h-1zM777 659h1v2h-1zM778 659h1v2h-1zM779 659h1v2h-1zM780 659h1v2h-1zM781 659h1v2h-1zM782 659h1v2h-1zM786 659h1v2h-1zM801 659h1v2h-1zM803 659h1v2h-1zM804 659h1v2h-1zM805 659h1v2h-1zM806 659h1v2h-1zM807 659h1v2h-1zM808 659h1v2h-1zM809 659h1v2h-1zM811 659h1v2h-1zM819 659h1v2h-1zM824 659h1v2h-1zM825 659h1v2h-1zM826 659h1v2h-1zM827 659h1v2h-1zM828 659h1v2h-1zM829 659h1v2h-1zM830 659h1v2h-1zM831 659h1v2h-1zM833 659h1v2h-1zM834 659h1v2h-1zM835 659h1v2h-1zM836 659h1v2h-1zM837 659h1v2h-1zM838 659h1v2h-1zM843 659h1v2h-1zM844 659h1v2h-1zM845 659h1v2h-1zM846 659h1v2h-1zM847 659h1v2h-1zM848 659h1v2h-1zM849 659h1v2h-1zM850 659h1v2h-1zM851 659h1v2h-1zM852 659h1v2h-1zM853 659h1v2h-1zM861 659h1v2h-1zM865 659h1v2h-1zM880 659h1v2h-1zM881 659h1v2h-1zM884 659h1v2h-1zM887 659h1v2h-1zM888 659h1v2h-1zM889 659h1v2h-1zM891 659h1v2h-1zM898 659h1v2h-1zM899 659h1v2h-1zM900 659h1v2h-1zM901 659h1v2h-1zM902 659h1v2h-1zM903 659h1v2h-1zM904 659h1v2h-1zM905 659h1v2h-1zM906 659h1v2h-1zM911 659h1v2h-1z"/>
<path fill="rgb(27,141,0)" d="M105 659h1v2h-1zM108 659h1v2h-1zM109 659h1v2h-1zM110 659h1v2h-1zM111 659h1v2h-1zM112 659h1v2h-1zM113 659h1v2h-1zM117 659h1v2h-1zM118 659h1v2h-1zM119 659h1v2h-1zM120 659h1v2h-1zM121 659h1v2h-1zM131 659h1v2h-1zM132 659h1v2h-1zM133 659h1v2h-1zM134 659h1v2h-1zM136 659h1v2h-1zM137 659h1v2h-1zM138 659h1v2h-1zM146 659h1v2h-1zM147 659h1v2h-1zM148 659h1v2h-1zM149 659h1v2h-1zM150 659h1v2h-1zM151 659h1v2h-1zM153 659h1v2h-1zM154 659h1v2h-1zM155 659h1v2h-1zM156 659h1v2h-1zM158 659h1v2h-1zM159 659h1v2h-1zM160 659h1v2h-1zM162 659h1v2h-1zM163 659h1v2h-1zM164 659h1v2h-1zM165 659h1v2h-1zM166 659h1v2h-1zM167 659h1v2h-1zM175 659h1v2h-1zM176 659h1v2h-1zM177 659h1v2h-1zM180 659h1v2h-1zM181 659h1v2h-1zM191 659h1v2h-1zM192 659h1v2h-1zM193 659h1v2h-1zM194 659h1v2h-1zM216 659h1v2h-1zM217 659h1v2h-1zM218 659h1v2h-1zM220 659h1v2h-1zM221 659h1v2h-1zM222 659h1v2h-1zM223 659h1v2h-1zM230 659h1v2h-1zM231 659h1v2h-1zM234 659h1v2h-1zM237 659h1v2h-1zM240 659h1v2h-1zM241 659h1v2h-1zM242 659h1v2h-1zM245 659h1v2h-1zM248 659h1v2h-1zM251 659h1v2h-1zM260 659h1v2h-1zM282 659h1v2h-1zM283 659h1v2h-1zM288 659h1v2h-1zM289 659h1v2h-1zM290 659h1v2h-1zM291 659h1v2h-1zM292 659h1v2h-1zM293 659h1v2h-1zM294 659h1v2h-1zM295 659h1v2h-1zM327 659h1v2h-1zM328 659h1v2h-1zM330 659h1v2h-1zM334 659h1v2h-1zM335 659h1v2h-1zM336 659h1v2h-1zM337 659h1v2h-1zM338 659h1v2h-1zM339 659h1v2h-1zM347 659h1v2h-1zM348 659h1v2h-1zM367 659h1v2h-1zM374 659h1v2h-1zM375 659h1v2h-1zM376 659h1v2h-1zM377 659h1v2h-1zM378 659h1v2h-1zM379 659h1v2h-1zM380 659h1v2h-1zM381 659h1v2h-1zM382 659h1v2h-1zM385 659h1v2h-1zM386 659h1v2h-1zM387 659h1v2h-1zM389 659h1v2h-1zM397 659h1v2h-1zM398 659h1v2h-1zM399 659h1v2h-1zM400 659h1v2h-1zM401 659h1v2h-1zM402 659h1v2h-1zM411 659h1v2h-1zM412 659h1v2h-1zM421 659h1v2h-1zM422 659h1v2h-1zM424 659h1v2h-1zM425 659h1v2h-1zM426 659h1v2h-1zM435 659h1v2h-1zM436 659h1v2h-1zM441 659h1v2h-1zM442 659h1v2h-1zM443 659h1v2h-1zM444 659h1v2h-1zM445 659h1v2h-1zM446 659h1v2h-1zM447 659h1v2h-1zM448 659h1v2h-1zM449 659h1v2h-1zM450 659h1v2h-1zM451 659h1v2h-1zM454 659h1v2h-1zM457 659h1v2h-1zM458 659h1v2h-1zM460 659h1v2h-1zM461 659h1v2h-1zM462 659h1v2h-1zM463 659h1v2h-1zM464 659h1v2h-1zM477 659h1v2h-1zM478 659h1v2h-1zM479 659h1v2h-1zM480 659h1v2h-1zM481 659h1v2h-1zM482 659h1v2h-1zM483 659h1v2h-1zM487 659h1v2h-1zM488 659h1v2h-1zM489 659h1v2h-1zM490 659h1v2h-1zM491 659h1v2h-1zM495 659h1v2h-1zM506 659h1v2h-1zM519 659h1v2h-1zM520 659h1v2h-1zM521 659h1v2h-1zM522 659h1v2h-1zM534 659h1v2h-1zM535 659h1v2h-1zM536 659h1v2h-1zM537 659h1v2h-1zM538 659h1v2h-1zM539 659h1v2h-1zM549 659h1v2h-1zM550 659h1v2h-1zM551 659h1v2h-1zM552 659h1v2h-1zM553 659h1v2h-1zM554 659h1v2h-1zM555 659h1v2h-1zM556 659h1v2h-1zM557 659h1v2h-1zM558 659h1v2h-1zM559 659h1v2h-1zM560 659h1v2h-1zM561 659h1v2h-1zM562 659h1v2h-1zM563 659h1v2h-1zM564 659h1v2h-1zM565 659h1v2h-1zM566 659h1v2h-1zM567 659h1v2h-1zM568 659h1v2h-1zM569 659h1v2h-1zM571 659h1v2h-1zM572 659h1v2h-1zM573 659h1v2h-1zM574 659h1v2h-1zM575 659h1v2h-1zM577 659h1v2h-1zM580 659h1v2h-1zM586 659h1v2h-1zM587 659h1v2h-1zM588 659h1v2h-1zM589 659h1v2h-1zM590 659h1v2h-1zM591 659h1v2h-1zM592 659h1v2h-1zM602 659h1v2h-1zM611 659h1v2h-1zM612 659h1v2h-1zM613 659h1v2h-1zM618 659h1v2h-1zM626 659h1v2h-1zM627 659h1v2h-1zM628 659h1v2h-1zM629 659h1v2h-1zM630 659h1v2h-1zM631 659h1v2h-1zM632 659h1v2h-1zM633 659h1v2h-1zM634 659h1v2h-1zM635 659h1v2h-1zM636 659h1v2h-1zM657 659h1v2h-1zM658 659h1v2h-1zM659 659h1v2h-1zM672 659h1v2h-1zM673 659h1v2h-1zM674 659h1v2h-1zM675 659h1v2h-1zM676 659h1v2h-1zM677 659h1v2h-1zM679 659h1v2h-1zM680 659h1v2h-1zM681 659h1v2h-1zM682 659h1v2h-1zM683 659h1v2h-1zM684 659h1v2h-1zM687 659h1v2h-1zM688 659h1v2h-1zM697 659h1v2h-1zM702 659h1v2h-1zM703 659h1v2h-1zM704 659h1v2h-1zM725 659h1v2h-1zM729 659h1v2h-1zM739 659h1v2h-1zM741 659h1v2h-1zM742 659h1v2h-1zM743 659h1v2h-1zM744 659h1v2h-1zM745 659h1v2h-1zM746 659h1v2h-1zM747 659h1v2h-1zM748 659h1v2h-1zM776 659h1v2h-1zM783 659h1v2h-1zM784 659h1v2h-1zM785 659h1v2h-1zM792 659h1v2h-1zM794 659h1v2h-1zM795 659h1v2h-1zM798 659h1v2h-1zM799 659h1v2h-1zM810 659h1v2h-1zM815 659h1v2h-1zM816 659h1v2h-1zM817 659h1v2h-1zM820 659h1v2h-1zM821 659h1v2h-1zM822 659h1v2h-1zM823 659h1v2h-1zM854 659h1v2h-1zM855 659h1v2h-1zM856 659h1v2h-1zM857 659h1v2h-1zM858 659h1v2h-1zM859 659h1v2h-1zM860 659h1v2h-1zM866 659h1v2h-1zM867 659h1v2h-1zM871 659h1v2h-1zM872 659h1v2h-1zM873 659h1v2h-1zM874 659h1v2h-1zM882 659h1v2h-1zM886 659h1v2h-1zM892 659h1v2h-1zM893 659h1v2h-1zM907 659h1v2h-1zM908 659h1v2h-1z"/>
<path fill="rgb(49,132,0)" d="M144 659h1v2h-1zM145 659h1v2h-1zM152 659h1v2h-1zM383 659h1v2h-1zM542 659h1v2h-1zM640 659h1v2h-1zM641 659h1v2h-1zM839 659h1v2h-1z"/>
<path fill="rgb(72,123,0)" d="M139 659h1v2h-1zM140 659h1v2h-1zM173 659h1v2h-1zM174 659h1v2h-1zM188 659h1v2h-1zM304 659h1v2h-1zM316 659h1v2h-1zM340 659h1v2h-1zM351 659h1v2h-1zM352 659h1v2h-1zM357 659h1v2h-1zM390 659h1v2h-1zM405 659h1v2h-1zM452 659h1v2h-1zM456 659h1v2h-1zM503 659h1v2h-1zM524 659h1v2h-1zM540 659h1v2h-1zM607 659h1v2h-1zM608 659h1v2h-1zM623 659h1v2h-1zM625 659h1v2h-1zM671 659h1v2h-1zM678 659h1v2h-1zM692 659h1v2h-1zM787 659h1v2h-1zM788 659h1v2h-1zM789 659h1v2h-1zM814 659h1v2h-1zM832 659h1v2h-1zM868 659h1v2h-1zM869 659h1v2h-1zM885 659h1v2h-1zM912 659h1v2h-1z"/>
<path fill="rgb(96,114,0)" d="M161 659h1v2h-1zM168 659h1v2h-1zM215 659h1v2h-1zM280 659h1v2h-1zM349 659h1v2h-1zM350 659h1v2h-1zM360 659h1v2h-1zM361 659h1v2h-1zM363 659h1v2h-1zM364 659h1v2h-1zM365 659h1v2h-1zM384 659h1v2h-1zM434 659h1v2h-1zM455 659h1v2h-1zM533 659h1v2h-1zM541 659h1v2h-1zM593 659h1v2h-1zM594 659h1v2h-1zM595 659h1v2h-1zM614 659h1v2h-1zM615 659h1v2h-1zM647 659h1v2h-1zM648 659h1v2h-1zM649 659h1v2h-1zM718 659h1v2h-1zM749 659h1v2h-1zM752 659h1v2h-1zM768 659h1v2h-1zM769 659h1v2h-1zM790 659h1v2h-1zM791 659h1v2h-1zM793 659h1v2h-1zM812 659h1v2h-1zM818 659h1v2h-1zM863 659h1v2h-1zM864 659h1v2h-1zM876 659h1v2h-1zM879 659h1v2h-1z"/>
<path fill="rgb(120,102,0)" d="M169 659h1v2h-1zM262 659h1v2h-1zM263 659h1v2h-1zM264 659h1v2h-1zM279 659h1v2h-1zM329 659h1v2h-1zM404 659h1v2h-1zM440 659h1v2h-1zM465 659h1v2h-1zM505 659h1v2h-1zM656 659h1v2h-1zM691 659h1v2h-1zM701 659h1v2h-1zM726 659h1v2h-1zM736 659h1v2h-1zM737 659h1v2h-1zM738 659h1v2h-1zM750 659h1v2h-1zM751 659h1v2h-1zM796 659h1v2h-1zM797 659h1v2h-1zM800 659h1v2h-1zM841 659h1v2h-1zM842 659h1v2h-1zM862 659h1v2h-1zM870 659h1v2h-1zM878 659h1v2h-1zM895 659h1v2h-1zM896 659h1v2h-1zM897 659h1v2h-1zM909 659h1v2h-1zM910 659h1v2h-1z"/>
<path fill="rgb(137,85,0)" d="M265 659h1v2h-1zM333 659h1v2h-1zM423 659h1v2h-1zM543 659h1v2h-1zM624 659h1v2h-1zM646 659h1v2h-1zM740 659h1v2h-1zM875 659h1v2h-1z"/>
<path fill="rgb(154,66,0)" d="M504 659h1v2h-1z"/>
<path fill="rgb(182,27,0)" d="M127 659h1v2h-1zM128 659h1v2h-1zM253 659h1v2h-1zM355 659h1v2h-1z"/>
<path fill="rgb(195,8,0)" d="M129 659h1v2h-1zM130 659h1v2h-1zM201 659h1v2h-1zM246 659h1v2h-1zM247 659h1v2h-1zM261 659h1v2h-1zM637 659h1v2h-1zM686 659h1v2h-1zM894 659h1v2h-1z"/>
<path fill="rgb(202,2,0)" d="M190 659h1v2h-1zM250 659h1v2h-1zM358 659h1v2h-1zM359 659h1v2h-1zM366 659h1v2h-1zM403 659h1v2h-1zM415 659h1v2h-1zM437 659h1v2h-1zM469 659h1v2h-1zM523 659h1v2h-1zM583 659h1v2h-1zM584 659h1v2h-1zM616 659h1v2h-1zM617 659h1v2h-1zM689 659h1v2h-1zM715 659h1v2h-1zM727 659h1v2h-1zM728 659h1v2h-1z"/>
<path fill="rgb(204,4,0)" d="M320 659h1v2h-1zM409 659h1v2h-1zM410 659h1v2h-1zM466 659h1v2h-1zM492 659h1v2h-1zM493 659h1v2h-1zM581 659h1v2h-1zM582 659h1v2h-1zM601 659h1v2h-1zM619 659h1v2h-1zM620 659h1v2h-1zM756 659h1v2h-1zM877 659h1v2h-1zM883 659h1v2h-1z"/>
<path fill="rgb(206,11,0)" d="M296 659h1v2h-1zM325 659h1v2h-1zM326 659h1v2h-1zM467 659h1v2h-1zM468 659h1v2h-1zM497 659h1v2h-1zM763 659h1v2h-1zM764 659h1v2h-1z"/>
<path fill="rgb(208,19,0)" d="M396 659h1v2h-1zM413 659h1v2h-1zM414 659h1v2h-1zM765 659h1v2h-1z"/>
<path fill="rgb(210,28,0)" d="M890 659h1v2h-1z"/>
<path fill="rgb(212,36,0)" d="M141 659h1v2h-1z"/>
<path fill="rgb(214,44,0)" d="M719 659h1v2h-1z"/>
<path fill="rgb(218,60,0)" d="M394 659h1v2h-1zM395 659h1v2h-1zM500 659h1v2h-1zM802 659h1v2h-1z"/>
<path fill="rgb(220,68,0)" d="M609 659h1v2h-1z"/>
<path fill="rgb(226,93,0)" d="M236 659h1v2h-1z"/>
<path fill="rgb(231,117,0)" d="M840 659h1v2h-1z"/>
<path fill="rgb(233,125,0)" d="M239 659h1v2h-1z"/>
<path fill="rgb(234,134,0)" d="M429 659h1v2h-1zM430 659h1v2h-1zM432 659h1v2h-1z"/>
</g>
<g stroke="#0a0a0a" stroke-width="1.25" fill="none">
<path d="M104.5 680.5V52.2M913.5 52.2V680.5" stroke="#1c1c1c" stroke-width="1.1"/>
<path d="M103.88 52.85H914.12" stroke-width="1.6"/>
<path d="M103.88 680.05H914.12" stroke-width="1.5"/>
<path d="M104.5 654.2h4M913.5 654.2h-4M104.5 628.1h4M913.5 628.1h-4M104.5 602.0h4M913.5 602.0h-4M104.5 575.8h7M913.5 575.8h-7M104.5 549.6h4M913.5 549.6h-4M104.5 523.5h4M913.5 523.5h-4M104.5 497.4h4M913.5 497.4h-4M104.5 471.2h7M913.5 471.2h-7M104.5 445.0h4M913.5 445.0h-4M104.5 418.9h4M913.5 418.9h-4M104.5 392.8h4M913.5 392.8h-4M104.5 366.6h7M913.5 366.6h-7M104.5 340.4h4M913.5 340.4h-4M104.5 314.3h4M913.5 314.3h-4M104.5 288.1h4M913.5 288.1h-4M104.5 262.0h7M913.5 262.0h-7M104.5 235.9h4M913.5 235.9h-4M104.5 209.7h4M913.5 209.7h-4M104.5 183.6h4M913.5 183.6h-4M104.5 157.4h7M913.5 157.4h-7M104.5 131.2h4M913.5 131.2h-4M104.5 105.1h4M913.5 105.1h-4M104.5 79.0h4M913.5 79.0h-4M123.4 680.0v-3.5M123.4 52.5v3.5M145.9 680.0v-3.5M145.9 52.5v3.5M168.3 680.0v-3.5M168.3 52.5v3.5M190.8 680.0v-3.5M190.8 52.5v3.5M213.3 680.0v-3.5M213.3 52.5v3.5M235.8 680.0v-5.5M235.8 52.5v5.5M258.3 680.0v-3.5M258.3 52.5v3.5M280.8 680.0v-3.5M280.8 52.5v3.5M303.3 680.0v-3.5M303.3 52.5v3.5M325.8 680.0v-3.5M325.8 52.5v3.5M348.2 680.0v-3.5M348.2 52.5v3.5M370.7 680.0v-5.5M370.7 52.5v5.5M393.2 680.0v-3.5M393.2 52.5v3.5M415.7 680.0v-3.5M415.7 52.5v3.5M438.2 680.0v-3.5M438.2 52.5v3.5M460.7 680.0v-3.5M460.7 52.5v3.5M483.2 680.0v-3.5M483.2 52.5v3.5M505.6 680.0v-5.5M505.6 52.5v5.5M528.1 680.0v-3.5M528.1 52.5v3.5M550.6 680.0v-3.5M550.6 52.5v3.5M573.1 680.0v-3.5M573.1 52.5v3.5M595.6 680.0v-3.5M595.6 52.5v3.5M618.1 680.0v-3.5M618.1 52.5v3.5M640.6 680.0v-5.5M640.6 52.5v5.5M663.1 680.0v-3.5M663.1 52.5v3.5M685.5 680.0v-3.5M685.5 52.5v3.5M708.0 680.0v-3.5M708.0 52.5v3.5M730.5 680.0v-3.5M730.5 52.5v3.5M753.0 680.0v-3.5M753.0 52.5v3.5M775.5 680.0v-5.5M775.5 52.5v5.5M798.0 680.0v-3.5M798.0 52.5v3.5M820.5 680.0v-3.5M820.5 52.5v3.5M843.0 680.0v-3.5M843.0 52.5v3.5M865.5 680.0v-3.5M865.5 52.5v3.5M887.9 680.0v-3.5M887.9 52.5v3.5M910.4 680.0v-5.5M910.4 52.5v5.5" stroke-width="1"/>
</g>
<rect x="923.5" y="128.5" width="25" height="477" fill="url(#cb)" stroke="#333" stroke-width="0.8"/>
<path d="M948.5 590.1h-2M948.5 567.7h-2M948.5 545.4h-2M948.5 523.0h-2M948.5 500.6h-2M948.5 478.2h-2M948.5 455.9h-2M948.5 433.5h-2M948.5 411.1h-2M948.5 388.8h-2M948.5 366.4h-2M948.5 344.0h-2M948.5 321.7h-2M948.5 299.3h-2M948.5 276.9h-2M948.5 254.5h-2M948.5 232.2h-2M948.5 209.8h-2M948.5 187.4h-2M948.5 165.1h-2M948.5 142.7h-2" stroke="#000" stroke-width="1" fill="none"/>
<g font-family="'Liberation Sans', sans-serif" font-size="20" fill="#000" stroke="#000" stroke-width="0.2">
<text x="523" y="39.9" text-anchor="middle" xml:space="preserve" style="white-space:pre">Doppler Velocity VELg   05:01 24.02.2022 - 08:00 24.02.2022 Muenchen</text>
<text x="100" y="680.0" text-anchor="end">0</text>
<text x="100" y="582.3" text-anchor="end">2</text>
<text x="100" y="477.7" text-anchor="end">4</text>
<text x="100" y="373.1" text-anchor="end">6</text>
<text x="100" y="268.5" text-anchor="end">8</text>
<text x="100" y="163.9" text-anchor="end">10</text>
<text x="100" y="64.9" text-anchor="end">12</text>
<text x="235.8" y="705" text-anchor="middle">05:30</text>
<text x="370.7" y="705" text-anchor="middle">06:00</text>
<text x="505.6" y="705" text-anchor="middle">06:30</text>
<text x="640.6" y="705" text-anchor="middle">07:00</text>
<text x="775.5" y="705" text-anchor="middle">07:30</text>
<text x="910.4" y="705" text-anchor="middle">08:00</text>
<text x="509.5" y="727.3" text-anchor="middle">Time UTC</text>
<text transform="translate(62.3 364) rotate(-90)" text-anchor="middle">Height km</text>
<text transform="translate(999.8 366.4) rotate(-90)" text-anchor="middle">VELg m/s</text>
<text x="953.3" y="149.6">10</text>
<text x="953.3" y="261.4">5</text>
<text x="953.3" y="373.3">0</text>
<text x="953.3" y="485.1">-5</text>
<text x="953.3" y="597.0">-10</text>
</g>
</svg>
</body></html>
